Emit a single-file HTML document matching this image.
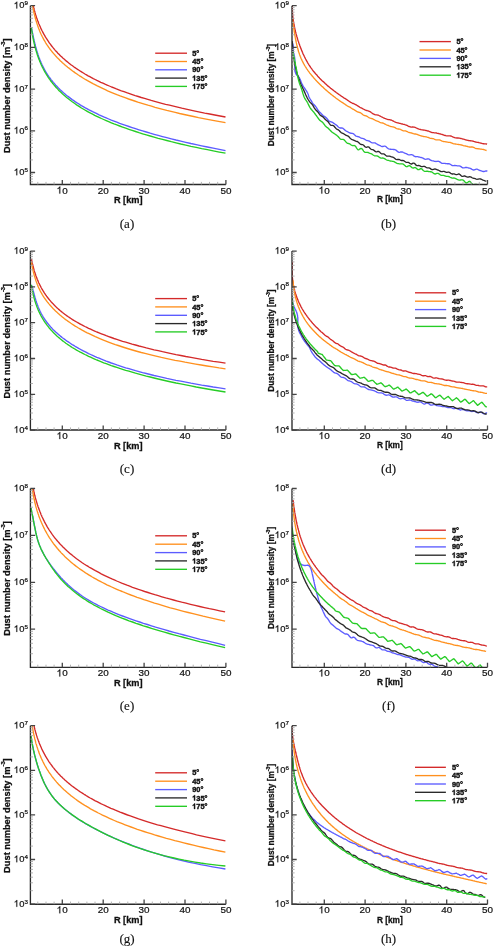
<!DOCTYPE html>
<html><head><meta charset="utf-8"><style>
html,body{margin:0;padding:0;background:#fff;}
body{width:493px;height:946px;overflow:hidden;}
svg{display:block;will-change:transform;font-family:"Liberation Sans",sans-serif;fill:#111;}
text{fill:#111;}
.tl{stroke:#111;stroke-width:.22px;}
.lg{stroke:#111;stroke-width:.4px;}
.bl{stroke:#111;stroke-width:.28px;}
.cp{stroke:#222;stroke-width:.15px;}
</style></head><body>
<svg width="493" height="946" viewBox="0 0 493 946">
<rect width="493" height="946" fill="#fff"/>
<clipPath id="cpa"><rect x="30.4" y="5.1" width="196.5" height="179.4"/></clipPath>
<g clip-path="url(#cpa)" fill="none" stroke-width="1.35" stroke-linejoin="round">
<path d="M33.2,5.7 L33.3,6.1 L33.4,6.6 L33.6,7.1 L33.7,7.6 L33.8,8.1 L33.9,8.6 L34.1,9.1 L34.2,9.7 L34.3,10.2 L34.5,10.7 L34.6,11.3 L34.8,11.8 L35,12.4 L35.1,12.9 L35.3,13.5 L35.5,14.1 L35.6,14.7 L35.8,15.2 L36,15.8 L36.2,16.4 L36.4,17 L36.6,17.7 L36.8,18.3 L37,18.9 L37.3,19.5 L37.5,20.1 L37.7,20.8 L38,21.4 L38.2,22.1 L38.5,22.7 L38.7,23.4 L39,24.1 L39.3,24.7 L39.6,25.4 L39.9,26.1 L40.2,26.8 L40.5,27.5 L40.8,28.2 L41.1,28.9 L41.5,29.6 L41.8,30.3 L42.2,31 L42.6,31.7 L42.9,32.4 L43.3,33.2 L43.7,33.9 L44.1,34.7 L44.6,35.4 L45,36.1 L45.4,36.9 L45.9,37.7 L46.4,38.4 L46.9,39.2 L47.4,40 L47.9,40.7 L48.4,41.5 L49,42.3 L49.5,43.1 L50.1,43.9 L50.7,44.7 L51.3,45.5 L51.9,46.3 L52.6,47.1 L53.2,47.9 L53.9,48.7 L54.6,49.6 L55.3,50.4 L56.1,51.2 L56.9,52 L57.6,52.9 L58.4,53.7 L59.3,54.6 L60.1,55.4 L61,56.3 L61.9,57.1 L62.8,58 L63.8,58.8 L64.8,59.7 L65.8,60.6 L66.8,61.4 L67.9,62.3 L69,63.2 L70.1,64.1 L71.3,65 L72.5,65.8 L73.7,66.7 L75,67.6 L76.3,68.5 L77.6,69.4 L79,70.3 L80.4,71.2 L81.9,72.1 L83.4,73 L84.9,74 L86.5,74.9 L88.1,75.8 L89.8,76.7 L91.5,77.6 L93.3,78.6 L95.1,79.5 L96.9,80.4 L98.9,81.3 L100.8,82.3 L102.9,83.2 L105,84.2 L107.1,85.1 L109.3,86 L111.6,87 L114,87.9 L116.4,88.9 L118.8,89.8 L121.4,90.8 L124,91.7 L126.7,92.7 L129.5,93.6 L132.3,94.6 L135.2,95.6 L138.2,96.5 L141.3,97.5 L144.5,98.4 L147.8,99.4 L151.2,100.4 L154.6,101.3 L158.2,102.3 L161.8,103.3 L165.6,104.3 L169.5,105.2 L173.5,106.2 L177.6,107.2 L181.8,108.2 L186.1,109.1 L190.6,110.1 L195.1,111.1 L199.9,112.1 L204.7,113.1 L209.7,114 L214.8,115 L220.1,116 L225.5,117" stroke="#d42a2a"/>
<path d="M32.4,6 L32.5,6.4 L32.6,6.8 L32.7,7.2 L32.8,7.7 L32.9,8.1 L33,8.6 L33.1,9.1 L33.3,9.6 L33.4,10.1 L33.5,10.7 L33.6,11.2 L33.8,11.8 L33.9,12.4 L34,13 L34.2,13.6 L34.3,14.2 L34.5,14.8 L34.7,15.4 L34.8,16 L35,16.7 L35.2,17.4 L35.3,18 L35.5,18.7 L35.7,19.4 L35.9,20.1 L36.1,20.7 L36.3,21.4 L36.5,22.2 L36.8,22.9 L37,23.6 L37.2,24.3 L37.5,25 L37.7,25.7 L38,26.5 L38.2,27.2 L38.5,27.9 L38.8,28.7 L39.1,29.4 L39.4,30.2 L39.7,30.9 L40,31.7 L40.3,32.4 L40.6,33.2 L41,34 L41.3,34.7 L41.7,35.5 L42.1,36.3 L42.5,37 L42.9,37.8 L43.3,38.6 L43.7,39.4 L44.1,40.2 L44.6,40.9 L45.1,41.7 L45.5,42.5 L46,43.3 L46.5,44.1 L47,44.9 L47.6,45.7 L48.1,46.5 L48.7,47.3 L49.3,48.1 L49.9,49 L50.5,49.8 L51.2,50.6 L51.8,51.4 L52.5,52.3 L53.2,53.1 L53.9,53.9 L54.7,54.8 L55.4,55.6 L56.2,56.5 L57,57.4 L57.9,58.2 L58.7,59.1 L59.6,60 L60.5,60.9 L61.5,61.8 L62.4,62.7 L63.4,63.6 L64.5,64.5 L65.5,65.4 L66.6,66.3 L67.7,67.2 L68.9,68.1 L70.1,69.1 L71.3,70 L72.6,71 L73.9,71.9 L75.2,72.9 L76.6,73.8 L78,74.8 L79.5,75.8 L81,76.7 L82.6,77.7 L84.2,78.7 L85.8,79.7 L87.5,80.7 L89.3,81.7 L91.1,82.7 L92.9,83.7 L94.9,84.7 L96.8,85.7 L98.9,86.7 L101,87.7 L103.1,88.7 L105.3,89.7 L107.6,90.8 L110,91.8 L112.4,92.8 L114.9,93.8 L117.5,94.9 L120.1,95.9 L122.9,96.9 L125.7,97.9 L128.6,99 L131.6,100 L134.6,101 L137.8,102.1 L141.1,103.1 L144.4,104.1 L147.9,105.2 L151.5,106.2 L155.1,107.3 L158.9,108.3 L162.8,109.3 L166.8,110.4 L171,111.4 L175.2,112.4 L179.6,113.5 L184.1,114.5 L188.8,115.5 L193.6,116.5 L198.5,117.6 L203.6,118.6 L208.8,119.6 L214.2,120.6 L219.8,121.7 L225.5,122.7" stroke="#ff901e"/>
<path d="M31.4,27.4 L31.5,27.7 L31.5,28.1 L31.6,28.5 L31.7,28.9 L31.8,29.3 L31.9,29.7 L32,30.2 L32.1,30.6 L32.1,31.1 L32.2,31.6 L32.3,32.1 L32.4,32.6 L32.6,33.2 L32.7,33.7 L32.8,34.3 L32.9,34.9 L33,35.5 L33.1,36.1 L33.3,36.7 L33.4,37.3 L33.5,38 L33.7,38.6 L33.8,39.3 L34,40 L34.1,40.7 L34.3,41.4 L34.5,42.1 L34.6,42.8 L34.8,43.5 L35,44.3 L35.2,45 L35.4,45.8 L35.6,46.6 L35.8,47.3 L36,48.1 L36.3,48.9 L36.5,49.7 L36.7,50.5 L37,51.3 L37.2,52.2 L37.5,53 L37.8,53.8 L38,54.7 L38.3,55.5 L38.6,56.4 L38.9,57.2 L39.3,58.1 L39.6,58.9 L39.9,59.8 L40.3,60.7 L40.7,61.6 L41,62.4 L41.4,63.3 L41.8,64.2 L42.2,65.1 L42.7,66 L43.1,66.9 L43.6,67.8 L44,68.7 L44.5,69.6 L45,70.5 L45.5,71.4 L46.1,72.3 L46.6,73.2 L47.2,74.1 L47.8,75 L48.4,75.9 L49,76.8 L49.7,77.7 L50.4,78.7 L51,79.6 L51.8,80.5 L52.5,81.4 L53.3,82.4 L54.1,83.3 L54.9,84.2 L55.7,85.2 L56.6,86.1 L57.5,87 L58.4,88 L59.4,88.9 L60.4,89.9 L61.4,90.8 L62.4,91.8 L63.5,92.8 L64.7,93.7 L65.8,94.7 L67,95.7 L68.3,96.6 L69.6,97.6 L70.9,98.6 L72.2,99.6 L73.7,100.6 L75.1,101.6 L76.6,102.6 L78.2,103.5 L79.8,104.6 L81.4,105.6 L83.2,106.6 L84.9,107.6 L86.8,108.6 L88.6,109.6 L90.6,110.6 L92.6,111.7 L94.7,112.7 L96.8,113.7 L99.1,114.8 L101.4,115.8 L103.7,116.9 L106.2,117.9 L108.7,119 L111.3,120.1 L114,121.1 L116.8,122.2 L119.7,123.3 L122.6,124.3 L125.7,125.4 L128.9,126.5 L132.1,127.6 L135.5,128.7 L139,129.8 L142.6,130.9 L146.3,132 L150.2,133.2 L154.1,134.3 L158.2,135.4 L162.5,136.6 L166.8,137.7 L171.3,138.8 L176,140 L180.8,141.1 L185.8,142.3 L190.9,143.5 L196.2,144.6 L201.7,145.8 L207.4,147 L213.2,148.2 L219.3,149.4 L225.5,150.6" stroke="#5c5cff"/>
<path d="M31.4,28 L31.5,28.5 L31.5,29.1 L31.6,29.6 L31.7,30.1 L31.8,30.7 L31.9,31.2 L32,31.8 L32.1,32.4 L32.1,33 L32.2,33.6 L32.3,34.1 L32.4,34.8 L32.6,35.4 L32.7,36 L32.8,36.6 L32.9,37.2 L33,37.9 L33.1,38.5 L33.3,39.2 L33.4,39.8 L33.5,40.5 L33.7,41.2 L33.8,41.8 L34,42.5 L34.1,43.2 L34.3,43.9 L34.5,44.6 L34.6,45.3 L34.8,46.1 L35,46.8 L35.2,47.5 L35.4,48.3 L35.6,49 L35.8,49.8 L36,50.5 L36.3,51.3 L36.5,52 L36.7,52.8 L37,53.6 L37.2,54.4 L37.5,55.2 L37.8,56 L38,56.8 L38.3,57.6 L38.6,58.4 L38.9,59.2 L39.3,60 L39.6,60.9 L39.9,61.7 L40.3,62.5 L40.7,63.4 L41,64.2 L41.4,65.1 L41.8,65.9 L42.2,66.8 L42.7,67.7 L43.1,68.6 L43.6,69.4 L44,70.3 L44.5,71.2 L45,72.1 L45.5,73 L46.1,73.9 L46.6,74.8 L47.2,75.7 L47.8,76.6 L48.4,77.6 L49,78.5 L49.7,79.4 L50.4,80.3 L51,81.3 L51.8,82.2 L52.5,83.2 L53.3,84.1 L54.1,85.1 L54.9,86 L55.7,87 L56.6,87.9 L57.5,88.9 L58.4,89.9 L59.4,90.9 L60.4,91.8 L61.4,92.8 L62.4,93.8 L63.5,94.8 L64.7,95.8 L65.8,96.8 L67,97.8 L68.3,98.8 L69.6,99.8 L70.9,100.8 L72.2,101.8 L73.7,102.8 L75.1,103.8 L76.6,104.9 L78.2,105.9 L79.8,106.9 L81.4,108 L83.2,109 L84.9,110 L86.8,111.1 L88.6,112.1 L90.6,113.2 L92.6,114.2 L94.7,115.3 L96.8,116.3 L99.1,117.4 L101.4,118.5 L103.7,119.5 L106.2,120.6 L108.7,121.7 L111.3,122.8 L114,123.9 L116.8,124.9 L119.7,126 L122.6,127.1 L125.7,128.2 L128.9,129.3 L132.1,130.4 L135.5,131.5 L139,132.7 L142.6,133.8 L146.3,134.9 L150.2,136 L154.1,137.1 L158.2,138.3 L162.5,139.4 L166.8,140.5 L171.3,141.7 L176,142.8 L180.8,144 L185.8,145.1 L190.9,146.3 L196.2,147.4 L201.7,148.6 L207.4,149.7 L213.2,150.9 L219.3,152.1 L225.5,153.2" stroke="#26cc26"/>
</g>
<path d="M30.4,5.7 V184.5 H225.9" fill="none" stroke="#2a2a2a" stroke-width="1.35"/>
<path d="M30.4,34.8h2.6 M30.4,27.5h2.6 M30.4,22.3h2.6 M30.4,18.3h2.6 M30.4,15h2.6 M30.4,12.2h2.6 M30.4,9.7h2.6 M30.4,7.6h2.6 M30.4,76.5h2.6 M30.4,69.2h2.6 M30.4,64h2.6 M30.4,60h2.6 M30.4,56.7h2.6 M30.4,53.9h2.6 M30.4,51.4h2.6 M30.4,49.3h2.6 M30.4,118.2h2.6 M30.4,110.9h2.6 M30.4,105.7h2.6 M30.4,101.7h2.6 M30.4,98.4h2.6 M30.4,95.6h2.6 M30.4,93.1h2.6 M30.4,91h2.6 M30.4,159.9h2.6 M30.4,152.6h2.6 M30.4,147.4h2.6 M30.4,143.4h2.6 M30.4,140.1h2.6 M30.4,137.3h2.6 M30.4,134.8h2.6 M30.4,132.7h2.6 M30.4,181.8h2.6 M30.4,179h2.6 M30.4,176.5h2.6 M30.4,174.4h2.6 M37.8,184.5v-2.6 M46,184.5v-2.6 M54.1,184.5v-2.6 M70.5,184.5v-2.6 M78.7,184.5v-2.6 M86.9,184.5v-2.6 M95,184.5v-2.6 M111.4,184.5v-2.6 M119.6,184.5v-2.6 M127.8,184.5v-2.6 M135.9,184.5v-2.6 M152.3,184.5v-2.6 M160.5,184.5v-2.6 M168.6,184.5v-2.6 M176.8,184.5v-2.6 M193.2,184.5v-2.6 M201.4,184.5v-2.6 M209.5,184.5v-2.6 M217.7,184.5v-2.6" fill="none" stroke="#aaa" stroke-width="0.9"/>
<path d="M30.4,5.7h4.7 M30.4,47.4h4.7 M30.4,89.1h4.7 M30.4,130.8h4.7 M30.4,172.5h4.7 M62.3,184.5v-4.6 M103.2,184.5v-4.6 M144.1,184.5v-4.6 M185,184.5v-4.6 M225.9,184.5v-4.6" fill="none" stroke="#444" stroke-width="1.3"/>
<path d="M347,0L259,0L259,560C238,540 210,520 175,499C140,478 109,463 82,453L82,538C131,561 174,589 211,621C248,653 274,685 289,716L347,716Z" transform="translate(13.95,8.40) scale(0.00940,-0.00940)" style="fill:#111;stroke:#111;stroke-width:23.4"/>
<text x="19.17" y="8.40" font-size="9.4" class="tl">0</text>
<text x="24.4" y="5.2" font-size="6.2" class="tl">9</text>
<path d="M347,0L259,0L259,560C238,540 210,520 175,499C140,478 109,463 82,453L82,538C131,561 174,589 211,621C248,653 274,685 289,716L347,716Z" transform="translate(13.95,50.10) scale(0.00940,-0.00940)" style="fill:#111;stroke:#111;stroke-width:23.4"/>
<text x="19.17" y="50.10" font-size="9.4" class="tl">0</text>
<text x="24.4" y="46.9" font-size="6.2" class="tl">8</text>
<path d="M347,0L259,0L259,560C238,540 210,520 175,499C140,478 109,463 82,453L82,538C131,561 174,589 211,621C248,653 274,685 289,716L347,716Z" transform="translate(13.95,91.80) scale(0.00940,-0.00940)" style="fill:#111;stroke:#111;stroke-width:23.4"/>
<text x="19.17" y="91.80" font-size="9.4" class="tl">0</text>
<text x="24.4" y="88.6" font-size="6.2" class="tl">7</text>
<path d="M347,0L259,0L259,560C238,540 210,520 175,499C140,478 109,463 82,453L82,538C131,561 174,589 211,621C248,653 274,685 289,716L347,716Z" transform="translate(13.95,133.50) scale(0.00940,-0.00940)" style="fill:#111;stroke:#111;stroke-width:23.4"/>
<text x="19.17" y="133.50" font-size="9.4" class="tl">0</text>
<text x="24.4" y="130.3" font-size="6.2" class="tl">6</text>
<path d="M347,0L259,0L259,560C238,540 210,520 175,499C140,478 109,463 82,453L82,538C131,561 174,589 211,621C248,653 274,685 289,716L347,716Z" transform="translate(13.95,175.20) scale(0.00940,-0.00940)" style="fill:#111;stroke:#111;stroke-width:23.4"/>
<text x="19.17" y="175.20" font-size="9.4" class="tl">0</text>
<text x="24.4" y="172" font-size="6.2" class="tl">5</text>
<path d="M347,0L259,0L259,560C238,540 210,520 175,499C140,478 109,463 82,453L82,538C131,561 174,589 211,621C248,653 274,685 289,716L347,716Z" transform="translate(56.81,193.60) scale(0.00990,-0.00990)" style="fill:#111;stroke:#111;stroke-width:22.2"/>
<text x="62.32" y="193.60" font-size="9.9" class="tl">0</text>
<text x="97.71" y="193.60" font-size="9.9" class="tl">20</text>
<text x="138.60" y="193.60" font-size="9.9" class="tl">30</text>
<text x="179.50" y="193.60" font-size="9.9" class="tl">40</text>
<text x="220.40" y="193.60" font-size="9.9" class="tl">50</text>
<text x="128.2" y="203" font-size="9.2" font-weight="bold" text-anchor="middle" class="bl">R [km]</text>
<text transform="translate(9.7,95.7) rotate(-90)" font-size="9.3" font-weight="bold" text-anchor="middle" class="bl">Dust number density [m<tspan font-size="5.77" dy="-4.46">-3</tspan><tspan dy="4.46">]</tspan></text>
<path d="M155.2,53.2H187" stroke="#d42a2a" stroke-width="1.35"/>
<text x="192.20" y="55.80" font-size="7.4" class="lg" font-weight="bold">5°</text>
<path d="M155.2,61.5H187" stroke="#ff901e" stroke-width="1.35"/>
<text x="192.20" y="64.10" font-size="7.4" class="lg" font-weight="bold">45°</text>
<path d="M155.2,69.8H187" stroke="#5c5cff" stroke-width="1.35"/>
<text x="192.20" y="72.40" font-size="7.4" class="lg" font-weight="bold">90°</text>
<path d="M155.2,78.1H187" stroke="#2a2a2a" stroke-width="1.35"/>
<path d="M387,0L250,0L250,516C200,469 141,434 73,411L73,535C109,547 148,569 190,601C232,634 261,672 276,716L387,716Z" transform="translate(192.20,80.70) scale(0.00740,-0.00740)" style="fill:#111;stroke:#111;stroke-width:54.1"/>
<text x="196.31" y="80.70" font-size="7.4" class="lg" font-weight="bold">35°</text>
<path d="M155.2,86.4H187" stroke="#26cc26" stroke-width="1.35"/>
<path d="M387,0L250,0L250,516C200,469 141,434 73,411L73,535C109,547 148,569 190,601C232,634 261,672 276,716L387,716Z" transform="translate(192.20,89.00) scale(0.00740,-0.00740)" style="fill:#111;stroke:#111;stroke-width:54.1"/>
<text x="196.31" y="89.00" font-size="7.4" class="lg" font-weight="bold">75°</text>
<text x="127" y="227.6" font-size="13.0" font-family="Liberation Serif, serif" text-anchor="middle" class="cp">(a)</text>
<clipPath id="cpb"><rect x="292" y="5.1" width="196.5" height="179.4"/></clipPath>
<g clip-path="url(#cpb)" fill="none" stroke-width="1.35" stroke-linejoin="round">
<path d="M292.3,3.9 L292.3,4.7 L292.3,5.4 L292.3,6.2 L292.3,7 L292.3,7.8 L292.3,8.5 L292.3,9.3 L292.4,10 L292.4,10.8 L292.4,11.6 L292.5,12.3 L292.5,13.1 L292.6,13.8 L292.6,14.6 L292.7,15.3 L292.8,16 L292.8,16.8 L292.9,17.5 L293,18.3 L293.1,19 L293.2,19.7 L293.3,20.5 L293.4,21.2 L293.5,21.9 L293.6,22.6 L293.8,23.4 L293.9,24.1 L294,24.8 L294.2,25.5 L294.3,26.2 L294.5,26.9 L294.6,27.6 L294.8,28.4 L294.9,29.1 L295.1,29.8 L295.2,30.5 L295.4,31.2 L295.6,31.9 L295.8,32.5 L295.9,33.2 L296.1,33.9 L296.3,34.6 L296.5,35.3 L296.7,36 L296.9,36.7 L297.1,37.3 L297.3,38 L297.5,38.7 L297.7,39.4 L297.9,40 L298.1,40.7 L298.3,41.3 L298.6,42 L298.8,42.7 L299,43.3 L299.2,44 L299.5,44.6 L299.7,45.3 L299.9,45.9 L300.1,46.6 L300.4,47.2 L300.6,47.9 L300.9,48.5 L301.1,49.1 L301.4,49.8 L301.6,50.4 L301.9,51 L302.1,51.6 L302.4,52.3 L302.7,52.9 L302.9,53.5 L303.2,54.1 L303.5,54.7 L303.8,55.3 L304.1,55.9 L304.4,56.6 L304.7,57.2 L305,57.8 L305.3,58.4 L305.6,59 L305.9,59.5 L306.2,60.1 L306.5,60.7 L306.9,61.3 L307.2,61.9 L307.5,62.5 L307.9,63.1 L308.2,63.6 L308.6,64.2 L308.9,64.8 L309.3,65.3 L309.7,65.9 L310,66.5 L310.4,67 L310.8,67.6 L311.2,68.1 L311.6,68.7 L312,69.2 L312.4,69.8 L312.8,70.3 L313.2,70.9 L313.7,71.4 L314.1,72 L314.5,72.5 L315,73 L315.4,73.5 L315.9,74.1 L316.3,74.6 L316.8,75.1 L317.3,75.6 L317.7,76.2 L318.2,76.7 L318.7,77.2 L319.2,77.7 L319.6,78.2 L320.1,78.7 L320.6,79.2 L321.1,79.7 L321.6,80.2 L322.1,80.7 L322.7,81.2 L323.2,81.6 L323.7,82.1 L324.2,82.6 L324.7,83.1 L325.2,83.6 L325.8,84 L326.3,84.5 L326.8,85 L327.4,85.4 L327.9,85.9 L328.4,86.4 L329,86.8 L329.5,87.3 L330.1,87.7 L330.6,88.2 L331.2,88.6 L331.7,89 L332.3,89.5 L332.8,89.9 L333.4,90.3 L333.9,90.8 L334.5,91.2 L335.1,91.6 L335.6,92 L336.2,92.5 L336.8,92.9 L337.3,93.3 L337.9,93.7 L338.5,94.1 L339,94.5 L339.6,94.9 L340.2,95.3 L340.8,95.7 L341.3,96.1 L341.9,96.5 L342.5,96.9 L343.1,97.3 L343.7,97.7 L344.2,98.1 L344.8,98.4 L345.4,98.7 L346,99.1 L346.6,99.5 L347.2,99.9 L347.8,100.4 L348.4,100.8 L349,101.2 L349.6,101.6 L350.2,102 L350.8,102.4 L351.4,102.7 L352,103 L352.6,103.3 L353.2,103.5 L353.8,103.7 L354.4,104 L355,104.3 L355.6,104.6 L356.2,104.9 L356.8,105.3 L357.4,105.7 L358.1,106.1 L358.7,106.5 L359.3,106.9 L359.9,107.3 L360.5,107.6 L361.2,107.9 L361.8,108.2 L362.4,108.5 L363,108.9 L363.6,109.2 L364.3,109.5 L364.9,109.8 L365.5,110.1 L366.2,110.3 L366.8,110.5 L367.4,110.7 L368.1,110.9 L368.7,111.1 L369.3,111.3 L370,111.6 L370.6,112 L371.2,112.5 L371.9,113 L372.5,113.4 L373.2,113.9 L373.8,114.2 L374.4,114.5 L375.1,114.7 L375.7,114.8 L376.4,114.9 L377,114.9 L377.7,115.1 L378.3,115.2 L379,115.5 L379.6,115.8 L380.3,116.1 L380.9,116.5 L381.6,116.8 L382.2,117.2 L382.9,117.5 L383.5,117.8 L384.2,118.1 L384.8,118.4 L385.5,118.6 L386.2,118.9 L386.8,119.1 L387.5,119.3 L388.1,119.5 L388.8,119.6 L389.5,119.7 L390.1,119.9 L390.8,120 L391.4,120.2 L392.1,120.5 L392.8,120.8 L393.4,121.1 L394.1,121.5 L394.8,121.8 L395.4,122.1 L396.1,122.4 L396.8,122.6 L397.4,122.8 L398.1,122.9 L398.8,123.1 L399.5,123.3 L400.1,123.4 L400.8,123.6 L401.5,123.8 L402.2,124 L402.8,124.2 L403.5,124.3 L404.2,124.4 L404.8,124.6 L405.5,124.8 L406.2,125.1 L406.9,125.4 L407.6,125.7 L408.2,126.1 L408.9,126.5 L409.6,126.7 L410.3,126.9 L410.9,127 L411.6,127.1 L412.3,127 L413,127 L413.7,127.1 L414.3,127.2 L415,127.4 L415.7,127.6 L416.4,128 L417.1,128.3 L417.8,128.6 L418.4,128.9 L419.1,129.2 L419.8,129.4 L420.5,129.5 L421.2,129.7 L421.9,129.8 L422.5,129.9 L423.2,130 L423.9,130.1 L424.6,130.2 L425.3,130.4 L426,130.5 L426.7,130.6 L427.3,130.8 L428,131 L428.7,131.2 L429.4,131.5 L430.1,131.8 L430.8,132 L431.5,132.3 L432.1,132.5 L432.8,132.6 L433.5,132.7 L434.2,132.8 L434.9,132.8 L435.6,132.9 L436.3,133 L436.9,133.2 L437.6,133.4 L438.3,133.5 L439,133.7 L439.7,133.9 L440.4,134 L441.1,134.2 L441.7,134.3 L442.4,134.5 L443.1,134.8 L443.8,135 L444.5,135.3 L445.2,135.5 L445.9,135.7 L446.6,135.8 L447.2,135.9 L447.9,135.9 L448.6,135.8 L449.3,135.8 L450,135.9 L450.7,136 L451.3,136.2 L452,136.5 L452.7,136.9 L453.4,137.2 L454.1,137.5 L454.8,137.7 L455.4,137.8 L456.1,137.9 L456.8,138 L457.5,138 L458.2,138 L458.9,138.1 L459.5,138.2 L460.2,138.4 L460.9,138.5 L461.6,138.7 L462.3,138.8 L462.9,139 L463.6,139.2 L464.3,139.4 L465,139.6 L465.7,139.8 L466.3,140 L467,140.2 L467.7,140.4 L468.4,140.5 L469,140.6 L469.7,140.7 L470.4,140.7 L471.1,140.8 L471.7,140.8 L472.4,141 L473.1,141.1 L473.7,141.4 L474.4,141.6 L475.1,141.8 L475.8,142 L476.4,142.1 L477.1,142.3 L477.8,142.4 L478.4,142.5 L479.1,142.7 L479.8,142.8 L480.4,143 L481.1,143.2 L481.8,143.4 L482.4,143.6 L483.1,143.7 L483.8,143.7 L484.4,143.8 L485.1,143.8 L485.7,143.9 L486.4,144 L487.1,144.2 L487.1,144.2" stroke="#d42a2a"/>
<path d="M292.3,18.8 L292.4,19.6 L292.5,20.4 L292.7,21.2 L292.8,22 L292.9,22.8 L293,23.6 L293.1,24.4 L293.3,25.1 L293.4,25.9 L293.5,26.7 L293.6,27.5 L293.7,28.2 L293.9,29 L294,29.8 L294.1,30.5 L294.2,31.3 L294.3,32 L294.5,32.8 L294.6,33.5 L294.7,34.2 L294.8,35 L295,35.7 L295.1,36.4 L295.2,37.2 L295.4,37.9 L295.5,38.6 L295.6,39.3 L295.8,40 L295.9,40.8 L296.1,41.5 L296.2,42.2 L296.4,42.9 L296.5,43.6 L296.7,44.3 L296.8,44.9 L297,45.6 L297.2,46.3 L297.3,47 L297.5,47.7 L297.7,48.3 L297.9,49 L298.1,49.7 L298.2,50.3 L298.4,51 L298.6,51.7 L298.9,52.3 L299.1,53 L299.3,53.6 L299.5,54.3 L299.7,54.9 L300,55.6 L300.2,56.2 L300.5,56.8 L300.7,57.5 L301,58.1 L301.2,58.7 L301.5,59.3 L301.8,59.9 L302.1,60.6 L302.4,61.2 L302.7,61.8 L303,62.4 L303.3,63 L303.6,63.6 L304,64.2 L304.3,64.8 L304.6,65.4 L305,66 L305.3,66.5 L305.7,67.1 L306.1,67.7 L306.4,68.3 L306.8,68.9 L307.2,69.4 L307.6,70 L308,70.6 L308.4,71.1 L308.8,71.7 L309.2,72.2 L309.6,72.8 L310,73.3 L310.5,73.9 L310.9,74.4 L311.3,75 L311.8,75.5 L312.2,76 L312.7,76.6 L313.1,77.1 L313.6,77.6 L314,78.2 L314.5,78.7 L315,79.2 L315.4,79.7 L315.9,80.2 L316.4,80.7 L316.8,81.2 L317.3,81.7 L317.8,82.2 L318.3,82.7 L318.8,83.2 L319.3,83.7 L319.8,84.2 L320.3,84.7 L320.8,85.2 L321.3,85.7 L321.8,86.2 L322.3,86.6 L322.8,87.1 L323.3,87.6 L323.8,88.1 L324.3,88.5 L324.8,89 L325.4,89.5 L325.9,89.9 L326.4,90.4 L326.9,90.8 L327.4,91.3 L328,91.7 L328.5,92.2 L329,92.6 L329.6,93.1 L330.1,93.5 L330.6,93.9 L331.2,94.4 L331.7,94.8 L332.3,95.2 L332.8,95.6 L333.3,96.1 L333.9,96.5 L334.4,96.9 L335,97.3 L335.5,97.7 L336.1,98.2 L336.7,98.6 L337.2,99 L337.8,99.4 L338.3,99.8 L338.9,100.2 L339.5,100.6 L340,101 L340.6,101.4 L341.2,101.8 L341.7,102.1 L342.3,102.5 L342.9,102.9 L343.5,103.3 L344,103.7 L344.6,104 L345.2,104.4 L345.8,104.9 L346.4,105.3 L347,105.7 L347.5,106 L348.1,106.3 L348.7,106.6 L349.3,106.8 L349.9,107.1 L350.5,107.5 L351.1,108 L351.7,108.4 L352.3,108.8 L352.9,109.1 L353.5,109.4 L354.1,109.7 L354.7,110.1 L355.3,110.5 L355.9,110.9 L356.5,111.3 L357.2,111.7 L357.8,112 L358.4,112.2 L359,112.4 L359.6,112.5 L360.2,112.7 L360.8,113 L361.5,113.5 L362.1,114 L362.7,114.5 L363.3,115 L364,115.3 L364.6,115.5 L365.2,115.6 L365.8,115.8 L366.5,116 L367.1,116.3 L367.7,116.7 L368.4,117.2 L369,117.6 L369.6,117.9 L370.3,118.2 L370.9,118.3 L371.5,118.5 L372.2,118.6 L372.8,118.9 L373.5,119.3 L374.1,119.6 L374.8,120 L375.4,120.3 L376,120.6 L376.7,120.8 L377.3,121.1 L378,121.3 L378.6,121.7 L379.3,122 L379.9,122.3 L380.6,122.6 L381.2,122.8 L381.9,122.9 L382.6,123 L383.2,123.2 L383.9,123.5 L384.5,123.8 L385.2,124.2 L385.8,124.5 L386.5,124.8 L387.2,125.1 L387.8,125.3 L388.5,125.5 L389.1,125.8 L389.8,126.1 L390.5,126.3 L391.1,126.6 L391.8,126.7 L392.5,126.8 L393.1,126.9 L393.8,127.1 L394.5,127.3 L395.2,127.7 L395.8,128.1 L396.5,128.5 L397.2,128.8 L397.8,128.9 L398.5,129 L399.2,129.1 L399.9,129.2 L400.5,129.5 L401.2,129.8 L401.9,130.2 L402.6,130.5 L403.2,130.8 L403.9,130.8 L404.6,130.9 L405.3,130.9 L405.9,131 L406.6,131.3 L407.3,131.6 L408,132 L408.7,132.3 L409.3,132.5 L410,132.7 L410.7,132.9 L411.4,133 L412.1,133.2 L412.8,133.5 L413.4,133.7 L414.1,133.9 L414.8,134 L415.5,134 L416.2,134.1 L416.9,134.3 L417.5,134.5 L418.2,134.8 L418.9,135.1 L419.6,135.4 L420.3,135.6 L421,135.8 L421.7,136 L422.3,136.1 L423,136.3 L423.7,136.5 L424.4,136.6 L425.1,136.7 L425.8,136.8 L426.5,136.9 L427.1,137.1 L427.8,137.3 L428.5,137.5 L429.2,137.8 L429.9,138.1 L430.6,138.3 L431.3,138.4 L432,138.5 L432.7,138.6 L433.3,138.7 L434,139 L434.7,139.3 L435.4,139.6 L436.1,139.8 L436.8,139.8 L437.5,139.8 L438.2,139.8 L438.8,139.8 L439.5,139.9 L440.2,140.2 L440.9,140.5 L441.6,140.9 L442.3,141.2 L443,141.4 L443.6,141.5 L444.3,141.6 L445,141.6 L445.7,141.8 L446.4,141.9 L447.1,142.1 L447.8,142.2 L448.4,142.3 L449.1,142.3 L449.8,142.4 L450.5,142.5 L451.2,142.8 L451.9,143 L452.6,143.3 L453.2,143.6 L453.9,143.8 L454.6,143.9 L455.3,144 L456,144.1 L456.6,144.2 L457.3,144.3 L458,144.4 L458.7,144.5 L459.4,144.6 L460,144.7 L460.7,144.9 L461.4,145 L462.1,145.2 L462.8,145.4 L463.4,145.6 L464.1,145.8 L464.8,145.9 L465.5,146 L466.1,146.1 L466.8,146.3 L467.5,146.5 L468.1,146.7 L468.8,146.9 L469.5,147 L470.2,147.1 L470.8,147 L471.5,147 L472.2,147 L472.8,147.1 L473.5,147.4 L474.2,147.7 L474.8,148 L475.5,148.3 L476.2,148.5 L476.8,148.6 L477.5,148.7 L478.2,148.7 L478.8,148.8 L479.5,148.9 L480.1,149 L480.8,149.1 L481.5,149.2 L482.1,149.3 L482.8,149.4 L483.4,149.5 L484.1,149.7 L484.7,149.9 L485.4,150.1 L486,150.3 L486.6,150.5" stroke="#ff901e"/>
<path d="M292.6,33.9 L291.8,34.6 L291.1,35.3 L290.7,36 L290.4,36.7 L290.3,37.4 L290.4,38.1 L290.5,38.8 L290.7,39.5 L291,40.2 L291.3,40.9 L291.7,41.6 L292,42.3 L292.4,43 L292.7,43.7 L292.9,44.4 L293.1,45.1 L293.2,45.8 L293.3,46.5 L293.3,47.2 L293.2,47.9 L293.2,48.5 L293.1,49.2 L293.1,49.9 L293.1,50.6 L293.2,51.3 L293.3,52 L293.5,52.7 L293.7,53.3 L293.9,54 L294.1,54.7 L294.2,55.4 L294.4,56.1 L294.5,56.7 L294.6,57.4 L294.7,58.1 L294.8,58.8 L294.8,59.4 L294.9,60.1 L294.9,60.8 L294.9,61.4 L294.9,62.1 L294.9,62.8 L294.9,63.4 L294.9,64.1 L294.9,64.7 L294.9,65.4 L294.9,66.1 L294.9,66.7 L294.8,67.4 L294.8,68 L294.8,68.7 L294.8,69.3 L294.8,70 L294.9,70.6 L295,71.3 L295.2,71.9 L295.4,72.6 L295.7,73.2 L296.1,74.2 L296.5,74.8 L297,75.4 L297.5,75.8 L298,76.2 L298.4,76.7 L298.9,77.1 L299.3,77.7 L299.6,78.3 L300,79 L300.3,79.7 L300.6,80.4 L300.9,81.2 L301.2,81.9 L301.5,82.7 L301.8,83.4 L302.1,84.1 L302.5,84.8 L302.8,85.4 L303.1,86 L303.5,86.6 L303.8,87.1 L304.2,87.6 L304.6,88.1 L304.9,88.7 L305.3,89.3 L305.7,89.9 L306.1,90.5 L306.5,91.1 L306.9,91.7 L307.2,92.3 L307.6,92.9 L307.8,93.5 L308.1,94 L308.3,94.6 L308.4,95.1 L308.6,95.7 L308.7,96.3 L308.9,96.8 L309.2,97.4 L309.5,97.9 L309.8,98.5 L310.2,99.1 L310.6,99.7 L311,100.5 L311.5,101.2 L311.9,101.9 L312.3,102.6 L312.8,103.3 L313.2,103.8 L313.6,104.3 L314,104.7 L314.4,105.1 L314.8,105.5 L315.2,106 L315.6,106.5 L316.1,107 L316.5,107.6 L316.9,108.3 L317.3,109 L317.7,109.7 L318.2,110.3 L318.6,110.9 L319,111.5 L319.5,112 L319.9,112.4 L320.4,112.8 L320.9,113.3 L321.3,113.8 L321.8,114.3 L322.3,114.8 L322.8,115.3 L323.3,115.8 L323.8,116.1 L324.3,116.5 L324.9,116.7 L325.4,117.1 L325.9,117.5 L326.5,118 L327,118.6 L327.6,119.3 L328.1,120 L328.7,120.7 L329.2,121.2 L329.8,121.5 L330.4,121.7 L331,121.9 L331.5,122 L332.1,122.2 L332.7,122.5 L333.3,122.9 L333.9,123.4 L334.5,123.8 L335.1,124.2 L335.7,124.6 L336.3,125 L336.9,125.5 L337.5,126.1 L338.1,126.8 L338.8,127.3 L339.4,127.7 L340,128 L340.6,128 L341.2,128 L341.8,127.9 L342.5,128.1 L343.1,128.4 L343.7,128.9 L344.3,129.5 L344.9,130.1 L345.6,130.6 L346.2,131 L346.8,131.3 L347.4,131.7 L348,132 L348.7,132.4 L349.3,132.7 L349.9,133 L350.6,133.2 L351.2,133.2 L351.8,133.3 L352.4,133.4 L353.1,133.6 L353.7,134 L354.3,134.6 L355,135.2 L355.6,135.8 L356.2,136.1 L356.9,136.3 L357.5,136.5 L358.2,136.6 L358.8,136.8 L359.4,137.1 L360.1,137.5 L360.7,137.8 L361.3,138.1 L362,138.3 L362.6,138.4 L363.3,138.6 L363.9,138.8 L364.6,139.2 L365.2,139.6 L365.8,140 L366.5,140.3 L367.1,140.5 L367.8,140.6 L368.4,140.8 L369.1,141 L369.7,141.4 L370.4,141.8 L371,142.3 L371.7,142.7 L372.3,142.9 L373,142.9 L373.6,142.8 L374.3,142.8 L374.9,142.9 L375.6,143.2 L376.2,143.6 L376.9,144 L377.5,144.4 L378.2,144.8 L378.9,145 L379.5,145.3 L380.2,145.6 L380.8,146 L381.5,146.3 L382.1,146.5 L382.8,146.5 L383.5,146.3 L384.1,146.2 L384.8,146.1 L385.4,146.3 L386.1,146.8 L386.8,147.4 L387.4,148 L388.1,148.6 L388.8,148.9 L389.4,149.1 L390.1,149.2 L390.7,149.2 L391.4,149.3 L392.1,149.4 L392.7,149.4 L393.4,149.5 L394.1,149.5 L394.7,149.6 L395.4,149.8 L396.1,150.2 L396.7,150.7 L397.4,151.4 L398.1,151.9 L398.7,152.3 L399.4,152.3 L400.1,152.2 L400.7,152 L401.4,151.9 L402.1,152 L402.8,152.2 L403.4,152.5 L404.1,152.8 L404.8,153.1 L405.4,153.4 L406.1,153.6 L406.8,153.9 L407.5,154.3 L408.1,154.6 L408.8,154.8 L409.5,154.9 L410.2,154.8 L410.8,154.7 L411.5,154.6 L412.2,154.8 L412.9,155.1 L413.5,155.6 L414.2,156.1 L414.9,156.5 L415.6,156.7 L416.2,156.7 L416.9,156.6 L417.6,156.6 L418.3,156.8 L419,157 L419.6,157.2 L420.3,157.4 L421,157.5 L421.7,157.7 L422.3,157.9 L423,158.2 L423.7,158.6 L424.4,159 L425.1,159.2 L425.7,159.3 L426.4,159.2 L427.1,159 L427.8,158.8 L428.5,158.9 L429.1,159.2 L429.8,159.6 L430.5,160.1 L431.2,160.5 L431.9,160.7 L432.6,160.8 L433.2,160.9 L433.9,161.1 L434.6,161.3 L435.3,161.4 L436,161.5 L436.7,161.4 L437.3,161.3 L438,161.2 L438.7,161.3 L439.4,161.6 L440.1,162.1 L440.8,162.6 L441.4,163.1 L442.1,163.3 L442.8,163.3 L443.5,163.3 L444.2,163.3 L444.9,163.3 L445.5,163.5 L446.2,163.6 L446.9,163.7 L447.6,163.7 L448.3,163.7 L449,163.7 L449.7,164 L450.3,164.3 L451,164.8 L451.7,165.3 L452.4,165.5 L453.1,165.6 L453.8,165.6 L454.5,165.5 L455.1,165.5 L455.8,165.6 L456.5,165.7 L457.2,165.8 L457.9,165.9 L458.6,165.9 L459.3,165.9 L460,166.1 L460.6,166.4 L461.3,166.9 L462,167.4 L462.7,167.8 L463.4,167.9 L464.1,167.9 L464.8,167.7 L465.4,167.5 L466.1,167.5 L466.8,167.5 L467.5,167.7 L468.2,167.8 L468.9,168 L469.6,168.1 L470.2,168.3 L470.9,168.6 L471.6,169.1 L472.3,169.5 L473,169.9 L473.7,170 L474.4,169.9 L475,169.6 L475.7,169.3 L476.4,169.1 L477.1,169.2 L477.8,169.5 L478.5,169.8 L479.2,170.2 L479.8,170.5 L480.5,170.7 L481.2,170.9 L481.9,171.1 L482.6,171.3 L483.3,171.5 L484,171.5 L484.6,171.4 L485.3,171.2 L486,171 L486.7,171 L487.4,171.2" stroke="#5c5cff"/>
<path d="M292.4,41.2 L292.4,42 L292.4,42.8 L292.4,43.5 L292.5,44.3 L292.5,45 L292.5,45.8 L292.5,46.5 L292.6,47.3 L292.6,48 L292.7,48.8 L292.7,49.5 L292.8,50.3 L292.9,51 L292.9,51.7 L293,52.5 L293.1,53.2 L293.2,53.9 L293.3,54.7 L293.4,55.4 L293.4,56.1 L293.5,56.8 L293.7,57.6 L293.8,58.3 L293.9,59 L294,59.7 L294.1,60.4 L294.2,61.1 L294.4,61.9 L294.5,62.6 L294.7,63.3 L294.8,64 L294.9,64.7 L295.1,65.4 L295.3,66.1 L295.4,66.8 L295.6,67.5 L295.7,68.1 L295.9,68.8 L296.1,70 L296.3,70.6 L296.5,71.3 L296.6,71.9 L296.8,72.5 L297,73.2 L297.2,73.8 L297.4,74.4 L297.6,75 L297.8,75.6 L298.1,76.2 L298.3,76.9 L298.5,77.5 L298.7,78.2 L298.9,78.8 L299.2,79.5 L299.4,80.2 L299.6,80.8 L299.9,81.5 L300.1,82.2 L300.4,82.8 L300.6,83.5 L300.9,84.1 L301.1,84.7 L301.4,85.3 L301.7,85.9 L301.9,86.4 L302.2,87 L302.5,87.6 L302.7,88.1 L303,88.7 L303.3,89.3 L303.6,89.9 L303.9,90.5 L304.2,91.2 L304.5,91.9 L304.8,92.6 L305.1,93.3 L305.4,94 L305.7,94.7 L306,95.3 L306.3,96 L306.6,96.7 L307,97.3 L307.3,98 L307.6,98.6 L308,99.2 L308.3,99.8 L308.7,100.3 L309,100.9 L309.4,101.4 L309.7,101.8 L310.1,102.3 L310.5,102.7 L310.9,103 L311.3,103.4 L311.7,103.8 L312.1,104.3 L312.5,104.8 L312.9,105.4 L313.3,106.1 L313.7,106.8 L314.1,107.6 L314.6,108.3 L315,108.9 L315.4,109.5 L315.9,110 L316.3,110.4 L316.8,110.9 L317.3,111.3 L317.7,111.8 L318.2,112.4 L318.7,113.1 L319.1,113.7 L319.6,114.4 L320.1,115 L320.6,115.4 L321.1,115.8 L321.6,116 L322.1,116.3 L322.6,116.6 L323.1,117 L323.6,117.5 L324.1,118.1 L324.7,118.8 L325.2,119.4 L325.7,119.8 L326.2,120.2 L326.7,120.6 L327.3,120.9 L327.8,121.4 L328.3,122 L328.9,122.8 L329.4,123.6 L330,124.4 L330.5,125 L331,125.3 L331.6,125.4 L332.1,125.4 L332.7,125.4 L333.2,125.6 L333.8,125.9 L334.3,126.5 L334.9,127.2 L335.5,127.9 L336,128.5 L336.6,129 L337.1,129.3 L337.7,129.5 L338.3,129.8 L338.8,130.3 L339.4,130.8 L340,131.5 L340.5,132.1 L341.1,132.6 L341.7,132.9 L342.3,133.2 L342.8,133.4 L343.4,133.7 L344,134 L344.6,134.4 L345.2,134.8 L345.7,135.2 L346.3,135.4 L346.9,135.6 L347.5,135.8 L348.1,136.1 L348.7,136.6 L349.3,137.2 L349.9,137.9 L350.5,138.5 L351.1,139 L351.7,139.4 L352.3,139.7 L352.9,139.9 L353.5,140.1 L354.1,140.4 L354.7,140.7 L355.3,141 L355.9,141.2 L356.5,141.3 L357.1,141.5 L357.7,141.7 L358.3,142.2 L358.9,142.7 L359.6,143.4 L360.2,144 L360.8,144.4 L361.4,144.5 L362,144.6 L362.6,144.7 L363.3,145 L363.9,145.5 L364.5,146.2 L365.1,146.8 L365.8,147.2 L366.4,147.3 L367,147.1 L367.6,146.9 L368.3,146.9 L368.9,147.1 L369.5,147.7 L370.2,148.4 L370.8,149 L371.4,149.4 L372.1,149.6 L372.7,149.7 L373.3,149.9 L374,150.3 L374.6,150.9 L375.3,151.4 L375.9,151.8 L376.5,151.9 L377.2,151.7 L377.8,151.5 L378.5,151.4 L379.1,151.7 L379.8,152.2 L380.4,152.9 L381.1,153.5 L381.7,153.8 L382.4,153.9 L383,153.8 L383.7,153.9 L384.3,154.2 L385,154.7 L385.6,155.3 L386.3,155.8 L386.9,156.1 L387.6,156.2 L388.3,156.1 L388.9,156.1 L389.6,156.2 L390.2,156.4 L390.9,156.7 L391.6,156.8 L392.2,157 L392.9,157.2 L393.5,157.5 L394.2,157.9 L394.9,158.5 L395.5,159.1 L396.2,159.4 L396.9,159.6 L397.5,159.5 L398.2,159.4 L398.9,159.5 L399.5,159.7 L400.2,160 L400.9,160.3 L401.6,160.5 L402.2,160.5 L402.9,160.5 L403.6,160.6 L404.2,161 L404.9,161.5 L405.6,162 L406.3,162.4 L406.9,162.4 L407.6,162.4 L408.3,162.4 L409,162.7 L409.6,163.2 L410.3,163.7 L411,164 L411.7,164 L412.3,163.6 L413,163.2 L413.7,163.1 L414.4,163.3 L415.1,164 L415.7,164.8 L416.4,165.4 L417.1,165.7 L417.8,165.6 L418.5,165.5 L419.1,165.5 L419.8,165.8 L420.5,166.2 L421.2,166.6 L421.9,166.7 L422.6,166.6 L423.2,166.4 L423.9,166.3 L424.6,166.4 L425.3,166.8 L426,167.3 L426.7,167.7 L427.3,167.9 L428,167.9 L428.7,167.9 L429.4,168 L430.1,168.4 L430.8,168.9 L431.4,169.4 L432.1,169.6 L432.8,169.5 L433.5,169.3 L434.2,169.1 L434.9,169 L435.6,169.2 L436.2,169.4 L436.9,169.7 L437.6,170 L438.3,170.2 L439,170.5 L439.7,170.9 L440.4,171.3 L441,171.5 L441.7,171.6 L442.4,171.6 L443.1,171.4 L443.8,171.4 L444.5,171.5 L445.2,171.8 L445.8,172.2 L446.5,172.4 L447.2,172.3 L447.9,172.2 L448.6,172.1 L449.3,172.3 L450,172.7 L450.6,173.2 L451.3,173.7 L452,174 L452.7,174 L453.4,173.9 L454.1,173.9 L454.7,174.1 L455.4,174.4 L456.1,174.6 L456.8,174.6 L457.5,174.4 L458.2,174.2 L458.8,174 L459.5,174.2 L460.2,174.8 L460.9,175.5 L461.6,176.1 L462.2,176.4 L462.9,176.3 L463.6,176.1 L464.3,175.9 L465,176 L465.6,176.3 L466.3,176.7 L467,177 L467.7,177.1 L468.4,177 L469,176.8 L469.7,176.7 L470.4,176.8 L471.1,177.1 L471.7,177.5 L472.4,177.9 L473.1,178.1 L473.8,178.3 L474.4,178.4 L475.1,178.6 L475.8,178.9 L476.4,179.1 L477.1,179.3 L477.8,179.2 L478.5,179.1 L479.1,178.9 L479.8,178.9 L480.5,179 L481.1,179.2 L481.8,179.5 L482.5,179.9 L483.1,180.2 L483.8,180.4 L484.5,180.6 L485.1,180.9 L485.8,181.1 L486.4,181.2" stroke="#2a2a2a"/>
<path d="M292.6,51.5 L292.8,52.2 L293,53 L293.2,53.7 L293.3,54.4 L293.5,55.1 L293.6,55.9 L293.8,56.6 L294,57.3 L294.1,58 L294.3,58.7 L294.4,59.5 L294.6,60.2 L294.7,60.9 L294.9,61.6 L295,62.3 L295.2,63 L295.3,63.7 L295.4,64.4 L295.6,65.1 L295.7,65.9 L295.9,66.6 L296,66.7 L296.2,67.5 L296.3,68.3 L296.4,69.2 L296.6,70 L296.7,70.8 L296.9,71.7 L297,72.5 L297.2,73.3 L297.3,74.1 L297.4,74.9 L297.6,75.7 L297.7,76.5 L297.9,77.3 L298.1,78 L298.2,78.7 L298.4,79.4 L298.5,80 L298.7,80.6 L298.9,81.2 L299,81.8 L299.2,82.4 L299.4,82.9 L299.5,83.4 L299.7,83.9 L299.9,84.4 L300.1,84.9 L300.3,85.4 L300.5,85.9 L300.7,86.4 L300.9,87 L301.1,87.6 L301.3,88.2 L301.5,88.8 L301.7,89.5 L302,90.2 L302.2,91 L302.4,91.8 L302.7,92.6 L302.9,93.4 L303.2,94.2 L303.4,95 L303.7,95.7 L303.9,96.5 L304.2,97.1 L304.5,97.8 L304.8,98.3 L305.1,98.8 L305.4,99.3 L305.7,99.8 L306,100.2 L306.3,100.6 L306.6,101.1 L307,101.7 L307.3,102.3 L307.7,102.9 L308,103.6 L308.4,104.4 L308.7,105.2 L309.1,105.9 L309.5,106.6 L309.8,107.3 L310.2,107.9 L310.6,108.5 L311,109 L311.4,109.5 L311.8,109.9 L312.2,110.3 L312.6,110.8 L313,111.3 L313.4,111.8 L313.9,112.3 L314.3,112.9 L314.7,113.5 L315.1,114 L315.6,114.6 L316,115.2 L316.5,115.8 L316.9,116.4 L317.4,117.1 L317.8,117.7 L318.3,118.3 L318.7,119 L319.2,119.6 L319.6,120.1 L320.1,120.5 L320.6,120.9 L321.1,121.2 L321.5,121.5 L322,121.9 L322.5,122.3 L323,122.8 L323.4,123.4 L323.9,124 L324.4,124.7 L324.9,125.4 L325.4,125.9 L325.9,126.5 L326.4,126.9 L326.9,127.3 L327.4,127.6 L327.9,128 L328.4,128.4 L328.9,128.9 L329.4,129.4 L329.9,130 L330.4,130.5 L330.9,131.1 L331.4,131.5 L331.9,132 L332.4,132.4 L332.9,132.7 L333.5,133.1 L334,133.4 L334.5,133.8 L335.1,134.2 L335.6,134.5 L336.1,134.9 L336.7,135.3 L337.2,135.8 L337.8,136.3 L338.3,136.8 L338.9,137.5 L339.5,138.1 L340,138.7 L340.6,139.1 L341.2,139.4 L341.8,139.4 L342.3,139.4 L342.9,139.4 L343.5,139.5 L344.1,139.8 L344.7,140.4 L345.3,141.2 L345.9,141.9 L346.5,142.6 L347.1,143.1 L347.7,143.4 L348.4,143.5 L349,143.6 L349.6,143.9 L350.2,144.2 L350.8,144.7 L351.5,145.2 L352.1,145.5 L352.7,145.6 L353.3,145.6 L354,145.5 L354.6,145.6 L355.2,146 L355.9,146.8 L356.5,147.8 L357.2,148.8 L357.8,149.6 L358.4,149.8 L359.1,149.6 L359.7,149.1 L360.4,148.6 L361,148.4 L361.7,148.6 L362.3,149.2 L363,150.2 L363.6,151.1 L364.3,151.9 L364.9,152.3 L365.6,152.4 L366.2,152.4 L366.9,152.3 L367.5,152.3 L368.2,152.5 L368.8,152.8 L369.5,153.1 L370.1,153.4 L370.8,153.6 L371.5,153.9 L372.1,154.2 L372.8,154.7 L373.4,155.1 L374.1,155.5 L374.7,155.8 L375.4,155.9 L376,155.8 L376.7,155.8 L377.4,156 L378,156.3 L378.7,156.7 L379.3,157.3 L380,157.7 L380.6,158 L381.3,158.1 L382,158.1 L382.6,158 L383.3,158.1 L383.9,158.3 L384.6,158.7 L385.3,159.1 L385.9,159.5 L386.6,159.9 L387.2,160.1 L387.9,160.3 L388.6,160.4 L389.2,160.6 L389.9,160.8 L390.5,161 L391.2,161.1 L391.9,161.2 L392.5,161.3 L393.2,161.4 L393.9,161.6 L394.5,161.9 L395.2,162.3 L395.8,162.7 L396.5,163.1 L397.2,163.4 L397.8,163.6 L398.5,163.7 L399.2,163.8 L399.8,163.9 L400.5,163.9 L401.2,163.9 L401.8,163.8 L402.5,163.9 L403.2,164.1 L403.8,164.5 L404.5,165.2 L405.2,165.8 L405.8,166.4 L406.5,166.7 L407.2,166.6 L407.8,166.2 L408.5,165.8 L409.2,165.6 L409.9,165.8 L410.5,166.2 L411.2,166.9 L411.9,167.6 L412.5,167.9 L413.2,168 L413.9,167.8 L414.6,167.6 L415.2,167.5 L415.9,167.9 L416.6,168.5 L417.2,169.1 L417.9,169.6 L418.6,169.7 L419.3,169.5 L419.9,169.1 L420.6,168.7 L421.3,168.7 L422,169 L422.6,169.7 L423.3,170.4 L424,171 L424.7,171.3 L425.3,171.4 L426,171.3 L426.7,171.2 L427.4,171.2 L428,171.3 L428.7,171.5 L429.4,171.6 L430.1,171.7 L430.8,171.7 L431.4,171.9 L432.1,172.2 L432.8,172.7 L433.5,173.2 L434.1,173.7 L434.8,174 L435.5,174 L436.2,173.7 L436.9,173.4 L437.5,173.3 L438.2,173.4 L438.9,173.8 L439.6,174.3 L440.2,174.8 L440.9,175.1 L441.6,175.3 L442.3,175.3 L443,175.3 L443.6,175.4 L444.3,175.7 L445,176 L445.7,176.2 L446.3,176.4 L447,176.4 L447.7,176.4 L448.4,176.5 L449.1,176.6 L449.7,177 L450.4,177.4 L451.1,177.7 L451.8,178 L452.4,178.1 L453.1,178.1 L453.8,178 L454.5,178.1 L455.1,178.3 L455.8,178.6 L456.5,179 L457.2,179.4 L457.8,179.7 L458.5,179.9 L459.2,180.1 L459.9,180.1 L460.5,180 L461.2,179.9 L461.9,179.8 L462.6,179.9 L463.2,180.2 L463.9,180.8 L464.6,181.5 L465.2,182.2 L465.9,182.8 L466.6,182.9 L467.2,182.7 L467.9,182.2 L468.6,181.6 L469.3,181.3 L469.9,181.5 L470.6,182.1 L471.3,182.9 L471.9,183.8 L472.6,184.5 L473.3,184.8 L473.9,184.8 L474.6,184.5 L475.2,184.3 L475.9,184.3 L476.6,184.5 L477.2,184.8 L477.9,185.2 L478.6,185.4 L479.2,185.4 L479.9,185.5 L480.5,185.6 L481.2,186 L481.9,186.5 L482.5,187.2 L483.2,187.8 L483.8,188.1 L484.5,188.1 L485.1,187.8 L485.8,187.5 L486.4,187.4 L486.9,187.4" stroke="#26cc26"/>
</g>
<path d="M292,5.7 V184.5 H487.5" fill="none" stroke="#2a2a2a" stroke-width="1.35"/>
<path d="M292,34.8h2.6 M292,27.5h2.6 M292,22.3h2.6 M292,18.3h2.6 M292,15h2.6 M292,12.2h2.6 M292,9.7h2.6 M292,7.6h2.6 M292,76.5h2.6 M292,69.2h2.6 M292,64h2.6 M292,60h2.6 M292,56.7h2.6 M292,53.9h2.6 M292,51.4h2.6 M292,49.3h2.6 M292,118.2h2.6 M292,110.9h2.6 M292,105.7h2.6 M292,101.7h2.6 M292,98.4h2.6 M292,95.6h2.6 M292,93.1h2.6 M292,91h2.6 M292,159.9h2.6 M292,152.6h2.6 M292,147.4h2.6 M292,143.4h2.6 M292,140.1h2.6 M292,137.3h2.6 M292,134.8h2.6 M292,132.7h2.6 M292,181.8h2.6 M292,179h2.6 M292,176.5h2.6 M292,174.4h2.6 M299.9,184.5v-2.6 M308,184.5v-2.6 M316.2,184.5v-2.6 M332.5,184.5v-2.6 M340.6,184.5v-2.6 M348.8,184.5v-2.6 M357,184.5v-2.6 M373.3,184.5v-2.6 M381.4,184.5v-2.6 M389.6,184.5v-2.6 M397.8,184.5v-2.6 M414.1,184.5v-2.6 M422.2,184.5v-2.6 M430.4,184.5v-2.6 M438.5,184.5v-2.6 M454.9,184.5v-2.6 M463,184.5v-2.6 M471.2,184.5v-2.6 M479.3,184.5v-2.6" fill="none" stroke="#aaa" stroke-width="0.9"/>
<path d="M292,5.7h4.7 M292,47.4h4.7 M292,89.1h4.7 M292,130.8h4.7 M292,172.5h4.7 M324.3,184.5v-4.6 M365.1,184.5v-4.6 M405.9,184.5v-4.6 M446.7,184.5v-4.6 M487.5,184.5v-4.6" fill="none" stroke="#444" stroke-width="1.3"/>
<path d="M347,0L259,0L259,560C238,540 210,520 175,499C140,478 109,463 82,453L82,538C131,561 174,589 211,621C248,653 274,685 289,716L347,716Z" transform="translate(274.95,8.40) scale(0.00940,-0.00940)" style="fill:#111;stroke:#111;stroke-width:23.4"/>
<text x="280.17" y="8.40" font-size="9.4" class="tl">0</text>
<text x="285.4" y="5.2" font-size="6.2" class="tl">9</text>
<path d="M347,0L259,0L259,560C238,540 210,520 175,499C140,478 109,463 82,453L82,538C131,561 174,589 211,621C248,653 274,685 289,716L347,716Z" transform="translate(274.95,50.10) scale(0.00940,-0.00940)" style="fill:#111;stroke:#111;stroke-width:23.4"/>
<text x="280.17" y="50.10" font-size="9.4" class="tl">0</text>
<text x="285.4" y="46.9" font-size="6.2" class="tl">8</text>
<path d="M347,0L259,0L259,560C238,540 210,520 175,499C140,478 109,463 82,453L82,538C131,561 174,589 211,621C248,653 274,685 289,716L347,716Z" transform="translate(274.95,91.80) scale(0.00940,-0.00940)" style="fill:#111;stroke:#111;stroke-width:23.4"/>
<text x="280.17" y="91.80" font-size="9.4" class="tl">0</text>
<text x="285.4" y="88.6" font-size="6.2" class="tl">7</text>
<path d="M347,0L259,0L259,560C238,540 210,520 175,499C140,478 109,463 82,453L82,538C131,561 174,589 211,621C248,653 274,685 289,716L347,716Z" transform="translate(274.95,133.50) scale(0.00940,-0.00940)" style="fill:#111;stroke:#111;stroke-width:23.4"/>
<text x="280.17" y="133.50" font-size="9.4" class="tl">0</text>
<text x="285.4" y="130.3" font-size="6.2" class="tl">6</text>
<path d="M347,0L259,0L259,560C238,540 210,520 175,499C140,478 109,463 82,453L82,538C131,561 174,589 211,621C248,653 274,685 289,716L347,716Z" transform="translate(274.95,175.20) scale(0.00940,-0.00940)" style="fill:#111;stroke:#111;stroke-width:23.4"/>
<text x="280.17" y="175.20" font-size="9.4" class="tl">0</text>
<text x="285.4" y="172" font-size="6.2" class="tl">5</text>
<path d="M347,0L259,0L259,560C238,540 210,520 175,499C140,478 109,463 82,453L82,538C131,561 174,589 211,621C248,653 274,685 289,716L347,716Z" transform="translate(318.83,193.60) scale(0.00990,-0.00990)" style="fill:#111;stroke:#111;stroke-width:22.2"/>
<text x="324.33" y="193.60" font-size="9.9" class="tl">0</text>
<text x="359.62" y="193.60" font-size="9.9" class="tl">20</text>
<text x="400.41" y="193.60" font-size="9.9" class="tl">30</text>
<text x="441.20" y="193.60" font-size="9.9" class="tl">40</text>
<text x="482.00" y="193.60" font-size="9.9" class="tl">50</text>
<text x="389.8" y="202.3" font-size="8.3" font-weight="bold" text-anchor="middle" class="bl">R [km]</text>
<text transform="translate(274.2,95.1) rotate(-90)" font-size="8.3" font-weight="bold" text-anchor="middle" class="bl">Dust number density [m<tspan font-size="5.15" dy="-3.98">-3</tspan><tspan dy="3.98">]</tspan></text>
<path d="M419.5,41.6H450.9" stroke="#d42a2a" stroke-width="1.35"/>
<text x="456.40" y="44.20" font-size="7.4" class="lg" font-weight="bold">5°</text>
<path d="M419.5,50H450.9" stroke="#ff901e" stroke-width="1.35"/>
<text x="456.40" y="52.60" font-size="7.4" class="lg" font-weight="bold">45°</text>
<path d="M419.5,58.4H450.9" stroke="#5c5cff" stroke-width="1.35"/>
<text x="456.40" y="61.00" font-size="7.4" class="lg" font-weight="bold">90°</text>
<path d="M419.5,66.8H450.9" stroke="#2a2a2a" stroke-width="1.35"/>
<path d="M387,0L250,0L250,516C200,469 141,434 73,411L73,535C109,547 148,569 190,601C232,634 261,672 276,716L387,716Z" transform="translate(456.40,69.40) scale(0.00740,-0.00740)" style="fill:#111;stroke:#111;stroke-width:54.1"/>
<text x="460.51" y="69.40" font-size="7.4" class="lg" font-weight="bold">35°</text>
<path d="M419.5,75.2H450.9" stroke="#26cc26" stroke-width="1.35"/>
<path d="M387,0L250,0L250,516C200,469 141,434 73,411L73,535C109,547 148,569 190,601C232,634 261,672 276,716L387,716Z" transform="translate(456.40,77.80) scale(0.00740,-0.00740)" style="fill:#111;stroke:#111;stroke-width:54.1"/>
<text x="460.51" y="77.80" font-size="7.4" class="lg" font-weight="bold">75°</text>
<text x="388.6" y="227.6" font-size="13.0" font-family="Liberation Serif, serif" text-anchor="middle" class="cp">(b)</text>
<clipPath id="cpc"><rect x="30.4" y="250.5" width="196.5" height="179.5"/></clipPath>
<g clip-path="url(#cpc)" fill="none" stroke-width="1.35" stroke-linejoin="round">
<path d="M31.4,258.8 L31.5,259.2 L31.5,259.5 L31.6,259.9 L31.7,260.3 L31.8,260.7 L31.9,261.1 L32,261.5 L32.1,261.9 L32.1,262.4 L32.2,262.8 L32.3,263.3 L32.4,263.7 L32.6,264.2 L32.7,264.6 L32.8,265.1 L32.9,265.6 L33,266.1 L33.1,266.6 L33.3,267.1 L33.4,267.6 L33.5,268.1 L33.7,268.6 L33.8,269.1 L34,269.7 L34.1,270.2 L34.3,270.8 L34.5,271.3 L34.6,271.9 L34.8,272.5 L35,273.1 L35.2,273.6 L35.4,274.2 L35.6,274.8 L35.8,275.4 L36,276 L36.3,276.7 L36.5,277.3 L36.7,277.9 L37,278.5 L37.2,279.2 L37.5,279.8 L37.8,280.5 L38,281.1 L38.3,281.8 L38.6,282.5 L38.9,283.1 L39.3,283.8 L39.6,284.5 L39.9,285.2 L40.3,285.9 L40.7,286.6 L41,287.3 L41.4,288 L41.8,288.7 L42.2,289.5 L42.7,290.2 L43.1,290.9 L43.6,291.7 L44,292.4 L44.5,293.2 L45,293.9 L45.5,294.7 L46.1,295.4 L46.6,296.2 L47.2,297 L47.8,297.8 L48.4,298.5 L49,299.3 L49.7,300.1 L50.4,300.9 L51,301.7 L51.8,302.5 L52.5,303.3 L53.3,304.1 L54.1,304.9 L54.9,305.8 L55.7,306.6 L56.6,307.4 L57.5,308.3 L58.4,309.1 L59.4,309.9 L60.4,310.8 L61.4,311.6 L62.4,312.5 L63.5,313.3 L64.7,314.2 L65.8,315 L67,315.9 L68.3,316.8 L69.6,317.6 L70.9,318.5 L72.2,319.4 L73.7,320.3 L75.1,321.2 L76.6,322 L78.2,322.9 L79.8,323.8 L81.4,324.7 L83.2,325.6 L84.9,326.5 L86.8,327.4 L88.6,328.3 L90.6,329.2 L92.6,330.2 L94.7,331.1 L96.8,332 L99.1,332.9 L101.4,333.8 L103.7,334.7 L106.2,335.7 L108.7,336.6 L111.3,337.5 L114,338.5 L116.8,339.4 L119.7,340.3 L122.6,341.3 L125.7,342.2 L128.9,343.1 L132.1,344.1 L135.5,345 L139,346 L142.6,346.9 L146.3,347.9 L150.2,348.8 L154.1,349.8 L158.2,350.7 L162.5,351.7 L166.8,352.6 L171.3,353.6 L176,354.6 L180.8,355.5 L185.8,356.5 L190.9,357.4 L196.2,358.4 L201.7,359.4 L207.4,360.3 L213.2,361.3 L219.3,362.2 L225.5,363.2" stroke="#d42a2a"/>
<path d="M31.2,261.8 L31.3,262.1 L31.3,262.5 L31.4,262.8 L31.5,263.2 L31.6,263.6 L31.6,264 L31.7,264.4 L31.8,264.8 L31.9,265.2 L32,265.7 L32.1,266.1 L32.2,266.6 L32.3,267.1 L32.4,267.5 L32.5,268 L32.6,268.5 L32.7,269 L32.8,269.6 L32.9,270.1 L33.1,270.6 L33.2,271.2 L33.3,271.7 L33.5,272.3 L33.6,272.8 L33.8,273.4 L33.9,274 L34.1,274.6 L34.2,275.2 L34.4,275.8 L34.6,276.4 L34.8,277 L35,277.6 L35.2,278.3 L35.4,278.9 L35.6,279.5 L35.8,280.2 L36,280.8 L36.2,281.5 L36.5,282.2 L36.7,282.8 L37,283.5 L37.2,284.2 L37.5,284.8 L37.8,285.5 L38,286.2 L38.3,286.9 L38.6,287.6 L39,288.3 L39.3,289 L39.6,289.7 L40,290.4 L40.3,291.1 L40.7,291.8 L41.1,292.5 L41.5,293.2 L41.9,293.9 L42.3,294.6 L42.8,295.4 L43.2,296.1 L43.7,296.8 L44.2,297.6 L44.7,298.3 L45.2,299 L45.8,299.8 L46.3,300.5 L46.9,301.3 L47.5,302.1 L48.1,302.8 L48.7,303.6 L49.4,304.4 L50.1,305.2 L50.8,306 L51.5,306.8 L52.2,307.6 L53,308.4 L53.8,309.2 L54.6,310 L55.5,310.9 L56.4,311.7 L57.3,312.6 L58.2,313.4 L59.2,314.3 L60.2,315.2 L61.2,316 L62.3,316.9 L63.4,317.8 L64.5,318.7 L65.7,319.6 L67,320.5 L68.2,321.4 L69.5,322.3 L70.9,323.3 L72.3,324.2 L73.7,325.1 L75.2,326.1 L76.8,327 L78.4,328 L80,328.9 L81.7,329.9 L83.5,330.8 L85.3,331.8 L87.2,332.8 L89.1,333.7 L91.1,334.7 L93.2,335.7 L95.3,336.7 L97.6,337.7 L99.8,338.6 L102.2,339.6 L104.7,340.6 L107.2,341.6 L109.8,342.6 L112.5,343.6 L115.3,344.6 L118.2,345.5 L121.2,346.5 L124.2,347.5 L127.4,348.5 L130.7,349.5 L134.1,350.5 L137.6,351.5 L141.3,352.5 L145,353.4 L148.9,354.4 L152.9,355.4 L157.1,356.4 L161.4,357.4 L165.8,358.3 L170.4,359.3 L175.1,360.3 L180,361.2 L185,362.2 L190.3,363.1 L195.7,364.1 L201.2,365 L207,366 L213,366.9 L219.1,367.9 L225.5,368.8" stroke="#ff901e"/>
<path d="M31.4,285 L31.5,285.1 L31.5,285.2 L31.6,285.4 L31.7,285.5 L31.8,285.7 L31.9,286 L32,286.2 L32.1,286.5 L32.1,286.8 L32.2,287.1 L32.3,287.5 L32.4,287.8 L32.6,288.2 L32.7,288.6 L32.8,289 L32.9,289.5 L33,289.9 L33.1,290.4 L33.3,290.9 L33.4,291.4 L33.5,292 L33.7,292.5 L33.8,293.1 L34,293.7 L34.1,294.2 L34.3,294.8 L34.5,295.5 L34.6,296.1 L34.8,296.7 L35,297.4 L35.2,298 L35.4,298.7 L35.6,299.4 L35.8,300.1 L36,300.7 L36.3,301.4 L36.5,302.1 L36.7,302.9 L37,303.6 L37.2,304.3 L37.5,305 L37.8,305.7 L38,306.4 L38.3,307.2 L38.6,307.9 L38.9,308.6 L39.3,309.4 L39.6,310.1 L39.9,310.8 L40.3,311.6 L40.7,312.3 L41,313 L41.4,313.8 L41.8,314.5 L42.2,315.3 L42.7,316 L43.1,316.8 L43.6,317.5 L44,318.2 L44.5,319 L45,319.7 L45.5,320.5 L46.1,321.2 L46.6,322 L47.2,322.7 L47.8,323.5 L48.4,324.3 L49,325 L49.7,325.8 L50.4,326.6 L51,327.3 L51.8,328.1 L52.5,328.9 L53.3,329.7 L54.1,330.4 L54.9,331.2 L55.7,332 L56.6,332.8 L57.5,333.6 L58.4,334.4 L59.4,335.2 L60.4,336.1 L61.4,336.9 L62.4,337.7 L63.5,338.5 L64.7,339.4 L65.8,340.2 L67,341.1 L68.3,341.9 L69.6,342.8 L70.9,343.7 L72.2,344.6 L73.7,345.4 L75.1,346.3 L76.6,347.2 L78.2,348.1 L79.8,349 L81.4,349.9 L83.2,350.8 L84.9,351.7 L86.8,352.7 L88.6,353.6 L90.6,354.5 L92.6,355.4 L94.7,356.4 L96.8,357.3 L99.1,358.2 L101.4,359.2 L103.7,360.1 L106.2,361.1 L108.7,362 L111.3,363 L114,363.9 L116.8,364.9 L119.7,365.8 L122.6,366.8 L125.7,367.8 L128.9,368.7 L132.1,369.7 L135.5,370.7 L139,371.6 L142.6,372.6 L146.3,373.5 L150.2,374.5 L154.1,375.5 L158.2,376.4 L162.5,377.4 L166.8,378.4 L171.3,379.3 L176,380.3 L180.8,381.2 L185.8,382.2 L190.9,383.2 L196.2,384.1 L201.7,385.1 L207.4,386 L213.2,387 L219.3,387.9 L225.5,388.9" stroke="#5c5cff"/>
<path d="M31.4,284.9 L31.5,285.4 L31.5,285.9 L31.6,286.4 L31.7,286.8 L31.8,287.3 L31.9,287.8 L32,288.3 L32.1,288.8 L32.1,289.3 L32.2,289.9 L32.3,290.4 L32.4,290.9 L32.6,291.4 L32.7,292 L32.8,292.5 L32.9,293 L33,293.6 L33.1,294.2 L33.3,294.7 L33.4,295.3 L33.5,295.8 L33.7,296.4 L33.8,297 L34,297.6 L34.1,298.2 L34.3,298.8 L34.5,299.4 L34.6,300 L34.8,300.6 L35,301.2 L35.2,301.8 L35.4,302.4 L35.6,303 L35.8,303.7 L36,304.3 L36.3,304.9 L36.5,305.6 L36.7,306.2 L37,306.9 L37.2,307.5 L37.5,308.2 L37.8,308.9 L38,309.5 L38.3,310.2 L38.6,310.9 L38.9,311.6 L39.3,312.3 L39.6,313 L39.9,313.7 L40.3,314.4 L40.7,315.1 L41,315.8 L41.4,316.5 L41.8,317.2 L42.2,317.9 L42.7,318.6 L43.1,319.4 L43.6,320.1 L44,320.9 L44.5,321.6 L45,322.3 L45.5,323.1 L46.1,323.8 L46.6,324.6 L47.2,325.4 L47.8,326.1 L48.4,326.9 L49,327.7 L49.7,328.5 L50.4,329.3 L51,330 L51.8,330.8 L52.5,331.6 L53.3,332.4 L54.1,333.2 L54.9,334 L55.7,334.8 L56.6,335.7 L57.5,336.5 L58.4,337.3 L59.4,338.1 L60.4,339 L61.4,339.8 L62.4,340.6 L63.5,341.5 L64.7,342.3 L65.8,343.2 L67,344 L68.3,344.9 L69.6,345.7 L70.9,346.6 L72.2,347.5 L73.7,348.3 L75.1,349.2 L76.6,350.1 L78.2,351 L79.8,351.9 L81.4,352.7 L83.2,353.6 L84.9,354.5 L86.8,355.4 L88.6,356.3 L90.6,357.2 L92.6,358.2 L94.7,359.1 L96.8,360 L99.1,360.9 L101.4,361.8 L103.7,362.8 L106.2,363.7 L108.7,364.6 L111.3,365.6 L114,366.5 L116.8,367.4 L119.7,368.4 L122.6,369.3 L125.7,370.3 L128.9,371.2 L132.1,372.2 L135.5,373.2 L139,374.1 L142.6,375.1 L146.3,376.1 L150.2,377 L154.1,378 L158.2,379 L162.5,380 L166.8,381 L171.3,382 L176,383 L180.8,383.9 L185.8,384.9 L190.9,385.9 L196.2,387 L201.7,388 L207.4,389 L213.2,390 L219.3,391 L225.5,392" stroke="#26cc26"/>
</g>
<path d="M30.4,251.1 V430 H225.9" fill="none" stroke="#2a2a2a" stroke-width="1.35"/>
<path d="M30.4,276.1h2.6 M30.4,269.8h2.6 M30.4,265.3h2.6 M30.4,261.9h2.6 M30.4,259h2.6 M30.4,256.6h2.6 M30.4,254.6h2.6 M30.4,252.7h2.6 M30.4,311.9h2.6 M30.4,305.6h2.6 M30.4,301.1h2.6 M30.4,297.7h2.6 M30.4,294.8h2.6 M30.4,292.4h2.6 M30.4,290.4h2.6 M30.4,288.5h2.6 M30.4,347.7h2.6 M30.4,341.4h2.6 M30.4,336.9h2.6 M30.4,333.5h2.6 M30.4,330.6h2.6 M30.4,328.2h2.6 M30.4,326.2h2.6 M30.4,324.3h2.6 M30.4,383.5h2.6 M30.4,377.2h2.6 M30.4,372.7h2.6 M30.4,369.3h2.6 M30.4,366.4h2.6 M30.4,364h2.6 M30.4,362h2.6 M30.4,360.1h2.6 M30.4,419.3h2.6 M30.4,413h2.6 M30.4,408.5h2.6 M30.4,405.1h2.6 M30.4,402.2h2.6 M30.4,399.8h2.6 M30.4,397.8h2.6 M30.4,395.9h2.6 M37.8,430v-2.6 M46,430v-2.6 M54.1,430v-2.6 M70.5,430v-2.6 M78.7,430v-2.6 M86.9,430v-2.6 M95,430v-2.6 M111.4,430v-2.6 M119.6,430v-2.6 M127.8,430v-2.6 M135.9,430v-2.6 M152.3,430v-2.6 M160.5,430v-2.6 M168.6,430v-2.6 M176.8,430v-2.6 M193.2,430v-2.6 M201.4,430v-2.6 M209.5,430v-2.6 M217.7,430v-2.6" fill="none" stroke="#aaa" stroke-width="0.9"/>
<path d="M30.4,251.1h4.7 M30.4,286.9h4.7 M30.4,322.7h4.7 M30.4,358.5h4.7 M30.4,394.3h4.7 M30.4,430.1h4.7 M62.3,430v-4.6 M103.2,430v-4.6 M144.1,430v-4.6 M185,430v-4.6 M225.9,430v-4.6" fill="none" stroke="#444" stroke-width="1.3"/>
<path d="M347,0L259,0L259,560C238,540 210,520 175,499C140,478 109,463 82,453L82,538C131,561 174,589 211,621C248,653 274,685 289,716L347,716Z" transform="translate(13.95,253.80) scale(0.00940,-0.00940)" style="fill:#111;stroke:#111;stroke-width:23.4"/>
<text x="19.17" y="253.80" font-size="9.4" class="tl">0</text>
<text x="24.4" y="250.6" font-size="6.2" class="tl">9</text>
<path d="M347,0L259,0L259,560C238,540 210,520 175,499C140,478 109,463 82,453L82,538C131,561 174,589 211,621C248,653 274,685 289,716L347,716Z" transform="translate(13.95,289.60) scale(0.00940,-0.00940)" style="fill:#111;stroke:#111;stroke-width:23.4"/>
<text x="19.17" y="289.60" font-size="9.4" class="tl">0</text>
<text x="24.4" y="286.4" font-size="6.2" class="tl">8</text>
<path d="M347,0L259,0L259,560C238,540 210,520 175,499C140,478 109,463 82,453L82,538C131,561 174,589 211,621C248,653 274,685 289,716L347,716Z" transform="translate(13.95,325.40) scale(0.00940,-0.00940)" style="fill:#111;stroke:#111;stroke-width:23.4"/>
<text x="19.17" y="325.40" font-size="9.4" class="tl">0</text>
<text x="24.4" y="322.2" font-size="6.2" class="tl">7</text>
<path d="M347,0L259,0L259,560C238,540 210,520 175,499C140,478 109,463 82,453L82,538C131,561 174,589 211,621C248,653 274,685 289,716L347,716Z" transform="translate(13.95,361.20) scale(0.00940,-0.00940)" style="fill:#111;stroke:#111;stroke-width:23.4"/>
<text x="19.17" y="361.20" font-size="9.4" class="tl">0</text>
<text x="24.4" y="358" font-size="6.2" class="tl">6</text>
<path d="M347,0L259,0L259,560C238,540 210,520 175,499C140,478 109,463 82,453L82,538C131,561 174,589 211,621C248,653 274,685 289,716L347,716Z" transform="translate(13.95,397.00) scale(0.00940,-0.00940)" style="fill:#111;stroke:#111;stroke-width:23.4"/>
<text x="19.17" y="397.00" font-size="9.4" class="tl">0</text>
<text x="24.4" y="393.8" font-size="6.2" class="tl">5</text>
<path d="M347,0L259,0L259,560C238,540 210,520 175,499C140,478 109,463 82,453L82,538C131,561 174,589 211,621C248,653 274,685 289,716L347,716Z" transform="translate(13.95,432.80) scale(0.00940,-0.00940)" style="fill:#111;stroke:#111;stroke-width:23.4"/>
<text x="19.17" y="432.80" font-size="9.4" class="tl">0</text>
<text x="24.4" y="429.6" font-size="6.2" class="tl">4</text>
<path d="M347,0L259,0L259,560C238,540 210,520 175,499C140,478 109,463 82,453L82,538C131,561 174,589 211,621C248,653 274,685 289,716L347,716Z" transform="translate(56.81,439.10) scale(0.00990,-0.00990)" style="fill:#111;stroke:#111;stroke-width:22.2"/>
<text x="62.32" y="439.10" font-size="9.9" class="tl">0</text>
<text x="97.71" y="439.10" font-size="9.9" class="tl">20</text>
<text x="138.60" y="439.10" font-size="9.9" class="tl">30</text>
<text x="179.50" y="439.10" font-size="9.9" class="tl">40</text>
<text x="220.40" y="439.10" font-size="9.9" class="tl">50</text>
<text x="128.2" y="448.5" font-size="9.2" font-weight="bold" text-anchor="middle" class="bl">R [km]</text>
<text transform="translate(9.7,341.2) rotate(-90)" font-size="9.3" font-weight="bold" text-anchor="middle" class="bl">Dust number density [m<tspan font-size="5.77" dy="-4.46">-3</tspan><tspan dy="4.46">]</tspan></text>
<path d="M155.2,298.6H187" stroke="#d42a2a" stroke-width="1.35"/>
<text x="192.20" y="301.20" font-size="7.4" class="lg" font-weight="bold">5°</text>
<path d="M155.2,306.9H187" stroke="#ff901e" stroke-width="1.35"/>
<text x="192.20" y="309.53" font-size="7.4" class="lg" font-weight="bold">45°</text>
<path d="M155.2,315.3H187" stroke="#5c5cff" stroke-width="1.35"/>
<text x="192.20" y="317.86" font-size="7.4" class="lg" font-weight="bold">90°</text>
<path d="M155.2,323.6H187" stroke="#2a2a2a" stroke-width="1.35"/>
<path d="M387,0L250,0L250,516C200,469 141,434 73,411L73,535C109,547 148,569 190,601C232,634 261,672 276,716L387,716Z" transform="translate(192.20,326.19) scale(0.00740,-0.00740)" style="fill:#111;stroke:#111;stroke-width:54.1"/>
<text x="196.31" y="326.19" font-size="7.4" class="lg" font-weight="bold">35°</text>
<path d="M155.2,331.9H187" stroke="#26cc26" stroke-width="1.35"/>
<path d="M387,0L250,0L250,516C200,469 141,434 73,411L73,535C109,547 148,569 190,601C232,634 261,672 276,716L387,716Z" transform="translate(192.20,334.52) scale(0.00740,-0.00740)" style="fill:#111;stroke:#111;stroke-width:54.1"/>
<text x="196.31" y="334.52" font-size="7.4" class="lg" font-weight="bold">75°</text>
<text x="127" y="473.1" font-size="13.0" font-family="Liberation Serif, serif" text-anchor="middle" class="cp">(c)</text>
<clipPath id="cpd"><rect x="292" y="250.5" width="196.5" height="179.5"/></clipPath>
<g clip-path="url(#cpd)" fill="none" stroke-width="1.35" stroke-linejoin="round">
<path d="M292.5,261.4 L292.4,262.2 L292.4,263 L292.3,263.8 L292.3,264.6 L292.2,265.4 L292.2,266.2 L292.1,266.9 L292.1,267.7 L292.1,268.5 L292.1,269.3 L292.1,270.1 L292.1,270.8 L292.1,271.6 L292.1,272.4 L292.1,273.1 L292.2,273.9 L292.2,274.6 L292.2,275.4 L292.3,276.1 L292.3,276.9 L292.4,277.6 L292.5,278.4 L292.6,279.1 L292.6,279.8 L292.7,280.5 L292.8,281.3 L292.9,282 L293,282.7 L293.1,283.4 L293.3,284.1 L293.4,284.8 L293.5,285.6 L293.7,286.3 L293.8,287 L294,287.7 L294.1,288.3 L294.3,289 L294.5,289.7 L294.6,290.4 L294.8,291.1 L295,291.8 L295.2,292.4 L295.4,293.1 L295.6,293.8 L295.8,294.4 L296,295.1 L296.3,295.8 L296.5,296.4 L296.7,297.1 L297,297.7 L297.2,298.4 L297.5,299 L297.7,299.6 L298,300.3 L298.3,300.9 L298.5,301.5 L298.8,302.2 L299.1,302.8 L299.4,303.4 L299.7,304 L300,304.6 L300.3,305.2 L300.6,305.9 L300.9,306.5 L301.2,307.1 L301.6,307.7 L301.9,308.3 L302.2,308.8 L302.6,309.4 L302.9,310 L303.3,310.6 L303.6,311.2 L304,311.8 L304.4,312.3 L304.7,312.9 L305.1,313.5 L305.5,314 L305.9,314.6 L306.3,315.2 L306.7,315.7 L307.1,316.3 L307.5,316.8 L307.9,317.4 L308.3,317.9 L308.7,318.4 L309.1,319 L309.5,319.5 L310,320 L310.4,320.6 L310.8,321.1 L311.3,321.6 L311.7,322.1 L312.2,322.7 L312.6,323.2 L313.1,323.7 L313.5,324.2 L314,324.7 L314.5,325.2 L314.9,325.7 L315.4,326.2 L315.9,326.7 L316.4,327.2 L316.9,327.6 L317.3,328.1 L317.8,328.6 L318.3,329.1 L318.8,329.6 L319.3,330 L319.8,330.5 L320.3,331.1 L320.8,331.6 L321.4,332 L321.9,332.3 L322.4,332.7 L322.9,333.2 L323.4,333.7 L324,334.3 L324.5,334.8 L325,335.3 L325.6,335.7 L326.1,336 L326.6,336.3 L327.2,336.5 L327.7,336.8 L328.3,337.3 L328.8,337.8 L329.4,338.3 L329.9,338.8 L330.5,339.3 L331.1,339.6 L331.6,340 L332.2,340.3 L332.8,340.7 L333.3,341.2 L333.9,341.8 L334.5,342.4 L335.1,342.8 L335.6,343.2 L336.2,343.4 L336.8,343.6 L337.4,343.7 L338,344 L338.6,344.4 L339.2,344.9 L339.7,345.4 L340.3,345.8 L340.9,346.2 L341.5,346.5 L342.1,346.7 L342.8,347 L343.4,347.4 L344,347.8 L344.6,348.4 L345.2,348.9 L345.8,349.3 L346.4,349.6 L347,349.9 L347.7,350 L348.3,350.2 L348.9,350.4 L349.5,350.7 L350.2,351 L350.8,351.4 L351.4,351.8 L352,352.1 L352.7,352.5 L353.3,352.9 L353.9,353.2 L354.6,353.5 L355.2,353.8 L355.9,354.1 L356.5,354.4 L357.1,354.8 L357.8,355.2 L358.4,355.6 L359.1,355.8 L359.7,355.9 L360.4,356 L361,356.1 L361.7,356.3 L362.3,356.6 L363,357 L363.6,357.5 L364.3,357.9 L364.9,358.3 L365.6,358.5 L366.3,358.7 L366.9,359 L367.6,359.2 L368.3,359.5 L368.9,359.8 L369.6,360.1 L370.2,360.4 L370.9,360.6 L371.6,360.7 L372.2,360.9 L372.9,361 L373.6,361.2 L374.3,361.4 L374.9,361.7 L375.6,362.1 L376.3,362.5 L376.9,362.9 L377.6,363.3 L378.3,363.4 L379,363.5 L379.6,363.6 L380.3,363.8 L381,364 L381.7,364.3 L382.3,364.7 L383,364.9 L383.7,365 L384.4,365 L385.1,365 L385.7,365.2 L386.4,365.6 L387.1,366.1 L387.8,366.5 L388.5,366.8 L389.1,367 L389.8,367 L390.5,367.1 L391.2,367.3 L391.9,367.5 L392.5,367.8 L393.2,368 L393.9,368.1 L394.6,368.1 L395.3,368.1 L395.9,368.3 L396.6,368.7 L397.3,369.1 L398,369.4 L398.7,369.7 L399.3,369.8 L400,369.8 L400.7,370 L401.4,370.2 L402.1,370.6 L402.7,370.8 L403.4,371 L404.1,371 L404.8,370.9 L405.5,370.9 L406.1,371 L406.8,371.3 L407.5,371.7 L408.2,372 L408.9,372.2 L409.5,372.4 L410.2,372.5 L410.9,372.6 L411.6,372.8 L412.2,373.1 L412.9,373.3 L413.6,373.5 L414.3,373.5 L414.9,373.5 L415.6,373.6 L416.3,373.7 L417,373.9 L417.6,374.1 L418.3,374.2 L419,374.3 L419.7,374.4 L420.4,374.7 L421,375 L421.7,375.4 L422.4,375.6 L423.1,375.8 L423.7,375.7 L424.4,375.7 L425.1,375.6 L425.8,375.7 L426.4,376 L427.1,376.3 L427.8,376.5 L428.5,376.6 L429.1,376.5 L429.8,376.5 L430.5,376.5 L431.2,376.8 L431.8,377.2 L432.5,377.6 L433.2,377.9 L433.9,378.1 L434.6,378.1 L435.2,378 L435.9,377.9 L436.6,377.9 L437.3,378.1 L437.9,378.3 L438.6,378.5 L439.3,378.7 L440,378.8 L440.7,378.8 L441.3,378.9 L442,379 L442.7,379.2 L443.4,379.4 L444,379.7 L444.7,379.9 L445.4,380.1 L446.1,380.2 L446.8,380.2 L447.5,380.2 L448.1,380.1 L448.8,380.1 L449.5,380.3 L450.2,380.5 L450.9,380.7 L451.5,380.9 L452.2,381 L452.9,381.1 L453.6,381.2 L454.3,381.3 L455,381.5 L455.6,381.8 L456.3,382 L457,382.1 L457.7,382.1 L458.4,382.1 L459.1,382.1 L459.8,382.2 L460.5,382.3 L461.1,382.4 L461.8,382.5 L462.5,382.6 L463.2,382.7 L463.9,382.9 L464.6,383.1 L465.3,383.4 L466,383.6 L466.7,383.7 L467.4,383.7 L468,383.7 L468.7,383.8 L469.4,383.9 L470.1,384.1 L470.8,384.2 L471.5,384.3 L472.2,384.2 L472.9,384.2 L473.6,384.3 L474.3,384.5 L475,384.8 L475.7,385.1 L476.4,385.3 L477.1,385.4 L477.8,385.4 L478.5,385.5 L479.2,385.7 L479.9,385.8 L480.6,385.9 L481.3,385.9 L482,385.9 L482.7,385.8 L483.4,385.9 L484.1,386.2 L484.8,386.5 L485.6,386.8 L486.3,386.9 L487,386.8 L487.2,386.8" stroke="#d42a2a"/>
<path d="M293,280.2 L293,281 L293.1,281.8 L293.2,282.6 L293.2,283.4 L293.3,284.2 L293.4,285 L293.5,285.8 L293.6,286.5 L293.7,287.3 L293.8,288.1 L293.9,288.8 L294,289.6 L294.1,290.3 L294.2,291.1 L294.4,291.8 L294.5,292.6 L294.6,293.3 L294.8,294 L294.9,294.8 L295.1,295.5 L295.3,296.2 L295.4,296.9 L295.6,297.6 L295.8,298.3 L296,299 L296.2,299.7 L296.3,300.4 L296.5,301.1 L296.8,301.8 L297,302.5 L297.2,303.1 L297.4,303.8 L297.6,304.5 L297.9,305.1 L298.1,305.8 L298.3,306.5 L298.6,307.1 L298.9,307.8 L299.1,308.4 L299.4,309 L299.6,309.7 L299.9,310.3 L300.2,310.9 L300.5,311.6 L300.8,312.2 L301.1,312.8 L301.4,313.4 L301.7,314 L302,314.6 L302.3,315.2 L302.7,315.8 L303,316.4 L303.3,317 L303.7,317.6 L304,318.2 L304.4,318.8 L304.7,319.3 L305.1,319.9 L305.5,320.5 L305.8,321 L306.2,321.6 L306.6,322.2 L307,322.7 L307.4,323.3 L307.8,323.8 L308.2,324.4 L308.6,324.9 L309,325.4 L309.4,326 L309.9,326.5 L310.3,327 L310.7,327.6 L311.2,328.1 L311.6,328.6 L312.1,329.1 L312.5,329.6 L313,330.1 L313.4,330.6 L313.9,331.1 L314.4,331.6 L314.9,332.1 L315.3,332.6 L315.8,333.1 L316.3,333.6 L316.8,334.1 L317.3,334.5 L317.8,335 L318.3,335.5 L318.8,336 L319.3,336.4 L319.8,336.9 L320.3,337.3 L320.9,337.8 L321.4,338.3 L321.9,338.7 L322.5,339.2 L323,339.6 L323.5,340.1 L324.1,340.5 L324.6,340.9 L325.2,341.3 L325.7,341.7 L326.3,342.1 L326.8,342.6 L327.4,343 L327.9,343.4 L328.5,343.8 L329.1,344.2 L329.6,344.6 L330.2,345.1 L330.8,345.5 L331.4,345.9 L331.9,346.4 L332.5,346.8 L333.1,347.2 L333.7,347.6 L334.3,347.9 L334.9,348.2 L335.5,348.5 L336,348.8 L336.6,349.1 L337.2,349.5 L337.8,349.9 L338.4,350.4 L339,350.8 L339.6,351.2 L340.3,351.6 L340.9,352 L341.5,352.3 L342.1,352.7 L342.7,353 L343.3,353.3 L343.9,353.7 L344.5,354 L345.1,354.3 L345.8,354.6 L346.4,354.9 L347,355.3 L347.6,355.6 L348.2,355.9 L348.9,356.3 L349.5,356.6 L350.1,357 L350.7,357.3 L351.4,357.6 L352,357.9 L352.6,358.2 L353.2,358.4 L353.9,358.7 L354.5,359 L355.1,359.3 L355.8,359.7 L356.4,360.1 L357,360.4 L357.7,360.8 L358.3,361.1 L358.9,361.3 L359.6,361.5 L360.2,361.7 L360.9,361.9 L361.5,362.1 L362.1,362.3 L362.8,362.6 L363.4,362.9 L364.1,363.3 L364.7,363.7 L365.4,364 L366,364.4 L366.7,364.7 L367.3,364.9 L368,365.1 L368.6,365.2 L369.3,365.4 L369.9,365.6 L370.6,365.8 L371.2,366.1 L371.9,366.5 L372.5,366.8 L373.2,367.1 L373.8,367.3 L374.5,367.5 L375.2,367.6 L375.8,367.8 L376.5,368 L377.1,368.2 L377.8,368.5 L378.5,368.9 L379.1,369.2 L379.8,369.5 L380.4,369.7 L381.1,369.8 L381.8,370 L382.4,370.2 L383.1,370.4 L383.8,370.6 L384.4,370.9 L385.1,371.1 L385.8,371.3 L386.4,371.5 L387.1,371.6 L387.8,371.8 L388.5,371.9 L389.1,372.2 L389.8,372.4 L390.5,372.7 L391.1,373 L391.8,373.2 L392.5,373.4 L393.2,373.5 L393.8,373.7 L394.5,373.9 L395.2,374.1 L395.9,374.3 L396.5,374.5 L397.2,374.7 L397.9,374.8 L398.6,374.9 L399.3,375 L399.9,375.2 L400.6,375.4 L401.3,375.7 L402,376 L402.7,376.2 L403.3,376.4 L404,376.6 L404.7,376.6 L405.4,376.7 L406.1,376.8 L406.7,377 L407.4,377.3 L408.1,377.6 L408.8,377.8 L409.5,378 L410.2,378.1 L410.8,378.1 L411.5,378.2 L412.2,378.3 L412.9,378.4 L413.6,378.6 L414.3,378.9 L415,379.1 L415.6,379.3 L416.3,379.5 L417,379.5 L417.7,379.7 L418.4,379.8 L419.1,380 L419.8,380.3 L420.5,380.5 L421.1,380.7 L421.8,380.8 L422.5,380.8 L423.2,380.8 L423.9,380.8 L424.6,380.9 L425.3,381.1 L426,381.4 L426.7,381.7 L427.3,382 L428,382.2 L428.7,382.3 L429.4,382.3 L430.1,382.3 L430.8,382.4 L431.5,382.5 L432.2,382.7 L432.9,382.9 L433.6,383.1 L434.2,383.3 L434.9,383.5 L435.6,383.6 L436.3,383.7 L437,383.8 L437.7,383.9 L438.4,383.9 L439.1,384 L439.8,384.1 L440.5,384.3 L441.1,384.4 L441.8,384.7 L442.5,384.9 L443.2,385.1 L443.9,385.3 L444.6,385.5 L445.3,385.5 L446,385.5 L446.7,385.5 L447.3,385.6 L448,385.7 L448.7,385.8 L449.4,386 L450.1,386.3 L450.8,386.5 L451.5,386.6 L452.2,386.8 L452.8,386.8 L453.5,386.9 L454.2,387 L454.9,387.1 L455.6,387.3 L456.3,387.5 L457,387.6 L457.7,387.8 L458.3,387.9 L459,388 L459.7,388.1 L460.4,388.2 L461.1,388.3 L461.8,388.4 L462.5,388.5 L463.1,388.7 L463.8,388.8 L464.5,389 L465.2,389.1 L465.9,389.3 L466.5,389.4 L467.2,389.6 L467.9,389.7 L468.6,389.8 L469.3,389.9 L470,390.1 L470.6,390.3 L471.3,390.4 L472,390.6 L472.7,390.7 L473.4,390.7 L474,390.8 L474.7,390.8 L475.4,390.9 L476.1,391.1 L476.7,391.3 L477.4,391.5 L478.1,391.8 L478.8,392 L479.4,392.1 L480.1,392.2 L480.8,392.2 L481.5,392.3 L482.1,392.4 L482.8,392.6 L483.5,392.8 L484.1,393 L484.8,393.2 L485.5,393.3 L486.1,393.3 L486.8,393.4 L487,393.4" stroke="#ff901e"/>
<path d="M292.4,296.6 L292.4,297.2 L292.5,297.9 L292.5,298.6 L292.5,299.3 L292.5,299.9 L292.5,300.6 L292.6,301.3 L292.6,302 L292.7,302.6 L292.8,303.3 L293,304 L293.2,304.7 L293.4,305.4 L293.7,306 L294,306.7 L294.3,307.4 L294.7,308.1 L295,308.8 L295.3,309.4 L295.7,310.1 L296,310.8 L296.3,311.5 L296.6,312.1 L296.8,312.8 L297,313.5 L297.2,314.2 L297.4,314.8 L297.5,315.5 L297.6,316.2 L297.7,316.9 L297.8,317.5 L297.8,318.2 L297.8,318.9 L297.8,319.5 L297.8,320.2 L297.8,320.9 L297.8,321.5 L297.8,322.2 L297.8,322.9 L297.8,323.5 L297.8,324.2 L297.8,324.8 L297.8,325.5 L297.9,326.2 L297.9,326.8 L298,327.5 L298.1,328.1 L298.2,328.8 L298.4,329.4 L298.6,330 L298.8,330.7 L299,331.3 L299.3,332 L299.6,332.6 L299.9,333.2 L300.3,333.9 L300.6,334.5 L301,335.1 L301.3,335.7 L301.6,336.4 L301.9,337 L302.2,337.6 L302.6,338.2 L302.9,338.8 L303.3,339.4 L303.7,340 L304.1,340.6 L304.5,341.2 L305,341.8 L305.4,342.4 L305.9,343 L306.4,343.6 L306.9,344.2 L307.3,344.8 L307.8,345.4 L308.3,345.9 L308.8,346.5 L309.2,347.1 L309.6,347.6 L309.9,348.2 L310.2,349.1 L310.4,349.6 L310.7,350 L310.9,350.5 L311.1,350.9 L311.4,351.4 L311.6,351.9 L311.9,352.3 L312.2,352.8 L312.5,353.3 L312.9,353.8 L313.3,354.4 L313.7,355 L314.2,355.6 L314.7,356.3 L315.2,357 L315.6,357.6 L316.2,358.1 L316.7,358.6 L317.2,358.9 L317.7,359.3 L318.2,359.6 L318.7,360 L319.3,360.4 L319.8,360.9 L320.3,361.4 L320.8,361.9 L321.4,362.5 L321.9,363 L322.4,363.6 L323,364.1 L323.5,364.5 L324.1,364.9 L324.6,365.4 L325.2,365.8 L325.7,366.2 L326.3,366.6 L326.8,367 L327.4,367.4 L328,367.8 L328.5,368.1 L329.1,368.5 L329.6,368.9 L330.2,369.2 L330.8,369.7 L331.4,370.2 L331.9,370.7 L332.5,371.3 L333.1,371.8 L333.7,372.3 L334.3,372.6 L334.8,372.9 L335.4,373.1 L336,373.2 L336.6,373.4 L337.2,373.6 L337.8,374 L338.4,374.5 L339,375.1 L339.6,375.7 L340.2,376.3 L340.8,376.8 L341.4,377.1 L342,377.3 L342.6,377.4 L343.2,377.5 L343.8,377.7 L344.5,377.9 L345.1,378.3 L345.7,378.8 L346.3,379.3 L346.9,379.8 L347.5,380.3 L348.2,380.6 L348.8,380.8 L349.4,380.9 L350,381.1 L350.7,381.3 L351.3,381.6 L351.9,382 L352.6,382.5 L353.2,383 L353.8,383.3 L354.5,383.6 L355.1,383.8 L355.8,383.8 L356.4,383.9 L357,384.1 L357.7,384.4 L358.3,384.8 L359,385.3 L359.6,385.8 L360.3,386.3 L360.9,386.6 L361.6,386.8 L362.2,386.9 L362.9,386.9 L363.5,386.9 L364.2,387 L364.8,387.2 L365.5,387.5 L366.1,388 L366.8,388.5 L367.5,388.9 L368.1,389.3 L368.8,389.5 L369.4,389.7 L370.1,389.8 L370.8,389.9 L371.4,390 L372.1,390.1 L372.8,390.3 L373.4,390.5 L374.1,390.7 L374.7,391 L375.4,391.4 L376.1,391.7 L376.8,392.1 L377.4,392.4 L378.1,392.7 L378.8,392.8 L379.4,392.9 L380.1,392.9 L380.8,392.8 L381.4,392.9 L382.1,393 L382.8,393.3 L383.5,393.8 L384.1,394.3 L384.8,394.7 L385.5,395.1 L386.2,395.2 L386.8,395.2 L387.5,395.1 L388.2,394.9 L388.9,394.9 L389.5,395.1 L390.2,395.4 L390.9,395.9 L391.6,396.4 L392.3,396.8 L392.9,397 L393.6,397.1 L394.3,397 L395,396.9 L395.6,396.8 L396.3,396.9 L397,397.1 L397.7,397.5 L398.4,398 L399,398.4 L399.7,398.7 L400.4,398.9 L401.1,398.7 L401.8,398.5 L402.4,398.3 L403.1,398.3 L403.8,398.6 L404.5,399 L405.2,399.5 L405.9,400 L406.5,400.3 L407.2,400.3 L407.9,400.3 L408.6,400.1 L409.3,400 L410,400.1 L410.6,400.2 L411.3,400.5 L412,400.8 L412.7,401 L413.4,401.2 L414.1,401.4 L414.7,401.5 L415.4,401.7 L416.1,402 L416.8,402.1 L417.5,402.2 L418.2,402.2 L418.9,402 L419.5,401.9 L420.2,401.9 L420.9,402 L421.6,402.4 L422.3,403 L423,403.5 L423.7,403.9 L424.3,404.1 L425,403.9 L425.7,403.5 L426.4,403.1 L427.1,402.9 L427.8,403.1 L428.5,403.4 L429.2,404 L429.8,404.6 L430.5,405 L431.2,405.1 L431.9,405.1 L432.6,404.9 L433.3,404.6 L434,404.6 L434.7,404.7 L435.4,404.9 L436,405.3 L436.7,405.5 L437.4,405.7 L438.1,405.8 L438.8,405.8 L439.5,405.9 L440.2,406.1 L440.9,406.2 L441.6,406.4 L442.3,406.5 L442.9,406.5 L443.6,406.6 L444.3,406.6 L445,406.6 L445.7,406.8 L446.4,407.1 L447.1,407.3 L447.8,407.5 L448.5,407.5 L449.2,407.5 L449.8,407.6 L450.5,407.6 L451.2,407.7 L451.9,408 L452.6,408.3 L453.3,408.5 L454,408.7 L454.7,408.6 L455.4,408.4 L456.1,408.3 L456.8,408.3 L457.4,408.5 L458.1,409 L458.8,409.4 L459.5,409.7 L460.2,410 L460.9,409.8 L461.6,409.7 L462.3,409.5 L463,409.3 L463.7,409.5 L464.4,409.8 L465,410.1 L465.7,410.5 L466.4,410.7 L467.1,410.7 L467.8,410.7 L468.5,410.7 L469.2,410.7 L469.9,411 L470.6,411.2 L471.3,411.3 L472,411.5 L472.6,411.4 L473.3,411.3 L474,411.3 L474.7,411.3 L475.4,411.7 L476.1,412.1 L476.8,412.5 L477.5,412.7 L478.2,412.8 L478.9,412.4 L479.6,412.2 L480.2,412.1 L480.9,412 L481.6,412.5 L482.3,413 L483,413.5 L483.7,413.8 L484.4,413.8 L485.1,413.5 L485.8,413.1 L486.5,412.9 L487.1,412.9 L487.1,412.9" stroke="#5c5cff"/>
<path d="M292.5,305.6 L292.6,306.4 L292.7,307.2 L292.8,307.9 L292.9,308.7 L293,309.4 L293.1,310.1 L293.3,310.9 L293.4,311.6 L293.6,312.3 L293.7,313 L293.9,313.8 L294,314.5 L294.2,315.2 L294.4,315.9 L294.6,316.6 L294.8,317.3 L295,318 L295.2,318.7 L295.4,319.4 L295.6,320.1 L295.8,320.8 L296,321.4 L296.3,322.1 L296.5,322.8 L296.7,323.5 L297,324.1 L297.2,324.8 L297.5,325.5 L297.8,326.1 L298,326.8 L298.3,327.4 L298.6,328.1 L298.9,328.7 L299.2,329.3 L299.4,330 L299.8,330.6 L300.1,331.2 L300.4,331.9 L300.7,332.5 L301,333.1 L301.3,333.7 L301.7,334.3 L302,334.9 L302.3,335.5 L302.7,336.1 L303,336.7 L303.4,337.3 L303.8,337.9 L304.1,338.5 L304.5,339.1 L304.9,339.7 L305.2,340.2 L305.6,340.8 L306,341.4 L306.4,342 L306.8,342.5 L307.2,343.1 L307.6,343.6 L308,344.2 L308.4,344.7 L308.8,345.3 L309.3,345.8 L309.7,346.4 L310.1,347.2 L310.6,347.6 L311,348.1 L311.4,348.5 L311.9,348.9 L312.3,349.3 L312.8,349.8 L313.2,350.3 L313.7,350.8 L314.2,351.3 L314.6,351.9 L315.1,352.6 L315.6,353.2 L316.1,353.8 L316.6,354.4 L317,354.9 L317.5,355.4 L318,355.8 L318.5,356.2 L319,356.6 L319.5,357 L320,357.4 L320.5,357.9 L321,358.3 L321.6,358.8 L322.1,359.3 L322.6,359.7 L323.1,360.2 L323.6,360.6 L324.2,361 L324.7,361.4 L325.2,361.8 L325.8,362.3 L326.3,362.8 L326.9,363.3 L327.4,363.9 L328,364.4 L328.5,365 L329.1,365.4 L329.6,365.8 L330.2,366.2 L330.7,366.4 L331.3,366.6 L331.9,366.8 L332.4,367.1 L333,367.4 L333.6,367.8 L334.2,368.3 L334.7,368.8 L335.3,369.4 L335.9,370 L336.5,370.5 L337,370.9 L337.6,371.3 L338.2,371.6 L338.8,371.9 L339.4,372.1 L340,372.4 L340.6,372.7 L341.2,373.1 L341.8,373.5 L342.4,373.9 L343,374.2 L343.6,374.5 L344.2,374.8 L344.8,375 L345.4,375.3 L346,375.6 L346.6,376 L347.2,376.5 L347.8,377 L348.4,377.6 L349.1,378.1 L349.7,378.5 L350.3,378.8 L350.9,378.9 L351.5,378.9 L352.2,379 L352.8,379 L353.4,379.1 L354,379.4 L354.6,379.8 L355.3,380.4 L355.9,380.9 L356.5,381.5 L357.2,381.9 L357.8,382.2 L358.4,382.4 L359.1,382.6 L359.7,382.7 L360.3,382.9 L361,383.1 L361.6,383.4 L362.2,383.8 L362.9,384.1 L363.5,384.4 L364.2,384.6 L364.8,384.8 L365.5,384.9 L366.1,385 L366.7,385.1 L367.4,385.4 L368,385.9 L368.7,386.4 L369.3,386.9 L370,387.4 L370.6,387.7 L371.3,387.9 L372,387.9 L372.6,387.8 L373.3,387.8 L373.9,387.8 L374.6,387.9 L375.2,388.2 L375.9,388.6 L376.6,389.1 L377.2,389.6 L377.9,390 L378.5,390.2 L379.2,390.3 L379.9,390.4 L380.5,390.4 L381.2,390.5 L381.9,390.8 L382.5,391.1 L383.2,391.4 L383.9,391.8 L384.5,392 L385.2,392.2 L385.9,392.2 L386.6,392.2 L387.2,392.2 L387.9,392.3 L388.6,392.5 L389.3,392.9 L389.9,393.3 L390.6,393.8 L391.3,394.2 L392,394.4 L392.6,394.5 L393.3,394.5 L394,394.5 L394.7,394.5 L395.3,394.5 L396,394.7 L396.7,395 L397.4,395.3 L398.1,395.6 L398.8,395.9 L399.4,396.1 L400.1,396.2 L400.8,396.2 L401.5,396.3 L402.2,396.4 L402.9,396.7 L403.5,397 L404.2,397.3 L404.9,397.6 L405.6,397.8 L406.3,397.9 L407,397.9 L407.7,397.9 L408.3,397.8 L409,397.8 L409.7,398 L410.4,398.2 L411.1,398.5 L411.8,398.9 L412.5,399.2 L413.2,399.5 L413.9,399.7 L414.6,399.8 L415.2,399.9 L415.9,399.9 L416.6,399.9 L417.3,400 L418,400.1 L418.7,400.2 L419.4,400.4 L420.1,400.6 L420.8,400.7 L421.5,400.9 L422.2,401.1 L422.9,401.2 L423.5,401.4 L424.2,401.6 L424.9,401.8 L425.6,402.1 L426.3,402.3 L427,402.4 L427.7,402.5 L428.4,402.5 L429.1,402.5 L429.8,402.5 L430.5,402.4 L431.2,402.5 L431.9,402.7 L432.5,402.9 L433.2,403.2 L433.9,403.6 L434.6,404 L435.3,404.3 L436,404.4 L436.7,404.5 L437.4,404.4 L438.1,404.3 L438.8,404.2 L439.5,404.2 L440.2,404.3 L440.9,404.5 L441.5,404.7 L442.2,405 L442.9,405.3 L443.6,405.5 L444.3,405.6 L445,405.8 L445.7,405.9 L446.4,406 L447.1,406.1 L447.8,406.3 L448.4,406.5 L449.1,406.6 L449.8,406.7 L450.5,406.7 L451.2,406.6 L451.9,406.6 L452.6,406.6 L453.3,406.7 L453.9,407 L454.6,407.4 L455.3,407.8 L456,408.2 L456.7,408.5 L457.4,408.6 L458,408.5 L458.7,408.4 L459.4,408.2 L460.1,408.1 L460.8,408.1 L461.5,408.2 L462.1,408.5 L462.8,408.9 L463.5,409.3 L464.2,409.5 L464.9,409.7 L465.5,409.8 L466.2,409.8 L466.9,409.8 L467.6,409.8 L468.2,410 L468.9,410.2 L469.6,410.4 L470.3,410.6 L470.9,410.8 L471.6,410.8 L472.3,410.8 L472.9,410.7 L473.6,410.7 L474.3,410.8 L475,411.1 L475.6,411.4 L476.3,411.8 L477,412.2 L477.6,412.5 L478.3,412.6 L478.9,412.5 L479.6,412.4 L480.3,412.2 L480.9,412.1 L481.6,412.2 L482.3,412.4 L482.9,412.8 L483.6,413.2 L484.2,413.5 L484.9,413.8 L485.5,414 L486.2,414 L486.7,414" stroke="#2a2a2a"/>
<path d="M292.2,297.1 L292.2,297.9 L292.3,298.7 L292.3,299.5 L292.4,300.3 L292.4,301.1 L292.5,301.9 L292.6,302.7 L292.7,303.4 L292.8,304.2 L292.9,305 L293,305.7 L293.1,306.5 L293.2,307.3 L293.4,308 L293.5,308.8 L293.6,309.5 L293.8,310.2 L293.9,311 L294.1,311.7 L294.3,312.4 L294.4,313.1 L294.6,313.9 L294.8,314.6 L295,315.3 L295.2,316 L295.4,316.7 L295.6,317.4 L295.8,318.1 L296,318.7 L296.2,319.4 L296.5,320.1 L296.7,320.8 L297,321.4 L297.2,322.1 L297.5,322.8 L297.7,323.4 L298,324.1 L298.3,324.7 L298.5,325.3 L298.8,326 L299.1,326.6 L299.4,327.2 L299.7,327.9 L300,328.5 L300.3,329.1 L300.6,329.7 L300.9,330.3 L301.3,330.9 L301.6,331.5 L301.9,332.1 L302.3,332.7 L302.6,333.3 L303,333.9 L303.3,334.5 L303.7,335.1 L304.1,335.6 L304.4,336.2 L304.8,336.8 L305.2,337.3 L305.6,337.9 L306,338.5 L306.3,339 L306.7,339.6 L307.1,340.1 L307.6,340.6 L308,341.2 L308.4,341.7 L308.8,342.2 L309.2,342.8 L309.7,343.3 L310.1,343.8 L310.5,344.3 L311,344.8 L311.4,345.3 L311.9,345.8 L312.3,346.3 L312.8,346.8 L313.2,347.3 L313.7,347.8 L314.2,348.3 L314.6,348.8 L315.1,349.3 L315.6,349.7 L316.1,350.2 L316.6,350.7 L317.1,351.1 L317.6,351.6 L318.1,353.1 L318.6,353.3 L319.1,353.5 L319.6,353.7 L320.1,353.9 L320.6,354 L321.1,354.2 L321.6,354.3 L322.2,354.5 L322.7,355.2 L323.2,355.9 L323.8,356.6 L324.3,357.3 L324.9,358 L325.4,358.7 L325.9,359.4 L326.5,360 L327.1,360.1 L327.6,360.2 L328.2,360.3 L328.7,360.4 L329.3,360.5 L329.9,360.6 L330.4,360.6 L331,361.1 L331.6,361.8 L332.2,362.5 L332.7,363.2 L333.3,363.9 L333.9,364.6 L334.5,365.4 L335.1,365.7 L335.7,365.7 L336.3,365.8 L336.9,365.8 L337.5,365.8 L338.1,365.8 L338.7,365.8 L339.3,366.1 L339.9,366.8 L340.5,367.5 L341.1,368.2 L341.7,368.9 L342.3,369.6 L343,370.2 L343.6,370.5 L344.2,370.4 L344.8,370.4 L345.5,370.3 L346.1,370.3 L346.7,370.2 L347.3,370.1 L348,370.7 L348.6,371.4 L349.2,372.1 L349.9,372.8 L350.5,373.5 L351.1,374.2 L351.8,374.6 L352.4,374.5 L353.1,374.4 L353.7,374.3 L354.4,374.2 L355,374 L355.6,373.9 L356.3,374.4 L356.9,375.1 L357.6,375.8 L358.2,376.4 L358.9,377.1 L359.5,377.8 L360.2,378.2 L360.8,378.1 L361.5,377.9 L362.2,377.8 L362.8,377.6 L363.5,377.4 L364.1,377.2 L364.8,377.8 L365.4,378.5 L366.1,379.1 L366.8,379.8 L367.4,380.5 L368.1,381.2 L368.7,381.4 L369.4,381.2 L370.1,381 L370.7,380.7 L371.4,380.5 L372.1,380.3 L372.7,380.3 L373.4,380.9 L374.1,381.6 L374.7,382.3 L375.4,382.9 L376.1,383.6 L376.8,384.3 L377.4,384.1 L378.1,383.9 L378.8,383.6 L379.4,383.3 L380.1,383.1 L380.8,382.8 L381.5,383.2 L382.1,383.8 L382.8,384.5 L383.5,385.2 L384.2,385.9 L384.9,386.5 L385.5,386.7 L386.2,386.4 L386.9,386.1 L387.6,385.8 L388.2,385.5 L388.9,385.2 L389.6,385.2 L390.3,385.9 L391,386.6 L391.7,387.2 L392.3,387.9 L393,388.6 L393.7,389.1 L394.4,388.8 L395.1,388.4 L395.8,388.1 L396.4,387.8 L397.1,387.4 L397.8,387.1 L398.5,387.8 L399.2,388.4 L399.9,389.1 L400.6,389.8 L401.3,390.5 L401.9,391.1 L402.6,390.9 L403.3,390.5 L404,390.1 L404.7,389.8 L405.4,389.4 L406.1,389 L406.8,389.5 L407.5,390.2 L408.1,390.8 L408.8,391.5 L409.5,392.2 L410.2,392.9 L410.9,392.8 L411.6,392.4 L412.3,392 L413,391.6 L413.7,391.2 L414.4,390.7 L415.1,391.1 L415.7,391.7 L416.4,392.4 L417.1,393.1 L417.8,393.8 L418.5,394.5 L419.2,394.5 L419.9,394.1 L420.6,393.7 L421.3,393.2 L422,392.8 L422.7,392.4 L423.4,392.5 L424.1,393.2 L424.8,393.9 L425.5,394.6 L426.1,395.3 L426.8,396 L427.5,396.2 L428.2,395.7 L428.9,395.3 L429.6,394.8 L430.3,394.4 L431,393.9 L431.7,393.9 L432.4,394.6 L433.1,395.3 L433.8,396 L434.5,396.7 L435.2,397.5 L435.8,397.7 L436.5,397.3 L437.2,396.8 L437.9,396.3 L438.6,395.8 L439.3,395.4 L440,395.2 L440.7,395.9 L441.4,396.6 L442.1,397.4 L442.8,398.1 L443.5,398.8 L444.1,399.3 L444.8,398.8 L445.5,398.3 L446.2,397.8 L446.9,397.3 L447.6,396.8 L448.3,396.4 L449,397.2 L449.7,397.9 L450.3,398.6 L451,399.4 L451.7,400.1 L452.4,400.8 L453.1,400.3 L453.8,399.8 L454.5,399.3 L455.2,398.8 L455.8,398.3 L456.5,397.8 L457.2,398.4 L457.9,399.1 L458.6,399.8 L459.3,400.6 L459.9,401.3 L460.6,402.1 L461.3,401.9 L462,401.4 L462.7,400.9 L463.4,400.3 L464,399.8 L464.7,399.3 L465.4,399.5 L466.1,400.3 L466.7,401 L467.4,401.8 L468.1,402.5 L468.8,403.3 L469.5,403.6 L470.1,403.1 L470.8,402.5 L471.5,402 L472.2,401.5 L472.8,401 L473.5,400.6 L474.2,401.4 L474.8,402.2 L475.5,402.9 L476.2,403.7 L476.9,404.5 L477.5,405.3 L478.2,404.9 L478.9,404.4 L479.5,403.8 L480.2,403.3 L480.9,402.8 L481.5,402.3 L482.2,402.5 L482.8,403.3 L483.5,404.1 L484.2,404.9 L484.8,405.7 L485.5,406.4 L486.2,406.9 L486.7,406.5" stroke="#26cc26"/>
</g>
<path d="M292,251.1 V430 H487.5" fill="none" stroke="#2a2a2a" stroke-width="1.35"/>
<path d="M292,276.1h2.6 M292,269.8h2.6 M292,265.3h2.6 M292,261.9h2.6 M292,259h2.6 M292,256.6h2.6 M292,254.6h2.6 M292,252.7h2.6 M292,311.9h2.6 M292,305.6h2.6 M292,301.1h2.6 M292,297.7h2.6 M292,294.8h2.6 M292,292.4h2.6 M292,290.4h2.6 M292,288.5h2.6 M292,347.7h2.6 M292,341.4h2.6 M292,336.9h2.6 M292,333.5h2.6 M292,330.6h2.6 M292,328.2h2.6 M292,326.2h2.6 M292,324.3h2.6 M292,383.5h2.6 M292,377.2h2.6 M292,372.7h2.6 M292,369.3h2.6 M292,366.4h2.6 M292,364h2.6 M292,362h2.6 M292,360.1h2.6 M292,419.3h2.6 M292,413h2.6 M292,408.5h2.6 M292,405.1h2.6 M292,402.2h2.6 M292,399.8h2.6 M292,397.8h2.6 M292,395.9h2.6 M299.9,430v-2.6 M308,430v-2.6 M316.2,430v-2.6 M332.5,430v-2.6 M340.6,430v-2.6 M348.8,430v-2.6 M357,430v-2.6 M373.3,430v-2.6 M381.4,430v-2.6 M389.6,430v-2.6 M397.8,430v-2.6 M414.1,430v-2.6 M422.2,430v-2.6 M430.4,430v-2.6 M438.5,430v-2.6 M454.9,430v-2.6 M463,430v-2.6 M471.2,430v-2.6 M479.3,430v-2.6" fill="none" stroke="#aaa" stroke-width="0.9"/>
<path d="M292,251.1h4.7 M292,286.9h4.7 M292,322.7h4.7 M292,358.5h4.7 M292,394.3h4.7 M292,430.1h4.7 M324.3,430v-4.6 M365.1,430v-4.6 M405.9,430v-4.6 M446.7,430v-4.6 M487.5,430v-4.6" fill="none" stroke="#444" stroke-width="1.3"/>
<path d="M347,0L259,0L259,560C238,540 210,520 175,499C140,478 109,463 82,453L82,538C131,561 174,589 211,621C248,653 274,685 289,716L347,716Z" transform="translate(274.95,253.80) scale(0.00940,-0.00940)" style="fill:#111;stroke:#111;stroke-width:23.4"/>
<text x="280.17" y="253.80" font-size="9.4" class="tl">0</text>
<text x="285.4" y="250.6" font-size="6.2" class="tl">9</text>
<path d="M347,0L259,0L259,560C238,540 210,520 175,499C140,478 109,463 82,453L82,538C131,561 174,589 211,621C248,653 274,685 289,716L347,716Z" transform="translate(274.95,289.60) scale(0.00940,-0.00940)" style="fill:#111;stroke:#111;stroke-width:23.4"/>
<text x="280.17" y="289.60" font-size="9.4" class="tl">0</text>
<text x="285.4" y="286.4" font-size="6.2" class="tl">8</text>
<path d="M347,0L259,0L259,560C238,540 210,520 175,499C140,478 109,463 82,453L82,538C131,561 174,589 211,621C248,653 274,685 289,716L347,716Z" transform="translate(274.95,325.40) scale(0.00940,-0.00940)" style="fill:#111;stroke:#111;stroke-width:23.4"/>
<text x="280.17" y="325.40" font-size="9.4" class="tl">0</text>
<text x="285.4" y="322.2" font-size="6.2" class="tl">7</text>
<path d="M347,0L259,0L259,560C238,540 210,520 175,499C140,478 109,463 82,453L82,538C131,561 174,589 211,621C248,653 274,685 289,716L347,716Z" transform="translate(274.95,361.20) scale(0.00940,-0.00940)" style="fill:#111;stroke:#111;stroke-width:23.4"/>
<text x="280.17" y="361.20" font-size="9.4" class="tl">0</text>
<text x="285.4" y="358" font-size="6.2" class="tl">6</text>
<path d="M347,0L259,0L259,560C238,540 210,520 175,499C140,478 109,463 82,453L82,538C131,561 174,589 211,621C248,653 274,685 289,716L347,716Z" transform="translate(274.95,397.00) scale(0.00940,-0.00940)" style="fill:#111;stroke:#111;stroke-width:23.4"/>
<text x="280.17" y="397.00" font-size="9.4" class="tl">0</text>
<text x="285.4" y="393.8" font-size="6.2" class="tl">5</text>
<path d="M347,0L259,0L259,560C238,540 210,520 175,499C140,478 109,463 82,453L82,538C131,561 174,589 211,621C248,653 274,685 289,716L347,716Z" transform="translate(274.95,432.80) scale(0.00940,-0.00940)" style="fill:#111;stroke:#111;stroke-width:23.4"/>
<text x="280.17" y="432.80" font-size="9.4" class="tl">0</text>
<text x="285.4" y="429.6" font-size="6.2" class="tl">4</text>
<path d="M347,0L259,0L259,560C238,540 210,520 175,499C140,478 109,463 82,453L82,538C131,561 174,589 211,621C248,653 274,685 289,716L347,716Z" transform="translate(318.83,439.10) scale(0.00990,-0.00990)" style="fill:#111;stroke:#111;stroke-width:22.2"/>
<text x="324.33" y="439.10" font-size="9.9" class="tl">0</text>
<text x="359.62" y="439.10" font-size="9.9" class="tl">20</text>
<text x="400.41" y="439.10" font-size="9.9" class="tl">30</text>
<text x="441.20" y="439.10" font-size="9.9" class="tl">40</text>
<text x="482.00" y="439.10" font-size="9.9" class="tl">50</text>
<text x="389.8" y="447.8" font-size="8.3" font-weight="bold" text-anchor="middle" class="bl">R [km]</text>
<text transform="translate(274.2,340.6) rotate(-90)" font-size="8.3" font-weight="bold" text-anchor="middle" class="bl">Dust number density [m<tspan font-size="5.15" dy="-3.98">-3</tspan><tspan dy="3.98">]</tspan></text>
<path d="M415,292.8H446.2" stroke="#d42a2a" stroke-width="1.35"/>
<text x="451.90" y="295.40" font-size="7.4" class="lg" font-weight="bold">5°</text>
<path d="M415,301.2H446.2" stroke="#ff901e" stroke-width="1.35"/>
<text x="451.90" y="303.80" font-size="7.4" class="lg" font-weight="bold">45°</text>
<path d="M415,309.6H446.2" stroke="#5c5cff" stroke-width="1.35"/>
<text x="451.90" y="312.20" font-size="7.4" class="lg" font-weight="bold">90°</text>
<path d="M415,318H446.2" stroke="#2a2a2a" stroke-width="1.35"/>
<path d="M387,0L250,0L250,516C200,469 141,434 73,411L73,535C109,547 148,569 190,601C232,634 261,672 276,716L387,716Z" transform="translate(451.90,320.60) scale(0.00740,-0.00740)" style="fill:#111;stroke:#111;stroke-width:54.1"/>
<text x="456.01" y="320.60" font-size="7.4" class="lg" font-weight="bold">35°</text>
<path d="M415,326.4H446.2" stroke="#26cc26" stroke-width="1.35"/>
<path d="M387,0L250,0L250,516C200,469 141,434 73,411L73,535C109,547 148,569 190,601C232,634 261,672 276,716L387,716Z" transform="translate(451.90,329.00) scale(0.00740,-0.00740)" style="fill:#111;stroke:#111;stroke-width:54.1"/>
<text x="456.01" y="329.00" font-size="7.4" class="lg" font-weight="bold">75°</text>
<text x="388.6" y="473.1" font-size="13.0" font-family="Liberation Serif, serif" text-anchor="middle" class="cp">(d)</text>
<clipPath id="cpe"><rect x="30.4" y="487.9" width="196.5" height="179.4"/></clipPath>
<g clip-path="url(#cpe)" fill="none" stroke-width="1.35" stroke-linejoin="round">
<path d="M33.3,488.8 L33.4,489.4 L33.5,490 L33.7,490.5 L33.8,491.1 L33.9,491.7 L34,492.3 L34.2,492.9 L34.3,493.5 L34.5,494.1 L34.6,494.7 L34.8,495.4 L34.9,496 L35.1,496.6 L35.3,497.3 L35.4,497.9 L35.6,498.6 L35.8,499.2 L36,499.9 L36.2,500.6 L36.4,501.2 L36.6,501.9 L36.8,502.6 L37,503.3 L37.2,504 L37.4,504.7 L37.7,505.4 L37.9,506.1 L38.1,506.9 L38.4,507.6 L38.7,508.3 L38.9,509.1 L39.2,509.8 L39.5,510.5 L39.8,511.3 L40.1,512.1 L40.4,512.8 L40.7,513.6 L41,514.4 L41.3,515.1 L41.7,515.9 L42,516.7 L42.4,517.5 L42.8,518.3 L43.2,519.1 L43.5,519.9 L44,520.7 L44.4,521.6 L44.8,522.4 L45.2,523.2 L45.7,524 L46.2,524.9 L46.6,525.7 L47.1,526.6 L47.6,527.4 L48.2,528.3 L48.7,529.1 L49.2,530 L49.8,530.9 L50.4,531.7 L51,532.6 L51.6,533.5 L52.2,534.4 L52.9,535.3 L53.5,536.2 L54.2,537.1 L54.9,538 L55.7,538.9 L56.4,539.8 L57.2,540.7 L58,541.6 L58.8,542.5 L59.6,543.5 L60.5,544.4 L61.3,545.3 L62.3,546.2 L63.2,547.2 L64.1,548.1 L65.1,549.1 L66.1,550 L67.2,551 L68.3,551.9 L69.4,552.9 L70.5,553.9 L71.7,554.8 L72.8,555.8 L74.1,556.8 L75.3,557.7 L76.6,558.7 L78,559.7 L79.4,560.7 L80.8,561.7 L82.2,562.7 L83.7,563.7 L85.3,564.7 L86.8,565.7 L88.5,566.7 L90.1,567.7 L91.9,568.7 L93.6,569.7 L95.4,570.7 L97.3,571.7 L99.2,572.7 L101.2,573.8 L103.2,574.8 L105.3,575.8 L107.5,576.8 L109.7,577.9 L111.9,578.9 L114.3,579.9 L116.7,581 L119.1,582 L121.7,583.1 L124.3,584.1 L127,585.2 L129.7,586.2 L132.5,587.3 L135.5,588.3 L138.5,589.4 L141.5,590.4 L144.7,591.5 L148,592.5 L151.3,593.6 L154.8,594.7 L158.3,595.7 L161.9,596.8 L165.7,597.9 L169.5,598.9 L173.5,600 L177.5,601.1 L181.7,602.2 L186,603.2 L190.5,604.3 L195,605.4 L199.7,606.5 L204.5,607.6 L209.4,608.7 L214.5,609.7 L219.7,610.8 L225.1,611.9" stroke="#d42a2a"/>
<path d="M32.3,488.9 L32.4,489.6 L32.5,490.2 L32.6,490.8 L32.7,491.5 L32.8,492.1 L32.9,492.8 L33,493.4 L33.1,494.1 L33.3,494.7 L33.4,495.4 L33.5,496.1 L33.6,496.7 L33.8,497.4 L33.9,498.1 L34.1,498.8 L34.2,499.5 L34.4,500.2 L34.5,500.9 L34.7,501.6 L34.8,502.3 L35,503 L35.2,503.7 L35.4,504.4 L35.5,505.1 L35.7,505.9 L35.9,506.6 L36.1,507.4 L36.4,508.1 L36.6,508.9 L36.8,509.6 L37,510.4 L37.3,511.2 L37.5,511.9 L37.8,512.7 L38,513.5 L38.3,514.3 L38.6,515.1 L38.8,515.9 L39.1,516.7 L39.4,517.5 L39.7,518.3 L40.1,519.1 L40.4,520 L40.7,520.8 L41.1,521.6 L41.4,522.5 L41.8,523.3 L42.2,524.2 L42.6,525.1 L43,525.9 L43.4,526.8 L43.8,527.7 L44.3,528.6 L44.7,529.5 L45.2,530.4 L45.7,531.3 L46.2,532.2 L46.7,533.1 L47.2,534 L47.8,535 L48.3,535.9 L48.9,536.8 L49.5,537.8 L50.1,538.7 L50.8,539.7 L51.4,540.7 L52.1,541.6 L52.8,542.6 L53.5,543.6 L54.2,544.5 L55,545.5 L55.8,546.5 L56.6,547.5 L57.4,548.5 L58.3,549.5 L59.1,550.5 L60.1,551.5 L61,552.6 L61.9,553.6 L62.9,554.6 L64,555.6 L65,556.7 L66.1,557.7 L67.2,558.7 L68.4,559.8 L69.5,560.8 L70.8,561.9 L72,562.9 L73.3,564 L74.7,565.1 L76,566.1 L77.5,567.2 L78.9,568.3 L80.4,569.4 L82,570.4 L83.6,571.5 L85.2,572.6 L86.9,573.7 L88.7,574.8 L90.5,575.9 L92.3,577 L94.2,578.1 L96.2,579.2 L98.2,580.3 L100.3,581.4 L102.4,582.5 L104.7,583.7 L106.9,584.8 L109.3,585.9 L111.7,587 L114.2,588.2 L116.8,589.3 L119.4,590.4 L122.2,591.5 L125,592.7 L127.9,593.8 L130.9,595 L134,596.1 L137.1,597.3 L140.4,598.4 L143.8,599.6 L147.2,600.7 L150.8,601.9 L154.5,603.1 L158.3,604.2 L162.2,605.4 L166.2,606.6 L170.3,607.8 L174.6,608.9 L179,610.1 L183.5,611.3 L188.2,612.5 L193,613.7 L198,614.9 L203.1,616.2 L208.3,617.4 L213.8,618.6 L219.3,619.8 L225.1,621.1" stroke="#ff901e"/>
<path d="M31,507.9 L31.1,508.3 L31.1,508.7 L31.2,509.1 L31.3,509.5 L31.3,509.9 L31.4,510.3 L31.5,510.6 L31.6,511 L31.6,511.4 L31.7,511.9 L31.8,512.3 L31.9,512.7 L32,513.2 L32.1,513.6 L32.2,514.1 L32.3,514.6 L32.4,515.1 L32.5,515.6 L32.6,516.2 L32.7,516.8 L32.9,517.4 L33,518 L33.1,518.7 L33.3,519.4 L33.4,520.1 L33.5,520.9 L33.7,521.6 L33.8,522.5 L34,523.3 L34.2,524.2 L34.3,525.1 L34.5,526 L34.7,527 L34.9,527.9 L35.1,528.9 L35.3,529.9 L35.5,530.9 L35.7,531.9 L35.9,532.9 L36.2,533.9 L36.4,534.9 L36.6,536 L36.9,537 L37.2,537.9 L37.4,538.9 L37.7,539.9 L38,540.9 L38.3,541.8 L38.6,542.7 L38.9,543.7 L39.3,544.6 L39.6,545.5 L40,546.4 L40.4,547.3 L40.7,548.2 L41.1,549.1 L41.5,549.9 L42,550.8 L42.4,551.7 L42.9,552.6 L43.3,553.5 L43.8,554.4 L44.3,555.2 L44.8,556.1 L45.4,557 L45.9,558 L46.5,558.9 L47.1,559.8 L47.7,560.7 L48.3,561.7 L49,562.6 L49.7,563.6 L50.4,564.6 L51.1,565.6 L51.9,566.6 L52.6,567.6 L53.4,568.7 L54.3,569.7 L55.1,570.8 L56,571.9 L56.9,573 L57.9,574.1 L58.9,575.3 L59.9,576.4 L60.9,577.6 L62,578.8 L63.1,580 L64.3,581.1 L65.5,582.4 L66.8,583.6 L68,584.8 L69.4,586 L70.8,587.2 L72.2,588.4 L73.7,589.7 L75.2,590.9 L76.8,592.1 L78.4,593.3 L80.1,594.6 L81.8,595.8 L83.6,597 L85.5,598.2 L87.4,599.4 L89.4,600.6 L91.5,601.8 L93.6,603 L95.8,604.2 L98.1,605.4 L100.5,606.5 L102.9,607.7 L105.4,608.9 L108,610.1 L110.8,611.2 L113.5,612.4 L116.4,613.6 L119.4,614.8 L122.5,616 L125.7,617.2 L129,618.4 L132.5,619.6 L136,620.8 L139.7,622 L143.4,623.3 L147.4,624.5 L151.4,625.8 L155.6,627.1 L159.9,628.3 L164.4,629.6 L169,631 L173.8,632.3 L178.8,633.7 L183.9,635 L189.2,636.4 L194.7,637.8 L200.4,639.3 L206.3,640.7 L212.3,642.2 L218.6,643.7 L225.1,645.3" stroke="#5c5cff"/>
<path d="M31,507.9 L31.1,508.3 L31.1,508.7 L31.2,509.1 L31.3,509.5 L31.3,509.9 L31.4,510.3 L31.5,510.7 L31.6,511.1 L31.6,511.5 L31.7,511.9 L31.8,512.3 L31.9,512.8 L32,513.2 L32.1,513.7 L32.2,514.1 L32.3,514.6 L32.4,515.1 L32.5,515.6 L32.6,516.2 L32.7,516.8 L32.9,517.4 L33,518 L33.1,518.6 L33.3,519.3 L33.4,520.1 L33.5,520.8 L33.7,521.6 L33.8,522.4 L34,523.3 L34.2,524.2 L34.3,525.1 L34.5,526 L34.7,527 L34.9,527.9 L35.1,528.9 L35.3,529.9 L35.5,531 L35.7,532 L35.9,533 L36.2,534 L36.4,535 L36.6,536 L36.9,537.1 L37.2,538 L37.4,539 L37.7,540 L38,540.9 L38.3,541.9 L38.6,542.8 L38.9,543.7 L39.3,544.6 L39.6,545.5 L40,546.4 L40.4,547.3 L40.7,548.2 L41.1,549 L41.5,549.9 L42,550.8 L42.4,551.7 L42.9,552.6 L43.3,553.5 L43.8,554.4 L44.3,555.3 L44.8,556.2 L45.4,557.1 L45.9,558.1 L46.5,559 L47.1,560 L47.7,561 L48.3,562 L49,563.1 L49.7,564.2 L50.4,565.2 L51.1,566.3 L51.9,567.5 L52.6,568.6 L53.4,569.7 L54.3,570.9 L55.1,572.1 L56,573.2 L56.9,574.4 L57.9,575.6 L58.9,576.8 L59.9,578 L60.9,579.2 L62,580.4 L63.1,581.6 L64.3,582.8 L65.5,584 L66.8,585.2 L68,586.4 L69.4,587.6 L70.8,588.8 L72.2,590 L73.7,591.3 L75.2,592.5 L76.8,593.7 L78.4,594.9 L80.1,596.2 L81.8,597.4 L83.6,598.6 L85.5,599.8 L87.4,601.1 L89.4,602.3 L91.5,603.5 L93.6,604.8 L95.8,606 L98.1,607.2 L100.5,608.5 L102.9,609.7 L105.4,610.9 L108,612.2 L110.8,613.4 L113.5,614.6 L116.4,615.9 L119.4,617.1 L122.5,618.3 L125.7,619.5 L129,620.8 L132.5,622 L136,623.3 L139.7,624.5 L143.4,625.8 L147.4,627 L151.4,628.3 L155.6,629.6 L159.9,630.9 L164.4,632.2 L169,633.5 L173.8,634.8 L178.8,636.2 L183.9,637.5 L189.2,638.9 L194.7,640.3 L200.4,641.8 L206.3,643.2 L212.3,644.7 L218.6,646.2 L225.1,647.7" stroke="#26cc26"/>
</g>
<path d="M30.4,488.5 V667.3 H225.9" fill="none" stroke="#2a2a2a" stroke-width="1.35"/>
<path d="M30.4,521.3h2.6 M30.4,513h2.6 M30.4,507.2h2.6 M30.4,502.6h2.6 M30.4,498.9h2.6 M30.4,495.8h2.6 M30.4,493h2.6 M30.4,490.6h2.6 M30.4,568.2h2.6 M30.4,559.9h2.6 M30.4,554.1h2.6 M30.4,549.5h2.6 M30.4,545.8h2.6 M30.4,542.7h2.6 M30.4,539.9h2.6 M30.4,537.5h2.6 M30.4,615.1h2.6 M30.4,606.8h2.6 M30.4,601h2.6 M30.4,596.4h2.6 M30.4,592.7h2.6 M30.4,589.6h2.6 M30.4,586.8h2.6 M30.4,584.4h2.6 M30.4,662h2.6 M30.4,653.7h2.6 M30.4,647.9h2.6 M30.4,643.3h2.6 M30.4,639.6h2.6 M30.4,636.5h2.6 M30.4,633.7h2.6 M30.4,631.3h2.6 M37.8,667.3v-2.6 M46,667.3v-2.6 M54.1,667.3v-2.6 M70.5,667.3v-2.6 M78.7,667.3v-2.6 M86.9,667.3v-2.6 M95,667.3v-2.6 M111.4,667.3v-2.6 M119.6,667.3v-2.6 M127.8,667.3v-2.6 M135.9,667.3v-2.6 M152.3,667.3v-2.6 M160.5,667.3v-2.6 M168.6,667.3v-2.6 M176.8,667.3v-2.6 M193.2,667.3v-2.6 M201.4,667.3v-2.6 M209.5,667.3v-2.6 M217.7,667.3v-2.6" fill="none" stroke="#aaa" stroke-width="0.9"/>
<path d="M30.4,488.5h4.7 M30.4,535.4h4.7 M30.4,582.3h4.7 M30.4,629.2h4.7 M62.3,667.3v-4.6 M103.2,667.3v-4.6 M144.1,667.3v-4.6 M185,667.3v-4.6 M225.9,667.3v-4.6" fill="none" stroke="#444" stroke-width="1.3"/>
<path d="M347,0L259,0L259,560C238,540 210,520 175,499C140,478 109,463 82,453L82,538C131,561 174,589 211,621C248,653 274,685 289,716L347,716Z" transform="translate(13.95,491.20) scale(0.00940,-0.00940)" style="fill:#111;stroke:#111;stroke-width:23.4"/>
<text x="19.17" y="491.20" font-size="9.4" class="tl">0</text>
<text x="24.4" y="488" font-size="6.2" class="tl">8</text>
<path d="M347,0L259,0L259,560C238,540 210,520 175,499C140,478 109,463 82,453L82,538C131,561 174,589 211,621C248,653 274,685 289,716L347,716Z" transform="translate(13.95,538.10) scale(0.00940,-0.00940)" style="fill:#111;stroke:#111;stroke-width:23.4"/>
<text x="19.17" y="538.10" font-size="9.4" class="tl">0</text>
<text x="24.4" y="534.9" font-size="6.2" class="tl">7</text>
<path d="M347,0L259,0L259,560C238,540 210,520 175,499C140,478 109,463 82,453L82,538C131,561 174,589 211,621C248,653 274,685 289,716L347,716Z" transform="translate(13.95,585.00) scale(0.00940,-0.00940)" style="fill:#111;stroke:#111;stroke-width:23.4"/>
<text x="19.17" y="585.00" font-size="9.4" class="tl">0</text>
<text x="24.4" y="581.8" font-size="6.2" class="tl">6</text>
<path d="M347,0L259,0L259,560C238,540 210,520 175,499C140,478 109,463 82,453L82,538C131,561 174,589 211,621C248,653 274,685 289,716L347,716Z" transform="translate(13.95,631.90) scale(0.00940,-0.00940)" style="fill:#111;stroke:#111;stroke-width:23.4"/>
<text x="19.17" y="631.90" font-size="9.4" class="tl">0</text>
<text x="24.4" y="628.7" font-size="6.2" class="tl">5</text>
<path d="M347,0L259,0L259,560C238,540 210,520 175,499C140,478 109,463 82,453L82,538C131,561 174,589 211,621C248,653 274,685 289,716L347,716Z" transform="translate(56.81,676.40) scale(0.00990,-0.00990)" style="fill:#111;stroke:#111;stroke-width:22.2"/>
<text x="62.32" y="676.40" font-size="9.9" class="tl">0</text>
<text x="97.71" y="676.40" font-size="9.9" class="tl">20</text>
<text x="138.60" y="676.40" font-size="9.9" class="tl">30</text>
<text x="179.50" y="676.40" font-size="9.9" class="tl">40</text>
<text x="220.40" y="676.40" font-size="9.9" class="tl">50</text>
<text x="128.2" y="685.8" font-size="9.2" font-weight="bold" text-anchor="middle" class="bl">R [km]</text>
<text transform="translate(9.7,578.5) rotate(-90)" font-size="9.3" font-weight="bold" text-anchor="middle" class="bl">Dust number density [m<tspan font-size="5.77" dy="-4.46">-3</tspan><tspan dy="4.46">]</tspan></text>
<path d="M155.2,535.8H187" stroke="#d42a2a" stroke-width="1.35"/>
<text x="192.20" y="538.40" font-size="7.4" class="lg" font-weight="bold">5°</text>
<path d="M155.2,544.2H187" stroke="#ff901e" stroke-width="1.35"/>
<text x="192.20" y="546.78" font-size="7.4" class="lg" font-weight="bold">45°</text>
<path d="M155.2,552.6H187" stroke="#5c5cff" stroke-width="1.35"/>
<text x="192.20" y="555.16" font-size="7.4" class="lg" font-weight="bold">90°</text>
<path d="M155.2,560.9H187" stroke="#2a2a2a" stroke-width="1.35"/>
<path d="M387,0L250,0L250,516C200,469 141,434 73,411L73,535C109,547 148,569 190,601C232,634 261,672 276,716L387,716Z" transform="translate(192.20,563.54) scale(0.00740,-0.00740)" style="fill:#111;stroke:#111;stroke-width:54.1"/>
<text x="196.31" y="563.54" font-size="7.4" class="lg" font-weight="bold">35°</text>
<path d="M155.2,569.3H187" stroke="#26cc26" stroke-width="1.35"/>
<path d="M387,0L250,0L250,516C200,469 141,434 73,411L73,535C109,547 148,569 190,601C232,634 261,672 276,716L387,716Z" transform="translate(192.20,571.92) scale(0.00740,-0.00740)" style="fill:#111;stroke:#111;stroke-width:54.1"/>
<text x="196.31" y="571.92" font-size="7.4" class="lg" font-weight="bold">75°</text>
<text x="127" y="710.4" font-size="13.0" font-family="Liberation Serif, serif" text-anchor="middle" class="cp">(e)</text>
<clipPath id="cpf"><rect x="292" y="487.9" width="196.5" height="179.4"/></clipPath>
<g clip-path="url(#cpf)" fill="none" stroke-width="1.35" stroke-linejoin="round">
<path d="M293.1,500.1 L293.2,500.9 L293.3,501.6 L293.3,502.4 L293.4,503.2 L293.5,503.9 L293.6,504.7 L293.7,505.4 L293.8,506.2 L293.9,506.9 L294.1,507.7 L294.2,508.4 L294.3,509.2 L294.4,509.9 L294.5,510.7 L294.6,511.4 L294.7,512.1 L294.8,512.9 L295,513.6 L295.1,514.3 L295.2,515.1 L295.3,515.8 L295.5,516.5 L295.6,517.2 L295.7,518 L295.9,518.7 L296,519.4 L296.1,520.1 L296.3,520.8 L296.4,521.5 L296.6,522.2 L296.7,523 L296.9,523.7 L297,524.4 L297.2,525.1 L297.4,525.8 L297.5,526.5 L297.7,527.2 L297.9,527.8 L298,528.5 L298.2,529.2 L298.4,529.9 L298.6,530.6 L298.8,531.3 L298.9,532 L299.1,532.6 L299.3,533.3 L299.5,534 L299.7,534.7 L299.9,535.3 L300.1,536 L300.3,536.7 L300.6,537.3 L300.8,538 L301,538.6 L301.2,539.3 L301.5,539.9 L301.7,540.6 L301.9,541.2 L302.2,541.9 L302.4,542.5 L302.6,543.2 L302.9,543.8 L303.1,544.5 L303.4,545.1 L303.7,545.7 L303.9,546.4 L304.2,547 L304.5,547.6 L304.8,548.3 L305,548.9 L305.3,549.5 L305.6,550.1 L305.9,550.7 L306.2,551.3 L306.5,552 L306.8,552.6 L307.1,553.2 L307.4,553.8 L307.8,554.4 L308.1,555 L308.4,555.6 L308.7,556.2 L309.1,556.8 L309.4,557.4 L309.8,558 L310.1,558.5 L310.5,559.1 L310.8,559.7 L311.2,560.3 L311.5,560.9 L311.9,561.5 L312.3,562 L312.6,562.6 L313,563.2 L313.4,563.7 L313.8,564.3 L314.2,564.9 L314.6,565.4 L315,566 L315.4,566.5 L315.8,567.1 L316.2,567.6 L316.6,568.2 L317,568.7 L317.4,569.3 L317.8,569.8 L318.3,570.4 L318.7,570.9 L319.1,571.4 L319.5,572 L320,572.5 L320.4,573.2 L320.9,573.8 L321.3,574.3 L321.8,574.8 L322.2,575.2 L322.7,575.6 L323.1,576 L323.6,576.5 L324.1,576.9 L324.5,577.4 L325,577.9 L325.5,578.5 L326,579.1 L326.4,579.7 L326.9,580.3 L327.4,580.9 L327.9,581.4 L328.4,581.8 L328.9,582.2 L329.4,582.5 L329.9,582.9 L330.4,583.3 L330.9,583.7 L331.4,584.2 L331.9,584.8 L332.4,585.4 L332.9,586 L333.4,586.5 L334,587 L334.5,587.4 L335,587.8 L335.5,588.1 L336.1,588.5 L336.6,588.8 L337.1,589.2 L337.7,589.7 L338.2,590.2 L338.8,590.8 L339.3,591.3 L339.8,591.8 L340.4,592.3 L340.9,592.7 L341.5,593 L342.1,593.4 L342.6,593.7 L343.2,594.1 L343.7,594.5 L344.3,594.9 L344.9,595.3 L345.4,595.8 L346,596.2 L346.6,596.6 L347.1,597.1 L347.7,597.5 L348.3,597.9 L348.9,598.3 L349.5,598.7 L350,599.1 L350.6,599.4 L351.2,599.8 L351.8,600.1 L352.4,600.4 L353,600.7 L353.6,601 L354.2,601.5 L354.8,601.9 L355.4,602.4 L356,602.9 L356.6,603.3 L357.2,603.7 L357.8,603.9 L358.4,604.2 L359,604.4 L359.6,604.6 L360.2,605 L360.8,605.4 L361.4,605.8 L362.1,606.3 L362.7,606.7 L363.3,607.1 L363.9,607.3 L364.5,607.6 L365.2,607.8 L365.8,608.1 L366.4,608.4 L367,608.9 L367.7,609.3 L368.3,609.7 L368.9,610 L369.6,610.3 L370.2,610.5 L370.8,610.6 L371.5,610.8 L372.1,611.1 L372.7,611.5 L373.4,612 L374,612.5 L374.7,612.9 L375.3,613.3 L376,613.5 L376.6,613.7 L377.2,613.8 L377.9,613.9 L378.5,614.1 L379.2,614.3 L379.8,614.7 L380.5,615.1 L381.1,615.5 L381.8,615.9 L382.4,616.3 L383.1,616.6 L383.7,616.9 L384.4,617.1 L385.1,617.3 L385.7,617.5 L386.4,617.6 L387,617.8 L387.7,618 L388.3,618.2 L389,618.5 L389.7,619 L390.3,619.4 L391,619.9 L391.6,620.2 L392.3,620.5 L393,620.6 L393.6,620.6 L394.3,620.7 L395,620.8 L395.6,621 L396.3,621.3 L397,621.7 L397.6,622.1 L398.3,622.5 L399,622.8 L399.6,623 L400.3,623.1 L401,623.3 L401.6,623.5 L402.3,623.7 L403,624 L403.6,624.2 L404.3,624.4 L405,624.6 L405.6,624.7 L406.3,624.8 L407,625.1 L407.6,625.4 L408.3,625.8 L409,626.2 L409.6,626.6 L410.3,626.9 L411,627 L411.6,627 L412.3,626.9 L413,626.9 L413.7,627 L414.3,627.3 L415,627.7 L415.7,628.1 L416.3,628.5 L417,628.9 L417.7,629.1 L418.3,629.3 L419,629.4 L419.7,629.4 L420.3,629.5 L421,629.6 L421.7,629.7 L422.3,629.8 L423,630 L423.7,630.3 L424.3,630.7 L425,631 L425.7,631.4 L426.3,631.7 L427,631.9 L427.7,632 L428.3,632 L429,631.9 L429.7,631.9 L430.3,632 L431,632.2 L431.7,632.6 L432.4,633 L433,633.4 L433.7,633.7 L434.4,633.9 L435,633.9 L435.7,633.9 L436.4,634 L437,634.1 L437.7,634.3 L438.4,634.5 L439,634.7 L439.7,635 L440.4,635.1 L441.1,635.2 L441.7,635.4 L442.4,635.5 L443.1,635.8 L443.7,636.1 L444.4,636.4 L445.1,636.6 L445.7,636.7 L446.4,636.8 L447.1,636.7 L447.8,636.7 L448.4,636.8 L449.1,637 L449.8,637.3 L450.5,637.7 L451.1,638 L451.8,638.3 L452.5,638.5 L453.2,638.5 L453.8,638.5 L454.5,638.6 L455.2,638.6 L455.9,638.7 L456.5,638.9 L457.2,639.1 L457.9,639.4 L458.6,639.6 L459.2,639.8 L459.9,640 L460.6,640.3 L461.3,640.4 L461.9,640.6 L462.6,640.6 L463.3,640.7 L464,640.7 L464.7,640.7 L465.3,640.9 L466,641.1 L466.7,641.5 L467.4,641.8 L468.1,642.1 L468.8,642.3 L469.4,642.3 L470.1,642.3 L470.8,642.2 L471.5,642.3 L472.2,642.4 L472.9,642.7 L473.5,643 L474.2,643.4 L474.9,643.6 L475.6,643.8 L476.3,643.8 L477,643.8 L477.7,643.8 L478.4,643.9 L479,644.1 L479.7,644.4 L480.4,644.6 L481.1,644.8 L481.8,645 L482.5,645.1 L483.2,645.1 L483.9,645.3 L484.6,645.4 L485.3,645.7 L486,645.9 L486.7,646.1 L486.8,646.1" stroke="#d42a2a"/>
<path d="M292.8,503.9 L292.8,504.7 L292.9,505.5 L292.9,506.3 L293,507 L293,507.8 L293.1,508.6 L293.2,509.4 L293.2,510.1 L293.3,510.9 L293.4,511.7 L293.5,512.4 L293.5,513.2 L293.6,513.9 L293.7,514.7 L293.8,515.4 L293.9,516.2 L294,516.9 L294.1,517.7 L294.2,518.4 L294.3,519.2 L294.4,519.9 L294.5,520.6 L294.6,521.4 L294.7,522.1 L294.8,522.8 L294.9,523.6 L295.1,524.3 L295.2,525 L295.3,525.7 L295.4,526.5 L295.6,527.2 L295.7,527.9 L295.8,528.6 L296,529.3 L296.1,530 L296.3,530.7 L296.4,531.4 L296.6,532.1 L296.8,532.8 L296.9,533.5 L297.1,534.2 L297.3,534.9 L297.4,535.6 L297.6,536.3 L297.8,537 L298,537.6 L298.2,538.3 L298.3,539 L298.5,539.7 L298.7,540.3 L298.9,541 L299.1,541.7 L299.3,542.3 L299.6,543 L299.8,543.7 L300,544.3 L300.2,545 L300.4,545.6 L300.7,546.3 L300.9,546.9 L301.2,547.6 L301.4,548.2 L301.6,548.9 L301.9,549.5 L302.1,550.2 L302.4,550.8 L302.7,551.4 L302.9,552.1 L303.2,552.7 L303.5,553.3 L303.8,553.9 L304,554.5 L304.3,555.2 L304.6,555.8 L304.9,556.4 L305.2,557 L305.5,557.6 L305.8,558.2 L306.1,558.8 L306.4,559.4 L306.8,560 L307.1,560.6 L307.4,561.2 L307.7,561.8 L308.1,562.4 L308.4,563 L308.8,563.6 L309.1,564.2 L309.5,564.7 L309.8,565.3 L310.2,565.9 L310.6,566.5 L310.9,567 L311.3,567.6 L311.7,568.2 L312.1,568.7 L312.4,569.3 L312.8,569.9 L313.2,570.4 L313.6,571 L314,571.5 L314.4,572.1 L314.8,572.6 L315.2,573.2 L315.7,573.7 L316.1,574.2 L316.5,574.8 L316.9,575.3 L317.3,575.8 L317.8,576.4 L318.2,576.9 L318.7,577.4 L319.1,577.9 L319.5,578.5 L320,579 L320.4,579.4 L320.9,579.9 L321.3,580.4 L321.8,581 L322.3,581.5 L322.7,582 L323.2,582.5 L323.7,583 L324.1,583.5 L324.6,584 L325.1,584.5 L325.6,585 L326.1,585.5 L326.6,586 L327.1,586.6 L327.5,587 L328,587.5 L328.5,588 L329,588.4 L329.5,588.9 L330.1,589.3 L330.6,589.8 L331.1,590.2 L331.6,590.6 L332.1,591.1 L332.6,591.5 L333.1,592 L333.7,592.4 L334.2,592.9 L334.7,593.3 L335.3,593.7 L335.8,594.2 L336.3,594.6 L336.9,595 L337.4,595.5 L337.9,596 L338.5,596.5 L339,597 L339.6,597.5 L340.1,597.9 L340.7,598.4 L341.2,598.7 L341.8,599.1 L342.4,599.4 L342.9,599.7 L343.5,600 L344.1,600.4 L344.6,600.7 L345.2,601.2 L345.8,601.6 L346.3,602.1 L346.9,602.6 L347.5,603.1 L348.1,603.6 L348.7,604 L349.2,604.4 L349.8,604.7 L350.4,605.1 L351,605.4 L351.6,605.7 L352.2,606 L352.8,606.3 L353.4,606.7 L354,607.1 L354.6,607.5 L355.2,607.9 L355.8,608.3 L356.4,608.6 L357,609 L357.6,609.4 L358.2,609.8 L358.8,610.2 L359.4,610.5 L360,610.9 L360.6,611.2 L361.3,611.6 L361.9,611.9 L362.5,612.1 L363.1,612.4 L363.7,612.7 L364.4,613.1 L365,613.4 L365.6,613.8 L366.2,614.2 L366.9,614.6 L367.5,615 L368.1,615.3 L368.8,615.7 L369.4,615.9 L370,616.2 L370.7,616.5 L371.3,616.7 L371.9,617 L372.6,617.3 L373.2,617.7 L373.9,618 L374.5,618.3 L375.1,618.6 L375.8,618.9 L376.4,619.2 L377.1,619.5 L377.7,619.9 L378.4,620.2 L379,620.6 L379.7,620.9 L380.3,621.3 L381,621.6 L381.6,621.8 L382.3,622 L382.9,622.1 L383.6,622.3 L384.2,622.5 L384.9,622.7 L385.6,623.1 L386.2,623.4 L386.9,623.8 L387.5,624.3 L388.2,624.6 L388.8,625 L389.5,625.3 L390.2,625.5 L390.8,625.7 L391.5,625.9 L392.2,626 L392.8,626.2 L393.5,626.4 L394.1,626.7 L394.8,626.9 L395.5,627.2 L396.1,627.4 L396.8,627.7 L397.5,628 L398.1,628.4 L398.8,628.7 L399.5,629 L400.1,629.3 L400.8,629.5 L401.5,629.7 L402.1,629.9 L402.8,630.1 L403.5,630.2 L404.1,630.4 L404.8,630.6 L405.5,630.9 L406.1,631.2 L406.8,631.4 L407.5,631.7 L408.1,631.9 L408.8,632.1 L409.5,632.3 L410.1,632.5 L410.8,632.8 L411.5,633 L412.1,633.3 L412.8,633.6 L413.5,633.9 L414.1,634.2 L414.8,634.4 L415.5,634.5 L416.1,634.6 L416.8,634.7 L417.5,634.8 L418.1,634.9 L418.8,635.1 L419.5,635.4 L420.1,635.7 L420.8,636 L421.5,636.3 L422.1,636.6 L422.8,636.9 L423.5,637.1 L424.1,637.2 L424.8,637.4 L425.5,637.5 L426.1,637.6 L426.8,637.8 L427.5,637.9 L428.1,638 L428.8,638.2 L429.5,638.4 L430.1,638.6 L430.8,638.8 L431.5,639.1 L432.1,639.4 L432.8,639.7 L433.5,639.9 L434.1,640.1 L434.8,640.3 L435.5,640.4 L436.1,640.5 L436.8,640.5 L437.5,640.6 L438.1,640.8 L438.8,641 L439.5,641.2 L440.1,641.4 L440.8,641.7 L441.5,641.9 L442.1,642.1 L442.8,642.2 L443.5,642.4 L444.1,642.5 L444.8,642.7 L445.5,642.8 L446.2,643 L446.8,643.2 L447.5,643.4 L448.2,643.5 L448.8,643.6 L449.5,643.7 L450.2,643.8 L450.9,644 L451.5,644.2 L452.2,644.4 L452.9,644.6 L453.6,644.9 L454.2,645.1 L454.9,645.2 L455.6,645.4 L456.3,645.4 L456.9,645.5 L457.6,645.5 L458.3,645.6 L459,645.8 L459.6,645.9 L460.3,646.2 L461,646.4 L461.7,646.6 L462.4,646.8 L463,647 L463.7,647.1 L464.4,647.3 L465.1,647.4 L465.8,647.5 L466.5,647.5 L467.1,647.6 L467.8,647.7 L468.5,647.8 L469.2,647.9 L469.9,648.1 L470.6,648.3 L471.3,648.5 L471.9,648.7 L472.6,648.9 L473.3,649.1 L474,649.3 L474.7,649.4 L475.4,649.5 L476.1,649.5 L476.8,649.5 L477.5,649.6 L478.2,649.7 L478.9,649.8 L479.6,650 L480.2,650.2 L480.9,650.4 L481.6,650.6 L482.3,650.7 L483,650.8 L483.7,650.9 L484.4,651 L485.1,651.2 L485.8,651.3 L486.1,651.4" stroke="#ff901e"/>
<path d="M292.1,526.5 L292,527.1 L292,527.8 L292,528.4 L292,529.1 L291.9,529.7 L291.9,530.4 L292,531.1 L292,531.8 L292,532.5 L292.1,533.2 L292.1,533.9 L292.2,534.6 L292.2,535.3 L292.3,536 L292.4,536.7 L292.5,537.4 L292.6,538.1 L292.7,538.8 L292.9,539.5 L293,540.3 L293.1,541 L293.3,541.7 L293.5,542.4 L293.6,543.1 L293.8,543.8 L294,544.6 L294.2,545.3 L294.4,546 L294.6,546.7 L294.8,547.4 L295,548.1 L295.2,548.8 L295.4,549.5 L295.6,550.2 L295.8,550.9 L295.9,551.6 L296.1,552.3 L296.3,552.9 L296.4,553.6 L296.6,554.3 L296.7,554.9 L296.8,555.6 L296.9,556.2 L297,556.9 L297.1,557.5 L297.2,558.1 L297.4,558.7 L297.5,559.3 L297.7,559.9 L298,560.5 L298.3,561.1 L298.6,561.7 L299,562.2 L299.4,562.7 L300,563.3 L300.5,563.8 L301.2,564.2 L301.8,564.6 L302.5,565 L303.2,565.2 L303.9,565.4 L304.6,565.5 L305.3,565.5 L306,565.4 L306.6,565.3 L307.2,565.2 L307.8,565.2 L308.3,565.4 L308.8,565.6 L309.3,566 L309.7,566.5 L310,567 L310.3,567.5 L310.6,568.2 L310.9,568.8 L311.2,569.5 L311.4,570.2 L311.6,571 L311.8,571.7 L312,572.5 L312.1,573.2 L312.3,574 L312.5,574.7 L312.6,575.5 L312.8,576.2 L313,576.9 L313.1,577.6 L313.3,578.3 L313.4,579 L313.6,579.7 L313.7,580.3 L313.9,581 L314,581.7 L314.2,582.4 L314.3,583 L314.4,583.7 L314.6,584.4 L314.7,585 L314.9,585.7 L315,586.3 L315.2,587 L315.4,587.7 L315.5,588.3 L315.7,589 L315.9,589.7 L316,590.4 L316.2,591 L316.4,591.7 L316.5,592.4 L316.7,593 L316.9,593.7 L317.1,594.4 L317.3,595.1 L317.5,595.7 L317.7,596.4 L317.9,597.1 L318.1,597.8 L318.2,598.5 L318.4,599.1 L318.6,599.8 L318.9,600.5 L319.1,601.1 L319.3,601.8 L319.5,602.5 L319.7,603.1 L319.9,603.8 L320.2,604.8 L320.4,605.4 L320.6,606 L320.9,606.5 L321.1,607.1 L321.4,607.6 L321.7,608.1 L321.9,608.7 L322.2,609.3 L322.5,610 L322.8,610.6 L323.1,611.4 L323.4,612.1 L323.8,612.9 L324.1,613.7 L324.5,614.4 L324.8,615.2 L325.2,615.8 L325.5,616.4 L325.9,616.9 L326.3,617.3 L326.7,617.7 L327.1,618.1 L327.5,618.5 L327.9,619 L328.3,619.6 L328.7,620.2 L329.1,620.9 L329.5,621.6 L330,622.3 L330.4,622.9 L330.9,623.5 L331.3,623.9 L331.8,624.3 L332.2,624.7 L332.7,625 L333.2,625.4 L333.6,625.8 L334.1,626.3 L334.7,626.8 L335.2,627.3 L335.8,627.8 L336.3,628.3 L336.9,628.6 L337.5,628.9 L338,629.2 L338.6,629.4 L339.2,629.8 L339.8,630.2 L340.4,630.9 L341,631.2 L341.5,631.6 L342.1,632 L342.7,632.4 L343.3,632.8 L343.9,633.2 L344.5,633.6 L345.1,633.8 L345.7,634 L346.4,634 L347,634 L347.6,634.3 L348.2,634.8 L348.8,635.4 L349.4,636.3 L350.1,637 L350.7,637.6 L351.3,637.8 L351.9,637.8 L352.6,637.4 L353.2,637.2 L353.8,637.2 L354.4,637.5 L355.1,638 L355.7,638.8 L356.3,639.5 L357,640 L357.6,640.4 L358.3,640.6 L358.9,640.7 L359.5,640.8 L360.2,640.9 L360.8,641 L361.5,641.2 L362.1,641.4 L362.8,641.6 L363.4,641.9 L364.1,642.4 L364.7,642.7 L365.4,643.2 L366,643.6 L366.7,643.8 L367.3,644.1 L368,644.3 L368.6,644.4 L369.3,644.6 L370,644.9 L370.6,645 L371.3,645.1 L371.9,645.2 L372.6,645.3 L373.3,645.6 L373.9,646.1 L374.6,646.7 L375.2,647.3 L375.9,647.8 L376.6,647.9 L377.2,647.8 L377.9,647.6 L378.5,647.4 L379.2,647.4 L379.9,647.9 L380.5,648.5 L381.2,649.1 L381.9,649.7 L382.5,649.8 L383.2,649.9 L383.9,649.8 L384.5,649.8 L385.2,650 L385.9,650.4 L386.5,650.8 L387.2,651.1 L387.9,651.4 L388.5,651.4 L389.2,651.5 L389.9,651.7 L390.5,651.9 L391.2,652.2 L391.9,652.6 L392.5,652.8 L393.2,653 L393.9,653.2 L394.5,653.3 L395.2,653.5 L395.9,653.8 L396.5,654.1 L397.2,654.3 L397.9,654.6 L398.6,654.6 L399.2,654.7 L399.9,654.9 L400.6,655 L401.2,655.3 L401.9,655.7 L402.6,656 L403.2,656.2 L403.9,656.5 L404.6,656.6 L405.2,656.8 L405.9,657.1 L406.6,657.1 L407.3,657.2 L407.9,657.3 L408.6,657.3 L409.3,657.5 L409.9,658 L410.6,658.4 L411.3,658.8 L411.9,659.2 L412.6,659.2 L413.3,659.1 L413.9,659 L414.6,659 L415.3,659.2 L415.9,659.7 L416.6,660.2 L417.3,660.6 L417.9,660.8 L418.6,660.7 L419.3,660.5 L419.9,660.5 L420.6,660.6 L421.3,661.1 L421.9,661.7 L422.6,662.2 L423.2,662.5 L423.9,662.6 L424.6,662.3 L425.2,662.1 L425.9,662.1 L426.6,662.3 L427.2,662.7 L427.9,663.4 L428.5,663.9 L429.2,664.1 L429.8,664.3 L430.5,664.2 L431.2,664.2 L431.8,664.4 L432.5,664.6 L433.1,665 L433.8,665.6 L434.4,666 L435.1,666.3 L435.7,666.5 L436.4,666.6 L437,666.7 L437.7,666.8 L438.3,667.1 L439,667.3 L439.6,668.1 L440.1,668.6" stroke="#5c5cff"/>
<path d="M292.3,533.3 L292.4,534 L292.5,534.8 L292.6,535.5 L292.7,536.3 L292.8,537 L292.9,537.7 L293,538.5 L293.1,539.2 L293.3,539.9 L293.4,540.7 L293.5,541.4 L293.6,542.1 L293.8,542.8 L293.9,543.6 L294,544.3 L294.2,545 L294.3,545.7 L294.4,546.5 L294.6,547.2 L294.7,547.9 L294.9,548.6 L295,549.3 L295.2,550 L295.3,550.7 L295.5,551.4 L295.6,552.1 L295.8,552.8 L295.9,553.6 L296.1,554.3 L296.3,554.9 L296.4,555.6 L296.6,556.3 L296.8,557 L297,557.7 L297.1,558.4 L297.3,559.1 L297.5,559.8 L297.7,560.5 L297.9,561.2 L298.1,561.8 L298.3,562.5 L298.5,563.2 L298.7,563.9 L298.9,564.5 L299.1,565.2 L299.3,565.9 L299.5,566.6 L299.7,567.2 L299.9,567.9 L300.2,568.5 L300.4,569.2 L300.6,569.9 L300.9,570.5 L301.1,571.2 L301.3,571.8 L301.6,572.5 L301.8,573.1 L302.1,573.8 L302.3,574.4 L302.6,575.1 L302.8,575.7 L303.1,576.3 L303.4,577 L303.6,577.6 L303.9,578.2 L304.2,578.9 L304.5,579.5 L304.8,580.1 L305.1,580.7 L305.3,581.4 L305.6,582 L305.9,582.6 L306.2,583.2 L306.6,583.8 L306.9,584.4 L307.2,585.1 L307.5,585.7 L307.8,586.3 L308.2,586.9 L308.5,587.5 L308.8,588.1 L309.2,588.7 L309.5,589.3 L309.9,589.9 L310.2,590.3 L310.6,590.9 L310.9,591.6 L311.3,592.3 L311.7,593 L312.1,593.7 L312.4,594.3 L312.8,594.9 L313.2,595.4 L313.6,595.9 L314,596.3 L314.4,596.8 L314.8,597.2 L315.2,597.7 L315.6,598.2 L316,598.7 L316.4,599.3 L316.8,599.9 L317.3,600.5 L317.7,601.2 L318.1,601.8 L318.5,602.4 L319,603 L319.4,603.5 L319.9,604 L320.3,604.5 L320.7,605 L321.2,605.5 L321.7,605.9 L322.1,606.5 L322.6,607 L323,607.5 L323.5,608 L324,608.5 L324.5,609 L324.9,609.5 L325.4,610 L325.9,610.5 L326.4,611 L326.9,611.6 L327.4,612.1 L327.8,612.7 L328.3,613.2 L328.8,613.7 L329.3,614.2 L329.9,614.6 L330.4,615 L330.9,615.3 L331.4,615.7 L331.9,616.1 L332.4,616.5 L332.9,617 L333.5,617.6 L334,618.1 L334.5,618.7 L335,619.2 L335.6,619.7 L336.1,620.1 L336.6,620.5 L337.2,621 L337.7,621.4 L338.3,621.9 L338.8,622.3 L339.4,622.8 L339.9,623.2 L340.5,623.5 L341,623.8 L341.6,624.1 L342.1,624.4 L342.7,624.7 L343.3,625.1 L343.8,625.6 L344.4,626.2 L345,626.8 L345.5,627.4 L346.1,627.9 L346.7,628.2 L347.3,628.5 L347.8,628.7 L348.4,629 L349,629.3 L349.6,629.7 L350.2,630.1 L350.8,630.6 L351.3,631.1 L351.9,631.6 L352.5,631.9 L353.1,632.1 L353.7,632.3 L354.3,632.4 L354.9,632.7 L355.5,633 L356.1,633.5 L356.7,634.1 L357.3,634.6 L357.9,635.2 L358.5,635.7 L359.2,636 L359.8,636.3 L360.4,636.5 L361,636.7 L361.6,636.9 L362.2,637.1 L362.9,637.3 L363.5,637.6 L364.1,637.8 L364.7,638.2 L365.3,638.6 L366,639 L366.6,639.5 L367.2,639.9 L367.9,640.4 L368.5,640.8 L369.1,641 L369.8,641.3 L370.4,641.5 L371,641.6 L371.7,641.9 L372.3,642.1 L372.9,642.4 L373.6,642.7 L374.2,643 L374.9,643.2 L375.5,643.4 L376.2,643.7 L376.8,644 L377.5,644.5 L378.1,644.9 L378.8,645.4 L379.4,645.8 L380.1,646 L380.7,646.1 L381.4,646.2 L382,646.2 L382.7,646.4 L383.3,646.7 L384,647.1 L384.6,647.6 L385.3,647.9 L385.9,648.2 L386.6,648.3 L387.3,648.4 L387.9,648.5 L388.6,648.7 L389.3,649 L389.9,649.5 L390.6,650 L391.2,650.5 L391.9,650.8 L392.6,651 L393.2,651 L393.9,650.9 L394.6,650.9 L395.2,651 L395.9,651.3 L396.6,651.7 L397.2,652.1 L397.9,652.5 L398.6,652.9 L399.2,653.2 L399.9,653.3 L400.6,653.5 L401.3,653.6 L401.9,653.8 L402.6,653.9 L403.3,654.1 L403.9,654.3 L404.6,654.6 L405.3,654.9 L406,655.2 L406.6,655.5 L407.3,655.7 L408,655.9 L408.6,656 L409.3,656.1 L410,656.2 L410.7,656.4 L411.3,656.7 L412,657 L412.7,657.4 L413.4,657.6 L414,657.8 L414.7,657.9 L415.4,658 L416,658.1 L416.7,658.4 L417.4,658.7 L418.1,659.1 L418.7,659.4 L419.4,659.5 L420.1,659.5 L420.8,659.5 L421.4,659.5 L422.1,659.6 L422.8,659.9 L423.4,660.3 L424.1,660.8 L424.8,661.3 L425.4,661.5 L426.1,661.6 L426.8,661.5 L427.5,661.5 L428.1,661.5 L428.8,661.7 L429.5,662 L430.1,662.4 L430.8,662.8 L431.5,663 L432.1,663.2 L432.8,663.1 L433.5,663.1 L434.1,663.1 L434.8,663.3 L435.4,663.5 L436.1,663.9 L436.8,664.3 L437.4,664.7 L438.1,665 L438.7,665.2 L439.4,665.3 L440.1,665.3 L440.7,665.3 L441.4,665.3 L442,665.3 L442.7,665.4 L443.3,665.6 L444,665.8 L444.6,666.2 L445.3,666.6 L445.9,667 L446.6,667.3 L447.2,667.5 L447.9,667.6 L448.5,667.7 L449.2,667.7 L449.8,667.8 L449.9,667.8" stroke="#2a2a2a"/>
<path d="M292.2,528 L292.3,528.7 L292.4,529.5 L292.5,530.3 L292.6,531 L292.7,531.8 L292.8,532.6 L292.9,533.3 L293,534.1 L293.1,534.9 L293.2,535.6 L293.3,536.4 L293.4,537.1 L293.6,537.9 L293.7,538.6 L293.8,539.3 L294,540.1 L294.1,540.8 L294.2,541.6 L294.4,542.3 L294.5,543 L294.7,543.7 L294.8,544.5 L295,545.2 L295.1,545.9 L295.3,546.6 L295.5,547.3 L295.6,548 L295.8,548.7 L296,549.4 L296.2,550.1 L296.3,550.8 L296.5,551.5 L296.7,552.2 L296.9,552.9 L297.1,553.6 L297.3,554.3 L297.5,555 L297.7,555.7 L297.9,556.4 L298.1,557 L298.3,557.7 L298.5,558.4 L298.8,559 L299,559.7 L299.2,560.4 L299.4,561 L299.7,561.7 L299.9,562.3 L300.1,563 L300.4,563.7 L300.6,564.3 L300.9,564.9 L301.1,565.6 L301.4,566.2 L301.7,566.9 L301.9,567.5 L302.2,568.1 L302.5,568.8 L302.7,569.4 L303,570 L303.3,570.6 L303.6,571.3 L303.9,571.9 L304.2,572.5 L304.5,573.1 L304.8,573.7 L305.1,574.3 L305.4,574.9 L305.7,575.5 L306,576.1 L306.3,576.7 L306.7,577.3 L307,577.9 L307.3,578.5 L307.7,579.1 L308,579.7 L308.3,580.3 L308.7,580.8 L309,581.4 L309.4,582 L309.8,582.6 L310.1,583.1 L310.5,583.7 L310.9,584.3 L311.3,584.8 L311.6,585.4 L312,586 L312.4,586.5 L312.8,587.1 L313.2,587.6 L313.6,588.2 L314,588.7 L314.5,589.2 L314.9,589.8 L315.3,590.3 L315.7,590.9 L316.2,591.4 L316.6,591.9 L317.1,592.4 L317.5,593 L318,593.5 L318.4,594 L318.9,594.5 L319.3,595 L319.8,595.6 L320.3,596.1 L320.7,596.6 L321.2,597.1 L321.7,597.6 L322.2,598.1 L322.7,598.6 L323.1,599.1 L323.6,599.6 L324.1,600.1 L324.6,600.6 L325.1,601 L325.6,601.5 L326.1,602 L326.7,602.5 L327.2,603 L327.7,603.4 L328.2,603.9 L328.7,604.4 L329.2,604.8 L329.8,605.3 L330.3,605.8 L330.8,606.2 L331.4,606.7 L331.9,607.1 L332.4,607.6 L333,608 L333.5,608.5 L334,608.9 L334.6,609.4 L335.1,610.6 L335.7,610.9 L336.2,611.1 L336.8,611.3 L337.3,611.5 L337.9,611.7 L338.4,611.9 L339,612 L339.6,612.3 L340.1,613 L340.7,613.6 L341.2,614.3 L341.8,615 L342.4,615.6 L342.9,616.3 L343.5,616.9 L344.1,617.4 L344.6,617.5 L345.2,617.7 L345.8,617.8 L346.4,617.9 L346.9,618 L347.5,618.2 L348.1,618.3 L348.7,618.8 L349.3,619.5 L349.8,620.1 L350.4,620.8 L351,621.4 L351.6,622.1 L352.2,622.8 L352.8,623.2 L353.4,623.3 L354,623.4 L354.6,623.5 L355.2,623.5 L355.7,623.6 L356.3,623.6 L356.9,623.7 L357.5,624.3 L358.1,624.9 L358.8,625.6 L359.4,626.3 L360,626.9 L360.6,627.6 L361.2,628.2 L361.8,628.5 L362.4,628.5 L363,628.5 L363.6,628.5 L364.2,628.5 L364.8,628.5 L365.5,628.5 L366.1,628.8 L366.7,629.5 L367.3,630.1 L367.9,630.8 L368.6,631.5 L369.2,632.1 L369.8,632.8 L370.4,633.2 L371.1,633.2 L371.7,633.1 L372.3,633.1 L372.9,633 L373.6,632.9 L374.2,632.9 L374.8,633.1 L375.5,633.7 L376.1,634.4 L376.7,635.1 L377.4,635.7 L378,636.4 L378.6,637.1 L379.3,637.4 L379.9,637.3 L380.6,637.2 L381.2,637.1 L381.8,637 L382.5,636.9 L383.1,636.8 L383.8,637.1 L384.4,637.8 L385.1,638.5 L385.7,639.1 L386.4,639.8 L387,640.5 L387.7,641.2 L388.3,641.2 L389,641.1 L389.6,640.9 L390.3,640.8 L390.9,640.6 L391.6,640.4 L392.2,640.3 L392.9,640.9 L393.5,641.6 L394.2,642.3 L394.8,643 L395.5,643.7 L396.2,644.4 L396.8,644.8 L397.5,644.6 L398.1,644.4 L398.8,644.2 L399.5,644 L400.1,643.8 L400.8,643.5 L401.4,643.9 L402.1,644.6 L402.8,645.3 L403.4,646.1 L404.1,646.8 L404.8,647.5 L405.4,648.1 L406.1,647.9 L406.8,647.6 L407.4,647.4 L408.1,647.1 L408.8,646.8 L409.4,646.6 L410.1,646.8 L410.8,647.5 L411.5,648.2 L412.1,648.9 L412.8,649.7 L413.5,650.4 L414.1,651.1 L414.8,650.9 L415.5,650.6 L416.2,650.3 L416.8,650 L417.5,649.7 L418.2,649.4 L418.9,649.4 L419.5,650.2 L420.2,650.9 L420.9,651.7 L421.6,652.4 L422.2,653.2 L422.9,653.9 L423.6,653.7 L424.3,653.4 L424.9,653 L425.6,652.7 L426.3,652.3 L427,651.9 L427.7,652 L428.3,652.8 L429,653.5 L429.7,654.3 L430.4,655 L431,655.8 L431.7,656.6 L432.4,656.3 L433.1,655.9 L433.8,655.5 L434.4,655.2 L435.1,654.8 L435.8,654.4 L436.5,654.4 L437.2,655.2 L437.8,656 L438.5,656.8 L439.2,657.5 L439.9,658.3 L440.6,659.1 L441.2,658.8 L441.9,658.4 L442.6,657.9 L443.3,657.5 L443.9,657.1 L444.6,656.6 L445.3,656.8 L446,657.5 L446.7,658.3 L447.3,659.1 L448,659.9 L448.7,660.7 L449.4,661.5 L450.1,661.1 L450.7,660.7 L451.4,660.2 L452.1,659.8 L452.8,659.3 L453.4,658.8 L454.1,659 L454.8,659.8 L455.5,660.6 L456.2,661.4 L456.8,662.2 L457.5,663 L458.2,663.9 L458.9,663.4 L459.5,662.9 L460.2,662.5 L460.9,662 L461.6,661.5 L462.2,661 L462.9,661.1 L463.6,661.9 L464.3,662.7 L464.9,663.6 L465.6,664.4 L466.3,665.2 L466.9,666.1 L467.6,665.7 L468.3,665.2 L469,664.7 L469.6,664.2 L470.3,663.6 L471,663.1 L471.6,663.1 L472.3,663.9 L473,664.8 L473.6,665.6 L474.3,666.5 L475,667.3 L475.6,668.2 L476.3,668 L477,667.5 L477.6,667 L478.3,666.4 L479,665.9 L479.6,665.3 L480.3,665 L480.9,665.8 L481.6,666.7 L482.3,667.5 L482.9,668.4 L483.6,669.3 L484.2,670.2 L484.9,670.4 L485.5,669.9 L486.2,669.3 L486.7,668.9" stroke="#26cc26"/>
</g>
<path d="M292,488.5 V667.3 H487.5" fill="none" stroke="#2a2a2a" stroke-width="1.35"/>
<path d="M292,521.3h2.6 M292,513h2.6 M292,507.2h2.6 M292,502.6h2.6 M292,498.9h2.6 M292,495.8h2.6 M292,493h2.6 M292,490.6h2.6 M292,568.2h2.6 M292,559.9h2.6 M292,554.1h2.6 M292,549.5h2.6 M292,545.8h2.6 M292,542.7h2.6 M292,539.9h2.6 M292,537.5h2.6 M292,615.1h2.6 M292,606.8h2.6 M292,601h2.6 M292,596.4h2.6 M292,592.7h2.6 M292,589.6h2.6 M292,586.8h2.6 M292,584.4h2.6 M292,662h2.6 M292,653.7h2.6 M292,647.9h2.6 M292,643.3h2.6 M292,639.6h2.6 M292,636.5h2.6 M292,633.7h2.6 M292,631.3h2.6 M299.9,667.3v-2.6 M308,667.3v-2.6 M316.2,667.3v-2.6 M332.5,667.3v-2.6 M340.6,667.3v-2.6 M348.8,667.3v-2.6 M357,667.3v-2.6 M373.3,667.3v-2.6 M381.4,667.3v-2.6 M389.6,667.3v-2.6 M397.8,667.3v-2.6 M414.1,667.3v-2.6 M422.2,667.3v-2.6 M430.4,667.3v-2.6 M438.5,667.3v-2.6 M454.9,667.3v-2.6 M463,667.3v-2.6 M471.2,667.3v-2.6 M479.3,667.3v-2.6" fill="none" stroke="#aaa" stroke-width="0.9"/>
<path d="M292,488.5h4.7 M292,535.4h4.7 M292,582.3h4.7 M292,629.2h4.7 M324.3,667.3v-4.6 M365.1,667.3v-4.6 M405.9,667.3v-4.6 M446.7,667.3v-4.6 M487.5,667.3v-4.6" fill="none" stroke="#444" stroke-width="1.3"/>
<path d="M347,0L259,0L259,560C238,540 210,520 175,499C140,478 109,463 82,453L82,538C131,561 174,589 211,621C248,653 274,685 289,716L347,716Z" transform="translate(274.95,491.20) scale(0.00940,-0.00940)" style="fill:#111;stroke:#111;stroke-width:23.4"/>
<text x="280.17" y="491.20" font-size="9.4" class="tl">0</text>
<text x="285.4" y="488" font-size="6.2" class="tl">8</text>
<path d="M347,0L259,0L259,560C238,540 210,520 175,499C140,478 109,463 82,453L82,538C131,561 174,589 211,621C248,653 274,685 289,716L347,716Z" transform="translate(274.95,538.10) scale(0.00940,-0.00940)" style="fill:#111;stroke:#111;stroke-width:23.4"/>
<text x="280.17" y="538.10" font-size="9.4" class="tl">0</text>
<text x="285.4" y="534.9" font-size="6.2" class="tl">7</text>
<path d="M347,0L259,0L259,560C238,540 210,520 175,499C140,478 109,463 82,453L82,538C131,561 174,589 211,621C248,653 274,685 289,716L347,716Z" transform="translate(274.95,585.00) scale(0.00940,-0.00940)" style="fill:#111;stroke:#111;stroke-width:23.4"/>
<text x="280.17" y="585.00" font-size="9.4" class="tl">0</text>
<text x="285.4" y="581.8" font-size="6.2" class="tl">6</text>
<path d="M347,0L259,0L259,560C238,540 210,520 175,499C140,478 109,463 82,453L82,538C131,561 174,589 211,621C248,653 274,685 289,716L347,716Z" transform="translate(274.95,631.90) scale(0.00940,-0.00940)" style="fill:#111;stroke:#111;stroke-width:23.4"/>
<text x="280.17" y="631.90" font-size="9.4" class="tl">0</text>
<text x="285.4" y="628.7" font-size="6.2" class="tl">5</text>
<path d="M347,0L259,0L259,560C238,540 210,520 175,499C140,478 109,463 82,453L82,538C131,561 174,589 211,621C248,653 274,685 289,716L347,716Z" transform="translate(318.83,676.40) scale(0.00990,-0.00990)" style="fill:#111;stroke:#111;stroke-width:22.2"/>
<text x="324.33" y="676.40" font-size="9.9" class="tl">0</text>
<text x="359.62" y="676.40" font-size="9.9" class="tl">20</text>
<text x="400.41" y="676.40" font-size="9.9" class="tl">30</text>
<text x="441.20" y="676.40" font-size="9.9" class="tl">40</text>
<text x="482.00" y="676.40" font-size="9.9" class="tl">50</text>
<text x="389.8" y="685.1" font-size="8.3" font-weight="bold" text-anchor="middle" class="bl">R [km]</text>
<text transform="translate(274.2,577.9) rotate(-90)" font-size="8.3" font-weight="bold" text-anchor="middle" class="bl">Dust number density [m<tspan font-size="5.15" dy="-3.98">-3</tspan><tspan dy="3.98">]</tspan></text>
<path d="M415,530.2H445.9" stroke="#d42a2a" stroke-width="1.35"/>
<text x="451.90" y="532.80" font-size="7.4" class="lg" font-weight="bold">5°</text>
<path d="M415,538.5H445.9" stroke="#ff901e" stroke-width="1.35"/>
<text x="451.90" y="541.13" font-size="7.4" class="lg" font-weight="bold">45°</text>
<path d="M415,546.9H445.9" stroke="#5c5cff" stroke-width="1.35"/>
<text x="451.90" y="549.46" font-size="7.4" class="lg" font-weight="bold">90°</text>
<path d="M415,555.2H445.9" stroke="#2a2a2a" stroke-width="1.35"/>
<path d="M387,0L250,0L250,516C200,469 141,434 73,411L73,535C109,547 148,569 190,601C232,634 261,672 276,716L387,716Z" transform="translate(451.90,557.79) scale(0.00740,-0.00740)" style="fill:#111;stroke:#111;stroke-width:54.1"/>
<text x="456.01" y="557.79" font-size="7.4" class="lg" font-weight="bold">35°</text>
<path d="M415,563.5H445.9" stroke="#26cc26" stroke-width="1.35"/>
<path d="M387,0L250,0L250,516C200,469 141,434 73,411L73,535C109,547 148,569 190,601C232,634 261,672 276,716L387,716Z" transform="translate(451.90,566.12) scale(0.00740,-0.00740)" style="fill:#111;stroke:#111;stroke-width:54.1"/>
<text x="456.01" y="566.12" font-size="7.4" class="lg" font-weight="bold">75°</text>
<text x="388.6" y="710.4" font-size="13.0" font-family="Liberation Serif, serif" text-anchor="middle" class="cp">(f)</text>
<clipPath id="cpg"><rect x="30.4" y="725.1" width="196.5" height="179.1"/></clipPath>
<g clip-path="url(#cpg)" fill="none" stroke-width="1.35" stroke-linejoin="round">
<path d="M34.1,726.2 L34.2,726.8 L34.4,727.4 L34.5,727.9 L34.6,728.5 L34.8,729.1 L34.9,729.7 L35.1,730.3 L35.3,730.9 L35.4,731.5 L35.6,732.1 L35.8,732.7 L35.9,733.3 L36.1,733.9 L36.3,734.5 L36.5,735.1 L36.7,735.8 L36.9,736.4 L37.1,737 L37.3,737.7 L37.5,738.3 L37.8,739 L38,739.6 L38.2,740.3 L38.5,741 L38.7,741.6 L39,742.3 L39.2,743 L39.5,743.7 L39.8,744.4 L40.1,745 L40.4,745.7 L40.7,746.4 L41,747.1 L41.3,747.8 L41.6,748.6 L42,749.3 L42.3,750 L42.6,750.7 L43,751.4 L43.4,752.2 L43.8,752.9 L44.2,753.7 L44.6,754.4 L45,755.1 L45.4,755.9 L45.8,756.7 L46.3,757.4 L46.7,758.2 L47.2,758.9 L47.7,759.7 L48.2,760.5 L48.7,761.3 L49.2,762.1 L49.8,762.8 L50.3,763.6 L50.9,764.4 L51.5,765.2 L52.1,766 L52.7,766.8 L53.3,767.6 L54,768.4 L54.6,769.3 L55.3,770.1 L56,770.9 L56.7,771.7 L57.5,772.6 L58.2,773.4 L59,774.2 L59.8,775.1 L60.6,775.9 L61.5,776.7 L62.4,777.6 L63.2,778.5 L64.2,779.3 L65.1,780.2 L66.1,781 L67.1,781.9 L68.1,782.8 L69.1,783.6 L70.2,784.5 L71.3,785.4 L72.4,786.3 L73.6,787.1 L74.8,788 L76,788.9 L77.3,789.8 L78.6,790.7 L79.9,791.6 L81.3,792.5 L82.7,793.4 L84.1,794.3 L85.6,795.2 L87.1,796.2 L88.6,797.1 L90.2,798 L91.9,798.9 L93.6,799.8 L95.3,800.8 L97.1,801.7 L98.9,802.6 L100.8,803.6 L102.7,804.5 L104.7,805.4 L106.7,806.4 L108.8,807.3 L110.9,808.3 L113.1,809.2 L115.4,810.2 L117.7,811.1 L120.1,812.1 L122.5,813 L125,814 L127.6,815 L130.3,815.9 L133,816.9 L135.8,817.9 L138.6,818.9 L141.6,819.8 L144.6,820.8 L147.7,821.8 L150.9,822.8 L154.2,823.8 L157.5,824.8 L161,825.7 L164.5,826.7 L168.2,827.7 L171.9,828.7 L175.7,829.7 L179.7,830.7 L183.7,831.7 L187.9,832.7 L192.1,833.7 L196.5,834.8 L201,835.8 L205.6,836.8 L210.4,837.8 L215.3,838.8 L220.3,839.8 L225.4,840.8" stroke="#d42a2a"/>
<path d="M32.3,726.2 L32.4,726.8 L32.5,727.4 L32.6,728 L32.7,728.6 L32.8,729.2 L32.9,729.8 L33,730.4 L33.1,731.1 L33.3,731.7 L33.4,732.3 L33.5,733 L33.6,733.6 L33.8,734.3 L33.9,734.9 L34.1,735.6 L34.2,736.2 L34.4,736.9 L34.5,737.6 L34.7,738.3 L34.8,738.9 L35,739.6 L35.2,740.3 L35.4,741 L35.6,741.7 L35.7,742.4 L35.9,743.2 L36.1,743.9 L36.4,744.6 L36.6,745.3 L36.8,746.1 L37,746.8 L37.3,747.6 L37.5,748.3 L37.8,749.1 L38,749.8 L38.3,750.6 L38.6,751.3 L38.8,752.1 L39.1,752.9 L39.4,753.7 L39.7,754.5 L40.1,755.3 L40.4,756.1 L40.7,756.9 L41.1,757.7 L41.4,758.5 L41.8,759.3 L42.2,760.1 L42.6,760.9 L43,761.8 L43.4,762.6 L43.8,763.4 L44.3,764.3 L44.7,765.1 L45.2,766 L45.7,766.8 L46.2,767.7 L46.7,768.6 L47.2,769.4 L47.8,770.3 L48.4,771.2 L48.9,772.1 L49.5,773 L50.2,773.9 L50.8,774.7 L51.4,775.6 L52.1,776.6 L52.8,777.5 L53.5,778.4 L54.3,779.3 L55,780.2 L55.8,781.1 L56.6,782.1 L57.4,783 L58.3,784 L59.2,784.9 L60.1,785.8 L61,786.8 L62,787.8 L63,788.7 L64,789.7 L65,790.6 L66.1,791.6 L67.2,792.6 L68.4,793.6 L69.6,794.6 L70.8,795.6 L72.1,796.5 L73.4,797.5 L74.7,798.5 L76.1,799.5 L77.5,800.6 L79,801.6 L80.5,802.6 L82,803.6 L83.6,804.6 L85.3,805.7 L87,806.7 L88.7,807.7 L90.5,808.8 L92.4,809.8 L94.3,810.9 L96.3,811.9 L98.3,813 L100.4,814 L102.5,815.1 L104.8,816.2 L107,817.2 L109.4,818.3 L111.8,819.4 L114.3,820.5 L116.9,821.6 L119.6,822.6 L122.3,823.7 L125.1,824.8 L128,825.9 L131,827 L134.1,828.1 L137.3,829.3 L140.5,830.4 L143.9,831.5 L147.4,832.6 L151,833.7 L154.6,834.9 L158.4,836 L162.3,837.1 L166.4,838.3 L170.5,839.4 L174.8,840.6 L179.2,841.7 L183.8,842.9 L188.4,844 L193.3,845.2 L198.2,846.3 L203.3,847.5 L208.6,848.7 L214,849.9 L219.6,851 L225.4,852.2" stroke="#ff901e"/>
<path d="M31,736.2 L31.1,736.6 L31.1,737.1 L31.2,737.5 L31.3,737.9 L31.3,738.4 L31.4,738.8 L31.5,739.3 L31.6,739.8 L31.6,740.3 L31.7,740.8 L31.8,741.3 L31.9,741.8 L32,742.3 L32.1,742.9 L32.2,743.4 L32.3,744 L32.4,744.5 L32.5,745.1 L32.6,745.7 L32.7,746.3 L32.9,746.9 L33,747.6 L33.1,748.2 L33.3,748.8 L33.4,749.5 L33.5,750.2 L33.7,750.9 L33.8,751.5 L34,752.2 L34.2,753 L34.3,753.7 L34.5,754.4 L34.7,755.2 L34.9,755.9 L35.1,756.7 L35.3,757.5 L35.5,758.3 L35.7,759.1 L35.9,759.9 L36.2,760.7 L36.4,761.6 L36.6,762.4 L36.9,763.3 L37.2,764.2 L37.4,765.1 L37.7,766 L38,766.9 L38.3,767.8 L38.6,768.7 L39,769.7 L39.3,770.6 L39.6,771.6 L40,772.6 L40.4,773.6 L40.7,774.6 L41.1,775.6 L41.6,776.7 L42,777.7 L42.4,778.7 L42.9,779.8 L43.3,780.8 L43.8,781.9 L44.3,782.9 L44.8,784 L45.4,785.1 L45.9,786.1 L46.5,787.2 L47.1,788.3 L47.7,789.4 L48.4,790.4 L49,791.5 L49.7,792.5 L50.4,793.6 L51.1,794.7 L51.9,795.7 L52.6,796.7 L53.5,797.8 L54.3,798.8 L55.1,799.8 L56,800.8 L57,801.8 L57.9,802.8 L58.9,803.8 L59.9,804.8 L61,805.8 L62.1,806.8 L63.2,807.8 L64.3,808.8 L65.5,809.8 L66.8,810.8 L68.1,811.8 L69.4,812.9 L70.8,813.9 L72.2,814.9 L73.7,816 L75.2,817 L76.8,818.1 L78.4,819.2 L80.1,820.3 L81.9,821.4 L83.7,822.5 L85.5,823.6 L87.5,824.7 L89.5,825.9 L91.5,827 L93.7,828.2 L95.9,829.3 L98.2,830.5 L100.5,831.7 L103,832.9 L105.5,834.1 L108.1,835.3 L110.9,836.6 L113.7,837.8 L116.5,839.1 L119.5,840.4 L122.6,841.6 L125.8,842.9 L129.2,844.2 L132.6,845.6 L136.1,846.9 L139.8,848.2 L143.6,849.5 L147.5,850.8 L151.6,852.1 L155.8,853.4 L160.1,854.7 L164.6,856 L169.2,857.3 L174,858.6 L179,859.8 L184.2,861 L189.5,862.3 L195,863.4 L200.6,864.6 L206.5,865.7 L212.6,866.8 L218.9,867.9 L225.4,869" stroke="#5c5cff"/>
<path d="M31,736.2 L31.1,736.6 L31.1,737.1 L31.2,737.5 L31.3,738 L31.3,738.4 L31.4,738.9 L31.5,739.4 L31.6,739.8 L31.6,740.3 L31.7,740.8 L31.8,741.4 L31.9,741.9 L32,742.4 L32.1,742.9 L32.2,743.5 L32.3,744 L32.4,744.6 L32.5,745.2 L32.6,745.8 L32.7,746.4 L32.9,747 L33,747.6 L33.1,748.2 L33.3,748.9 L33.4,749.5 L33.5,750.2 L33.7,750.8 L33.8,751.5 L34,752.2 L34.2,752.9 L34.3,753.6 L34.5,754.4 L34.7,755.1 L34.9,755.9 L35.1,756.6 L35.3,757.4 L35.5,758.2 L35.7,759 L35.9,759.8 L36.2,760.6 L36.4,761.5 L36.6,762.3 L36.9,763.2 L37.2,764.1 L37.4,765 L37.7,765.9 L38,766.8 L38.3,767.7 L38.6,768.7 L39,769.6 L39.3,770.6 L39.6,771.6 L40,772.6 L40.4,773.6 L40.7,774.7 L41.1,775.7 L41.6,776.7 L42,777.8 L42.4,778.9 L42.9,779.9 L43.3,781 L43.8,782.1 L44.3,783.2 L44.8,784.2 L45.4,785.3 L45.9,786.4 L46.5,787.4 L47.1,788.5 L47.7,789.6 L48.4,790.6 L49,791.7 L49.7,792.7 L50.4,793.7 L51.1,794.7 L51.9,795.8 L52.6,796.8 L53.5,797.8 L54.3,798.8 L55.1,799.8 L56,800.8 L57,801.8 L57.9,802.8 L58.9,803.8 L59.9,804.7 L61,805.7 L62.1,806.7 L63.2,807.7 L64.3,808.7 L65.5,809.7 L66.8,810.8 L68.1,811.8 L69.4,812.8 L70.8,813.8 L72.2,814.9 L73.7,815.9 L75.2,816.9 L76.8,818 L78.4,819.1 L80.1,820.2 L81.9,821.2 L83.7,822.3 L85.5,823.5 L87.5,824.6 L89.5,825.7 L91.5,826.9 L93.7,828 L95.9,829.2 L98.2,830.4 L100.5,831.6 L103,832.9 L105.5,834.1 L108.1,835.4 L110.9,836.7 L113.7,838 L116.5,839.2 L119.5,840.5 L122.6,841.8 L125.8,843.2 L129.2,844.5 L132.6,845.8 L136.1,847.1 L139.8,848.4 L143.6,849.6 L147.5,850.9 L151.6,852.2 L155.8,853.4 L160.1,854.6 L164.6,855.8 L169.2,856.9 L174,858 L179,859.1 L184.2,860.2 L189.5,861.1 L195,862.1 L200.6,863 L206.5,863.8 L212.6,864.6 L218.9,865.3 L225.4,866" stroke="#26cc26"/>
</g>
<path d="M30.4,725.7 V904.2 H225.9" fill="none" stroke="#2a2a2a" stroke-width="1.35"/>
<path d="M30.4,756.9h2.6 M30.4,749h2.6 M30.4,743.4h2.6 M30.4,739.1h2.6 M30.4,735.6h2.6 M30.4,732.6h2.6 M30.4,730h2.6 M30.4,727.7h2.6 M30.4,801.5h2.6 M30.4,793.6h2.6 M30.4,788h2.6 M30.4,783.7h2.6 M30.4,780.2h2.6 M30.4,777.2h2.6 M30.4,774.6h2.6 M30.4,772.3h2.6 M30.4,846.1h2.6 M30.4,838.2h2.6 M30.4,832.6h2.6 M30.4,828.3h2.6 M30.4,824.8h2.6 M30.4,821.8h2.6 M30.4,819.2h2.6 M30.4,816.9h2.6 M30.4,890.7h2.6 M30.4,882.8h2.6 M30.4,877.2h2.6 M30.4,872.9h2.6 M30.4,869.4h2.6 M30.4,866.4h2.6 M30.4,863.8h2.6 M30.4,861.5h2.6 M37.8,904.2v-2.6 M46,904.2v-2.6 M54.1,904.2v-2.6 M70.5,904.2v-2.6 M78.7,904.2v-2.6 M86.9,904.2v-2.6 M95,904.2v-2.6 M111.4,904.2v-2.6 M119.6,904.2v-2.6 M127.8,904.2v-2.6 M135.9,904.2v-2.6 M152.3,904.2v-2.6 M160.5,904.2v-2.6 M168.6,904.2v-2.6 M176.8,904.2v-2.6 M193.2,904.2v-2.6 M201.4,904.2v-2.6 M209.5,904.2v-2.6 M217.7,904.2v-2.6" fill="none" stroke="#aaa" stroke-width="0.9"/>
<path d="M30.4,725.7h4.7 M30.4,770.3h4.7 M30.4,814.9h4.7 M30.4,859.5h4.7 M30.4,904.1h4.7 M62.3,904.2v-4.6 M103.2,904.2v-4.6 M144.1,904.2v-4.6 M185,904.2v-4.6 M225.9,904.2v-4.6" fill="none" stroke="#444" stroke-width="1.3"/>
<path d="M347,0L259,0L259,560C238,540 210,520 175,499C140,478 109,463 82,453L82,538C131,561 174,589 211,621C248,653 274,685 289,716L347,716Z" transform="translate(13.95,728.40) scale(0.00940,-0.00940)" style="fill:#111;stroke:#111;stroke-width:23.4"/>
<text x="19.17" y="728.40" font-size="9.4" class="tl">0</text>
<text x="24.4" y="725.2" font-size="6.2" class="tl">7</text>
<path d="M347,0L259,0L259,560C238,540 210,520 175,499C140,478 109,463 82,453L82,538C131,561 174,589 211,621C248,653 274,685 289,716L347,716Z" transform="translate(13.95,773.00) scale(0.00940,-0.00940)" style="fill:#111;stroke:#111;stroke-width:23.4"/>
<text x="19.17" y="773.00" font-size="9.4" class="tl">0</text>
<text x="24.4" y="769.8" font-size="6.2" class="tl">6</text>
<path d="M347,0L259,0L259,560C238,540 210,520 175,499C140,478 109,463 82,453L82,538C131,561 174,589 211,621C248,653 274,685 289,716L347,716Z" transform="translate(13.95,817.60) scale(0.00940,-0.00940)" style="fill:#111;stroke:#111;stroke-width:23.4"/>
<text x="19.17" y="817.60" font-size="9.4" class="tl">0</text>
<text x="24.4" y="814.4" font-size="6.2" class="tl">5</text>
<path d="M347,0L259,0L259,560C238,540 210,520 175,499C140,478 109,463 82,453L82,538C131,561 174,589 211,621C248,653 274,685 289,716L347,716Z" transform="translate(13.95,862.20) scale(0.00940,-0.00940)" style="fill:#111;stroke:#111;stroke-width:23.4"/>
<text x="19.17" y="862.20" font-size="9.4" class="tl">0</text>
<text x="24.4" y="859" font-size="6.2" class="tl">4</text>
<path d="M347,0L259,0L259,560C238,540 210,520 175,499C140,478 109,463 82,453L82,538C131,561 174,589 211,621C248,653 274,685 289,716L347,716Z" transform="translate(13.95,906.80) scale(0.00940,-0.00940)" style="fill:#111;stroke:#111;stroke-width:23.4"/>
<text x="19.17" y="906.80" font-size="9.4" class="tl">0</text>
<text x="24.4" y="903.6" font-size="6.2" class="tl">3</text>
<path d="M347,0L259,0L259,560C238,540 210,520 175,499C140,478 109,463 82,453L82,538C131,561 174,589 211,621C248,653 274,685 289,716L347,716Z" transform="translate(56.81,913.30) scale(0.00990,-0.00990)" style="fill:#111;stroke:#111;stroke-width:22.2"/>
<text x="62.32" y="913.30" font-size="9.9" class="tl">0</text>
<text x="97.71" y="913.30" font-size="9.9" class="tl">20</text>
<text x="138.60" y="913.30" font-size="9.9" class="tl">30</text>
<text x="179.50" y="913.30" font-size="9.9" class="tl">40</text>
<text x="220.40" y="913.30" font-size="9.9" class="tl">50</text>
<text x="128.2" y="923.4" font-size="9.2" font-weight="bold" text-anchor="middle" class="bl">R [km]</text>
<text transform="translate(9.7,815.6) rotate(-90)" font-size="9.3" font-weight="bold" text-anchor="middle" class="bl">Dust number density [m<tspan font-size="5.77" dy="-4.46">-3</tspan><tspan dy="4.46">]</tspan></text>
<path d="M155.2,772.8H187" stroke="#d42a2a" stroke-width="1.35"/>
<text x="192.20" y="775.40" font-size="7.4" class="lg" font-weight="bold">5°</text>
<path d="M155.2,781.2H187" stroke="#ff901e" stroke-width="1.35"/>
<text x="192.20" y="783.78" font-size="7.4" class="lg" font-weight="bold">45°</text>
<path d="M155.2,789.6H187" stroke="#5c5cff" stroke-width="1.35"/>
<text x="192.20" y="792.16" font-size="7.4" class="lg" font-weight="bold">90°</text>
<path d="M155.2,797.9H187" stroke="#2a2a2a" stroke-width="1.35"/>
<path d="M387,0L250,0L250,516C200,469 141,434 73,411L73,535C109,547 148,569 190,601C232,634 261,672 276,716L387,716Z" transform="translate(192.20,800.54) scale(0.00740,-0.00740)" style="fill:#111;stroke:#111;stroke-width:54.1"/>
<text x="196.31" y="800.54" font-size="7.4" class="lg" font-weight="bold">35°</text>
<path d="M155.2,806.3H187" stroke="#26cc26" stroke-width="1.35"/>
<path d="M387,0L250,0L250,516C200,469 141,434 73,411L73,535C109,547 148,569 190,601C232,634 261,672 276,716L387,716Z" transform="translate(192.20,808.92) scale(0.00740,-0.00740)" style="fill:#111;stroke:#111;stroke-width:54.1"/>
<text x="196.31" y="808.92" font-size="7.4" class="lg" font-weight="bold">75°</text>
<text x="127" y="943.2" font-size="13.0" font-family="Liberation Serif, serif" text-anchor="middle" class="cp">(g)</text>
<clipPath id="cph"><rect x="292" y="725.1" width="196.5" height="179.1"/></clipPath>
<g clip-path="url(#cph)" fill="none" stroke-width="1.35" stroke-linejoin="round">
<path d="M292.1,724.8 L292.1,725.6 L292,726.3 L292,727.1 L292,727.9 L292.1,728.6 L292.1,729.4 L292.1,730.2 L292.1,730.9 L292.2,731.7 L292.2,732.4 L292.3,733.2 L292.4,733.9 L292.4,734.7 L292.5,735.4 L292.6,736.2 L292.7,736.9 L292.8,737.7 L292.9,738.4 L293,739.2 L293.1,739.9 L293.3,740.6 L293.4,741.4 L293.5,742.1 L293.6,742.8 L293.8,743.6 L293.9,744.3 L294.1,745 L294.2,745.7 L294.4,746.4 L294.5,747.2 L294.7,747.9 L294.8,748.6 L295,749.3 L295.2,750 L295.3,750.7 L295.5,751.4 L295.7,752.1 L295.8,752.8 L296,753.5 L296.1,754.2 L296.3,754.9 L296.5,755.6 L296.6,756.3 L296.8,757 L297,757.7 L297.2,758.4 L297.3,759.1 L297.5,759.8 L297.7,760.4 L297.8,761.1 L298,761.8 L298.2,762.5 L298.4,763.1 L298.6,763.8 L298.7,764.5 L298.9,765.2 L299.1,765.8 L299.3,766.5 L299.5,767.1 L299.7,767.8 L299.9,768.5 L300.1,769.1 L300.3,769.8 L300.5,770.4 L300.7,771.1 L300.9,771.7 L301.2,772.3 L301.4,773 L301.6,773.6 L301.9,774.3 L302.1,774.9 L302.4,775.5 L302.6,776.2 L302.9,776.8 L303.1,777.4 L303.4,778 L303.7,778.7 L303.9,779.3 L304.2,779.9 L304.5,780.5 L304.8,781.1 L305.1,781.7 L305.4,782.3 L305.7,783 L306,783.6 L306.4,784.2 L306.7,784.8 L307,785.4 L307.3,785.9 L307.7,786.5 L308,787.1 L308.4,787.7 L308.7,788.3 L309.1,788.9 L309.4,789.5 L309.8,790 L310.2,790.6 L310.6,791.2 L310.9,791.8 L311.3,792.3 L311.7,792.9 L312.1,793.5 L312.5,794 L312.9,794.6 L313.3,795.2 L313.7,795.7 L314.1,796.3 L314.5,796.8 L315,797.4 L315.4,797.9 L315.8,798.4 L316.2,799 L316.7,799.5 L317.1,800.1 L317.5,800.6 L318,801.1 L318.4,801.7 L318.9,802.2 L319.3,802.7 L319.8,803.2 L320.3,803.7 L320.7,804.3 L321.2,804.8 L321.7,805.3 L322.1,805.8 L322.6,806.3 L323.1,806.8 L323.6,807.3 L324.1,807.8 L324.6,808.3 L325.1,808.8 L325.6,809.3 L326.1,809.8 L326.6,810.3 L327.1,810.8 L327.6,811.2 L328.1,811.7 L328.6,812.2 L329.1,812.7 L329.6,813.1 L330.1,813.5 L330.6,814 L331.2,814.5 L331.7,815 L332.2,815.5 L332.7,815.9 L333.3,816.4 L333.8,816.8 L334.3,817.3 L334.9,817.7 L335.4,818.2 L336,818.6 L336.5,819 L337,819.5 L337.6,819.9 L338.1,820.3 L338.7,820.7 L339.2,821.2 L339.8,821.6 L340.3,822 L340.9,822.4 L341.5,822.8 L342,823.2 L342.6,823.7 L343.1,824.1 L343.7,824.5 L344.3,824.9 L344.8,825.3 L345.4,825.7 L346,826.1 L346.6,826.5 L347.1,826.9 L347.7,827.3 L348.3,827.7 L348.9,828 L349.5,828.4 L350,828.8 L350.6,829.1 L351.2,829.5 L351.8,829.9 L352.4,830.2 L353,830.6 L353.6,831 L354.2,831.3 L354.8,831.7 L355.3,832.1 L355.9,832.5 L356.5,832.8 L357.1,833.2 L357.7,833.5 L358.4,833.8 L359,834.2 L359.6,834.5 L360.2,834.8 L360.8,835.2 L361.4,835.5 L362,835.8 L362.6,836.2 L363.2,836.5 L363.8,836.9 L364.5,837.2 L365.1,837.5 L365.7,837.9 L366.3,838.2 L366.9,838.5 L367.6,838.8 L368.2,839.1 L368.8,839.4 L369.4,839.7 L370.1,840 L370.7,840.3 L371.3,840.6 L372,840.9 L372.6,841.2 L373.2,841.5 L373.9,841.8 L374.5,842.1 L375.1,842.4 L375.8,842.7 L376.4,843 L377,843.3 L377.7,843.6 L378.3,843.8 L379,844.1 L379.6,844.4 L380.3,844.7 L380.9,845 L381.6,845.2 L382.2,845.5 L382.9,845.8 L383.5,846 L384.2,846.3 L384.8,846.5 L385.5,846.8 L386.1,847.1 L386.8,847.4 L387.4,847.6 L388.1,847.9 L388.7,848.2 L389.4,848.4 L390,848.7 L390.7,848.9 L391.4,849.1 L392,849.3 L392.7,849.6 L393.4,849.8 L394,850 L394.7,850.3 L395.3,850.6 L396,850.8 L396.7,851.1 L397.3,851.4 L398,851.6 L398.7,851.8 L399.3,852 L400,852.2 L400.7,852.4 L401.4,852.6 L402,852.8 L402.7,853.1 L403.4,853.3 L404,853.5 L404.7,853.8 L405.4,854 L406.1,854.3 L406.7,854.5 L407.4,854.7 L408.1,854.9 L408.8,855.1 L409.4,855.3 L410.1,855.5 L410.8,855.7 L411.5,855.9 L412.2,856.1 L412.8,856.3 L413.5,856.5 L414.2,856.7 L414.9,856.9 L415.6,857.1 L416.2,857.3 L416.9,857.5 L417.6,857.7 L418.3,857.9 L419,858.1 L419.6,858.3 L420.3,858.5 L421,858.7 L421.7,858.8 L422.4,859 L423.1,859.2 L423.7,859.4 L424.4,859.6 L425.1,859.7 L425.8,859.9 L426.5,860.1 L427.2,860.3 L427.9,860.5 L428.5,860.7 L429.2,860.9 L429.9,861.1 L430.6,861.2 L431.3,861.4 L432,861.5 L432.7,861.7 L433.3,861.8 L434,862 L434.7,862.2 L435.4,862.3 L436.1,862.5 L436.8,862.8 L437.5,863 L438.1,863.2 L438.8,863.3 L439.5,863.5 L440.2,863.6 L440.9,863.7 L441.6,863.9 L442.3,864 L443,864.1 L443.6,864.2 L444.3,864.4 L445,864.6 L445.7,864.8 L446.4,865 L447.1,865.3 L447.8,865.4 L448.4,865.6 L449.1,865.7 L449.8,865.8 L450.5,865.9 L451.2,866 L451.9,866.1 L452.5,866.2 L453.2,866.4 L453.9,866.5 L454.6,866.7 L455.3,867 L456,867.2 L456.6,867.4 L457.3,867.6 L458,867.7 L458.7,867.8 L459.4,867.9 L460,868 L460.7,868 L461.4,868.1 L462.1,868.2 L462.8,868.4 L463.4,868.6 L464.1,868.8 L464.8,869.1 L465.5,869.3 L466.1,869.5 L466.8,869.6 L467.5,869.7 L468.2,869.8 L468.8,869.9 L469.5,869.9 L470.2,870 L470.9,870.1 L471.5,870.2 L472.2,870.4 L472.9,870.6 L473.5,870.8 L474.2,871 L474.9,871.3 L475.5,871.4 L476.2,871.6 L476.9,871.6 L477.5,871.7 L478.2,871.7 L478.9,871.8 L479.5,871.9 L480.2,872 L480.9,872.1 L481.5,872.3 L482.2,872.6 L482.8,872.8 L483.5,873 L484.2,873.2 L484.8,873.3 L485.5,873.4 L486.1,873.5 L486.8,873.5 L487.1,873.6" stroke="#d42a2a"/>
<path d="M292.8,739.3 L292.8,740.1 L292.9,740.8 L293,741.6 L293,742.3 L293.1,743.1 L293.2,743.8 L293.3,744.6 L293.3,745.3 L293.4,746.1 L293.5,746.8 L293.6,747.5 L293.7,748.3 L293.8,749 L293.9,749.7 L294,750.5 L294.1,751.2 L294.2,751.9 L294.3,752.7 L294.4,753.4 L294.5,754.1 L294.6,754.8 L294.7,755.5 L294.8,756.3 L295,757 L295.1,757.7 L295.2,758.4 L295.4,759.1 L295.5,759.8 L295.6,760.5 L295.8,761.3 L295.9,762 L296.1,762.7 L296.2,763.4 L296.4,764.1 L296.5,764.8 L296.7,765.5 L296.9,766.2 L297,766.9 L297.2,767.5 L297.4,768.2 L297.6,768.9 L297.7,769.6 L297.9,770.3 L298.1,771 L298.3,771.7 L298.5,772.3 L298.7,773 L298.9,773.7 L299.1,774.4 L299.3,775 L299.5,775.7 L299.7,776.4 L300,777 L300.2,777.7 L300.4,778.4 L300.6,779 L300.9,779.7 L301.1,780.3 L301.3,781 L301.6,781.6 L301.8,782.3 L302.1,782.9 L302.3,783.6 L302.6,784.2 L302.9,784.9 L303.1,785.5 L303.4,786.2 L303.7,786.8 L303.9,787.4 L304.2,788.1 L304.5,788.7 L304.8,789.3 L305.1,789.9 L305.4,790.6 L305.7,791.2 L306,791.8 L306.3,792.4 L306.6,793 L306.9,793.6 L307.2,794.3 L307.6,794.9 L307.9,795.5 L308.2,796.1 L308.6,796.7 L308.9,797.3 L309.2,797.9 L309.6,798.5 L309.9,799.1 L310.3,799.6 L310.6,800.2 L311,800.8 L311.3,801.4 L311.7,802 L312.1,802.6 L312.4,803.1 L312.8,803.7 L313.2,804.3 L313.6,804.8 L314,805.4 L314.4,806 L314.8,806.5 L315.2,807.1 L315.5,807.7 L316,808.2 L316.4,808.8 L316.8,809.3 L317.2,809.9 L317.6,810.4 L318,810.9 L318.4,811.5 L318.9,812 L319.3,812.5 L319.7,813.1 L320.2,813.6 L320.6,814.1 L321,814.7 L321.5,815.2 L321.9,815.7 L322.4,816.2 L322.8,816.7 L323.3,817.2 L323.8,817.7 L324.2,818.3 L324.7,818.8 L325.2,819.3 L325.6,819.8 L326.1,820.2 L326.6,820.7 L327.1,821.2 L327.6,821.7 L328,822.2 L328.5,822.7 L329,823.2 L329.5,823.6 L330,824.1 L330.5,824.6 L331,825 L331.5,825.5 L332.1,826 L332.6,826.4 L333.1,826.9 L333.6,827.3 L334.1,827.8 L334.7,828.2 L335.2,828.7 L335.7,829.1 L336.3,829.6 L336.8,830 L337.3,830.4 L337.9,830.9 L338.4,831.3 L339,831.7 L339.5,832.1 L340.1,832.5 L340.6,833 L341.2,833.4 L341.7,833.8 L342.3,834.2 L342.9,834.6 L343.4,835 L344,835.4 L344.6,835.8 L345.2,836.2 L345.7,836.6 L346.3,837 L346.9,837.4 L347.5,837.7 L348.1,838.1 L348.7,838.5 L349.2,838.9 L349.8,839.3 L350.4,839.6 L351,840 L351.6,840.4 L352.2,840.7 L352.8,841.1 L353.4,841.5 L354,841.8 L354.6,842.2 L355.3,842.5 L355.9,842.9 L356.5,843.2 L357.1,843.6 L357.7,843.9 L358.3,844.2 L358.9,844.6 L359.6,844.9 L360.2,845.2 L360.8,845.6 L361.4,845.9 L362.1,846.2 L362.7,846.6 L363.3,846.9 L364,847.2 L364.6,847.5 L365.2,847.8 L365.9,848.1 L366.5,848.5 L367.2,848.8 L367.8,849.1 L368.4,849.4 L369.1,849.7 L369.7,850 L370.4,850.3 L371,850.6 L371.7,850.9 L372.3,851.2 L373,851.5 L373.6,851.7 L374.3,852 L374.9,852.3 L375.6,852.6 L376.2,852.9 L376.9,853.2 L377.5,853.4 L378.2,853.7 L378.9,854 L379.5,854.3 L380.2,854.5 L380.8,854.8 L381.5,855.1 L382.2,855.3 L382.8,855.6 L383.5,855.9 L384.2,856.1 L384.8,856.4 L385.5,856.6 L386.2,856.9 L386.8,857.1 L387.5,857.4 L388.2,857.6 L388.8,857.9 L389.5,858.1 L390.2,858.4 L390.8,858.6 L391.5,858.9 L392.2,859.1 L392.8,859.3 L393.5,859.6 L394.2,859.8 L394.9,860 L395.5,860.3 L396.2,860.5 L396.9,860.7 L397.5,861 L398.2,861.2 L398.9,861.4 L399.6,861.6 L400.2,861.8 L400.9,862.1 L401.6,862.3 L402.2,862.5 L402.9,862.7 L403.6,862.9 L404.2,863.1 L404.9,863.4 L405.6,863.6 L406.3,863.8 L406.9,864 L407.6,864.2 L408.3,864.4 L408.9,864.6 L409.6,864.8 L410.3,865 L410.9,865.2 L411.6,865.4 L412.3,865.6 L413,865.8 L413.6,866 L414.3,866.2 L415,866.4 L415.6,866.6 L416.3,866.8 L417,867 L417.6,867.2 L418.3,867.4 L419,867.5 L419.6,867.7 L420.3,867.9 L421,868.1 L421.6,868.3 L422.3,868.5 L423,868.7 L423.7,868.8 L424.3,869 L425,869.2 L425.7,869.4 L426.3,869.6 L427,869.7 L427.7,869.9 L428.3,870.1 L429,870.3 L429.7,870.4 L430.3,870.6 L431,870.8 L431.7,871 L432.4,871.1 L433,871.3 L433.7,871.5 L434.4,871.6 L435,871.8 L435.7,872 L436.4,872.1 L437,872.3 L437.7,872.5 L438.4,872.6 L439.1,872.8 L439.7,873 L440.4,873.1 L441.1,873.3 L441.7,873.5 L442.4,873.6 L443.1,873.8 L443.8,874 L444.4,874.1 L445.1,874.3 L445.8,874.4 L446.4,874.6 L447.1,874.8 L447.8,874.9 L448.5,875.1 L449.1,875.2 L449.8,875.4 L450.5,875.6 L451.2,875.7 L451.8,875.9 L452.5,876 L453.2,876.2 L453.9,876.3 L454.5,876.5 L455.2,876.7 L455.9,876.8 L456.6,877 L457.2,877.1 L457.9,877.3 L458.6,877.4 L459.3,877.6 L460,877.7 L460.6,877.9 L461.3,878.1 L462,878.2 L462.7,878.4 L463.4,878.5 L464,878.7 L464.7,878.8 L465.4,879 L466.1,879.1 L466.8,879.3 L467.4,879.4 L468.1,879.6 L468.8,879.8 L469.5,879.9 L470.2,880.1 L470.9,880.2 L471.5,880.4 L472.2,880.5 L472.9,880.7 L473.6,880.8 L474.3,881 L475,881.2 L475.7,881.3 L476.4,881.5 L477,881.6 L477.7,881.8 L478.4,881.9 L479.1,882.1 L479.8,882.3 L480.5,882.4 L481.2,882.6 L481.9,882.7 L482.6,882.9 L483.3,883.1 L484,883.2 L484.7,883.4 L485.4,883.5 L486.1,883.7 L486.7,883.9" stroke="#ff901e"/>
<path d="M292.2,749.6 L292.2,750.2 L292.2,750.9 L292.2,751.6 L292.2,752.2 L292.3,752.9 L292.3,753.6 L292.3,754.3 L292.4,754.9 L292.4,755.6 L292.4,756.3 L292.5,757 L292.5,757.7 L292.6,758.4 L292.6,759 L292.6,759.7 L292.7,760.4 L292.7,761.1 L292.8,761.8 L292.9,762.5 L292.9,763.2 L293,763.9 L293,764.6 L293.1,765.3 L293.2,766 L293.2,766.7 L293.3,767.4 L293.4,768.1 L293.5,768.8 L293.6,769.5 L293.6,770.2 L293.7,770.9 L293.8,771.6 L293.9,772.3 L294,773 L294.1,773.7 L294.2,774.4 L294.3,775.1 L294.5,775.8 L294.6,776.5 L294.7,777.2 L294.8,777.9 L294.9,778.6 L295.1,779.3 L295.2,780 L295.4,780.7 L295.5,781.4 L295.6,782.1 L295.8,782.8 L296,783.5 L296.1,784.1 L296.3,784.8 L296.4,785.5 L296.6,786.2 L296.8,786.9 L297,787.6 L297.2,788.3 L297.4,789 L297.5,789.6 L297.7,790.3 L298,791 L298.2,791.7 L298.4,792.4 L298.6,793 L298.8,793.7 L299,794.4 L299.3,795 L299.5,795.7 L299.8,796.4 L300,797 L300.3,797.7 L300.5,798.3 L300.8,799 L301.1,799.6 L301.3,800.3 L301.6,800.9 L301.9,801.6 L302.2,802.2 L302.5,802.9 L302.8,803.5 L303.1,804.1 L303.4,804.7 L303.7,805.4 L304.1,806 L304.4,806.6 L304.7,807.2 L305.1,807.8 L305.4,808.4 L305.8,809 L306.1,809.6 L306.5,810.2 L306.9,810.8 L307.3,811.4 L307.6,811.9 L308,812.5 L308.4,813.1 L308.8,813.6 L309.2,814.2 L309.7,814.7 L310.1,815.3 L310.5,815.8 L310.9,816.3 L311.4,816.8 L311.8,817.4 L312.3,817.9 L312.8,818.4 L313.2,818.9 L313.7,819.4 L314.2,819.8 L314.7,820.3 L315.2,820.8 L315.7,821.3 L316.2,821.7 L316.7,822.2 L317.2,822.6 L317.7,823 L318.3,823.5 L318.8,823.9 L319.3,824.3 L319.9,824.7 L320.4,825.1 L321,825.5 L321.5,825.9 L322.1,826.3 L322.7,826.7 L323.3,827.1 L323.8,827.5 L324.4,827.9 L325,828.2 L325.6,828.6 L326.2,829 L326.8,829.3 L327.4,829.7 L328,830 L328.6,830.4 L329.2,830.7 L329.8,831.1 L330.4,831.4 L331,831.8 L331.6,832.1 L332.2,832.5 L332.8,832.8 L333.4,833.1 L334.1,833.5 L334.7,833.8 L335.3,834.2 L335.9,834.5 L336.5,834.8 L337.1,835.2 L337.8,835.5 L338.4,835.8 L339,836.1 L339.6,836.5 L340.3,836.8 L340.9,837.1 L341.5,837.4 L342.1,837.8 L342.7,838.2 L343.4,838.6 L344,838.8 L344.6,839 L345.3,839.2 L345.9,839.5 L346.5,839.8 L347.1,840.3 L347.8,840.8 L348.4,841.2 L349,841.5 L349.7,841.6 L350.3,842.3 L350.9,842.3 L351.6,842.5 L352.2,842.8 L352.8,843.1 L353.5,843.3 L354.1,843.5 L354.7,843.7 L355.4,844 L356,844.3 L356.6,844.7 L357.3,845.2 L357.9,845.8 L358.5,846.3 L359.2,846.5 L359.8,846.5 L360.5,846.6 L361.1,846.8 L361.8,847 L362.4,847.2 L363,847.5 L363.7,847.9 L364.3,848.2 L365,848.5 L365.6,848.8 L366.3,849.3 L366.9,849.8 L367.5,850.1 L368.2,850.3 L368.8,850.3 L369.5,850.3 L370.1,850.2 L370.8,850.2 L371.4,850.4 L372.1,851.1 L372.7,851.7 L373.4,852.3 L374,852.7 L374.7,853.1 L375.3,853.3 L376,853.3 L376.6,853.2 L377.3,853.2 L378,853.3 L378.6,853.3 L379.3,853.4 L379.9,853.5 L380.6,854.1 L381.2,854.7 L381.9,855.3 L382.5,855.9 L383.2,856.3 L383.9,856.6 L384.5,856.5 L385.2,856.3 L385.8,856.1 L386.5,856.1 L387.2,856.2 L387.8,856.3 L388.5,856.5 L389.1,857 L389.8,857.4 L390.5,857.8 L391.1,858.3 L391.8,858.8 L392.5,859.5 L393.1,859.6 L393.8,859.5 L394.4,859.3 L395.1,859.1 L395.8,858.9 L396.4,858.7 L397.1,858.9 L397.8,859.4 L398.4,859.9 L399.1,860.4 L399.8,860.9 L400.4,861.5 L401.1,862 L401.8,862.1 L402.5,862.1 L403.1,862 L403.8,861.8 L404.5,861.5 L405.1,861.2 L405.8,861.4 L406.5,861.9 L407.1,862.5 L407.8,863.1 L408.5,863.7 L409.2,864.1 L409.8,864.3 L410.5,864.1 L411.2,864 L411.9,864 L412.5,864 L413.2,863.9 L413.9,863.9 L414.6,864.3 L415.2,864.7 L415.9,865.1 L416.6,865.5 L417.3,866 L417.9,866.4 L418.6,866.4 L419.3,866.2 L420,866.2 L420.6,866.1 L421.3,866.1 L422,866 L422.7,866.3 L423.4,866.7 L424,867.1 L424.7,867.4 L425.4,867.8 L426.1,868.3 L426.8,868.6 L427.4,868.6 L428.1,868.5 L428.8,868.4 L429.5,868.1 L430.2,867.9 L430.8,867.7 L431.5,868.2 L432.2,868.7 L432.9,869.2 L433.6,869.8 L434.3,870.3 L434.9,870.9 L435.6,870.7 L436.3,870.5 L437,870.3 L437.7,870.1 L438.4,869.8 L439,869.5 L439.7,869.8 L440.4,870.3 L441.1,870.8 L441.8,871.4 L442.5,871.9 L443.2,872.4 L443.8,872.5 L444.5,872.3 L445.2,872.1 L445.9,871.9 L446.6,871.7 L447.3,871.5 L448,871.6 L448.6,872 L449.3,872.4 L450,872.8 L450.7,873.1 L451.4,873.6 L452.1,873.9 L452.8,873.8 L453.5,873.7 L454.1,873.6 L454.8,873.5 L455.5,873.3 L456.2,873.1 L456.9,873.5 L457.6,873.8 L458.3,874.2 L459,874.5 L459.7,874.9 L460.3,875.4 L461,875.3 L461.7,875.1 L462.4,874.9 L463.1,874.7 L463.8,874.5 L464.5,874.2 L465.2,874.5 L465.9,875 L466.6,875.5 L467.2,876 L467.9,876.5 L468.6,876.9 L469.3,876.9 L470,876.5 L470.7,876.1 L471.4,875.7 L472.1,875.3 L472.8,875.1 L473.5,875.2 L474.2,875.9 L474.9,876.6 L475.5,877.2 L476.2,877.7 L476.9,878.1 L477.6,878.3 L478.3,877.8 L479,877.3 L479.7,876.9 L480.4,876.5 L481.1,876.2 L481.8,875.9 L482.5,876.5 L483.2,877.1 L483.8,877.6 L484.5,878.2 L485.2,878.7 L485.9,879.2 L486.6,879 L487.3,878.5 L487.3,878.5" stroke="#5c5cff"/>
<path d="M292.5,755.7 L292.5,756.4 L292.5,757.2 L292.5,757.9 L292.6,758.7 L292.6,759.5 L292.6,760.2 L292.7,761 L292.7,761.7 L292.7,762.5 L292.8,763.2 L292.8,763.9 L292.9,764.7 L293,765.4 L293,766.2 L293.1,766.9 L293.2,767.6 L293.3,768.4 L293.4,769.1 L293.4,769.8 L293.5,770.6 L293.6,771.3 L293.7,772 L293.8,772.7 L294,773.4 L294.1,774.2 L294.2,774.9 L294.3,775.6 L294.4,776.3 L294.6,777 L294.7,777.7 L294.9,778.4 L295,779.1 L295.2,779.8 L295.3,780.5 L295.5,781.2 L295.6,781.9 L295.8,782.6 L296,783.3 L296.1,784 L296.3,784.7 L296.5,785.4 L296.7,786 L296.9,786.7 L297.1,787.4 L297.3,788.1 L297.5,788.8 L297.7,789.4 L297.9,790.1 L298.1,790.8 L298.3,791.4 L298.6,792.1 L298.8,792.8 L299,793.4 L299.3,794.1 L299.5,794.7 L299.8,795.4 L300,796 L300.3,796.7 L300.5,797.3 L300.8,798 L301.1,798.6 L301.3,799.3 L301.6,799.9 L301.9,800.5 L302.2,801.2 L302.4,801.8 L302.7,802.4 L303,803.1 L303.3,803.7 L303.6,804.3 L303.9,804.9 L304.2,805.5 L304.6,806.1 L304.9,806.8 L305.2,807.4 L305.5,808 L305.8,808.6 L306.2,809.2 L306.5,809.8 L306.8,810.4 L307.2,811 L307.5,811.6 L307.9,812.2 L308.2,812.8 L308.6,813.3 L309,813.9 L309.3,814.5 L309.7,815.1 L310.1,815.7 L310.4,816.2 L310.8,816.8 L311.2,817.4 L311.6,817.9 L312,818.5 L312.4,819.1 L312.8,819.6 L313.2,820.2 L313.6,820.7 L314,821.3 L314.4,821.8 L314.8,822.4 L315.2,822.9 L315.6,823.5 L316.1,824 L316.5,824.5 L316.9,825.1 L317.4,825.6 L317.8,826.1 L318.2,826.7 L318.7,827.2 L319.1,827.7 L319.6,828.2 L320,828.6 L320.5,829.4 L320.9,830 L321.4,830.6 L321.9,831.1 L322.3,831.5 L322.8,831.8 L323.3,832.1 L323.8,832.4 L324.2,832.7 L324.7,833.2 L325.2,833.8 L325.7,834.6 L326.2,835.3 L326.7,836.1 L327.2,836.8 L327.7,837.3 L328.2,837.7 L328.7,838 L329.2,838.1 L329.7,838.3 L330.2,838.4 L330.8,838.7 L331.3,839.2 L331.8,839.7 L332.3,840.4 L332.9,841 L333.4,841.6 L333.9,842.2 L334.5,842.7 L335,843.1 L335.5,843.5 L336.1,843.9 L336.6,844.3 L337.2,844.8 L337.7,845.3 L338.3,845.7 L338.9,846.1 L339.4,846.4 L340,846.6 L340.5,846.8 L341.1,846.9 L341.7,847.2 L342.2,847.6 L342.8,848.2 L343.4,848.9 L344,849.7 L344.6,850.3 L345.1,850.9 L345.7,851.2 L346.3,851.4 L346.9,851.4 L347.5,851.4 L348.1,851.6 L348.7,851.9 L349.3,852.4 L349.9,853.1 L350.5,853.8 L351.1,854.4 L351.7,854.8 L352.3,855.1 L352.9,855.2 L353.5,855.2 L354.1,855.3 L354.7,855.5 L355.3,855.8 L355.9,856.3 L356.6,856.9 L357.2,857.5 L357.8,858.1 L358.4,858.5 L359,858.8 L359.7,859 L360.3,859.3 L360.9,859.5 L361.5,859.7 L362.2,860 L362.8,860.2 L363.4,860.4 L364.1,860.6 L364.7,860.8 L365.3,861.1 L366,861.6 L366.6,862.1 L367.2,862.7 L367.9,863.3 L368.5,863.8 L369.2,864.1 L369.8,864.2 L370.5,864.1 L371.1,864.1 L371.7,864.1 L372.4,864.2 L373,864.6 L373.7,865.1 L374.3,865.7 L375,866.3 L375.6,866.7 L376.3,866.9 L376.9,867 L377.6,867.1 L378.2,867.2 L378.9,867.4 L379.6,867.7 L380.2,868.1 L380.9,868.6 L381.5,869 L382.2,869.3 L382.8,869.5 L383.5,869.6 L384.2,869.7 L384.8,869.8 L385.5,870 L386.1,870.2 L386.8,870.5 L387.5,870.8 L388.1,871.2 L388.8,871.5 L389.4,871.8 L390.1,872.1 L390.8,872.4 L391.4,872.8 L392.1,873 L392.7,873.2 L393.4,873.4 L394.1,873.4 L394.7,873.4 L395.4,873.5 L396.1,873.6 L396.7,873.9 L397.4,874.2 L398.1,874.7 L398.7,875.1 L399.4,875.5 L400.1,876.1 L400.7,876.2 L401.4,876.2 L402.1,876.2 L402.7,876.1 L403.4,876.2 L404.1,876.3 L404.7,876.6 L405.4,877 L406.1,877.3 L406.7,877.6 L407.4,877.9 L408.1,878.1 L408.7,878.2 L409.4,878.4 L410.1,878.6 L410.8,878.8 L411.4,879.1 L412.1,879.3 L412.8,879.4 L413.4,879.6 L414.1,879.7 L414.8,879.8 L415.5,879.9 L416.1,880.2 L416.8,880.6 L417.5,880.9 L418.1,881.1 L418.8,881.3 L419.5,881.3 L420.2,881.3 L420.8,881.3 L421.5,881.4 L422.2,881.7 L422.9,882.1 L423.5,882.6 L424.2,883 L424.9,883.3 L425.6,883.5 L426.2,883.4 L426.9,883.2 L427.6,883.2 L428.3,883.2 L428.9,883.3 L429.6,883.5 L430.3,883.8 L431,884.1 L431.6,884.4 L432.3,884.7 L433,884.9 L433.7,885.3 L434.4,885.7 L435,885.9 L435.7,886 L436.4,886 L437.1,885.8 L437.7,885.5 L438.4,885.2 L439.1,885.2 L439.8,885.5 L440.5,886.1 L441.1,886.9 L441.8,887.7 L442.5,888.3 L443.2,888.3 L443.9,888.1 L444.5,887.7 L445.2,887.3 L445.9,887.1 L446.6,887.1 L447.2,887.6 L447.9,888.1 L448.6,888.6 L449.3,889 L450,889.2 L450.6,889.3 L451.3,889.3 L452,889.3 L452.7,889.4 L453.4,889.5 L454,889.7 L454.7,889.7 L455.4,889.7 L456.1,889.9 L456.8,890.1 L457.4,890.4 L458.1,890.8 L458.8,891.3 L459.5,891.8 L460.2,891.8 L460.8,891.6 L461.5,891.2 L462.2,890.8 L462.9,890.5 L463.6,890.6 L464.3,891.2 L464.9,892.1 L465.6,893 L466.3,893.6 L467,893.8 L467.7,893.7 L468.3,893.2 L469,892.7 L469.7,892.3 L470.4,892.4 L471.1,892.7 L471.7,893.1 L472.4,893.6 L473.1,894 L473.8,894.3 L474.5,894.4 L475.1,894.5 L475.8,894.7 L476.5,895.1 L477.2,895.3 L477.9,895.4 L478.5,895.4 L479.2,895.2 L479.9,894.9 L480.6,894.6 L481.3,894.8 L481.9,895.2 L482.6,895.9 L483.3,896.5 L484,897 L484.7,897.3 L485.3,897.2" stroke="#2a2a2a"/>
<path d="M292.4,755.7 L292.4,756.5 L292.4,757.2 L292.5,758 L292.5,758.7 L292.6,759.5 L292.6,760.3 L292.6,761 L292.7,761.7 L292.8,762.5 L292.8,763.2 L292.9,764 L292.9,764.7 L293,765.5 L293.1,766.2 L293.2,766.9 L293.2,767.7 L293.3,768.4 L293.4,769.1 L293.5,769.9 L293.6,770.6 L293.7,771.3 L293.8,772 L293.9,772.8 L294,773.5 L294.1,774.2 L294.2,774.9 L294.3,775.6 L294.4,776.3 L294.5,777.1 L294.7,777.8 L294.8,778.5 L294.9,779.2 L295.1,779.9 L295.2,780.6 L295.3,781.3 L295.5,782 L295.6,782.7 L295.8,783.4 L296,784.1 L296.1,784.8 L296.3,785.4 L296.4,786.1 L296.6,786.8 L296.8,787.5 L297,788.2 L297.2,788.8 L297.3,789.5 L297.5,790.2 L297.7,790.9 L297.9,791.5 L298.1,792.2 L298.3,792.9 L298.5,793.5 L298.8,794.2 L299,794.9 L299.2,795.5 L299.4,796.2 L299.7,796.8 L299.9,797.5 L300.1,798.1 L300.4,798.8 L300.6,799.4 L300.9,800.1 L301.1,800.7 L301.4,801.3 L301.7,802 L301.9,802.6 L302.2,803.2 L302.5,803.9 L302.8,804.5 L303,805.1 L303.3,805.7 L303.6,806.4 L303.9,807 L304.2,807.6 L304.5,808.2 L304.8,808.8 L305.1,809.4 L305.5,810 L305.8,810.6 L306.1,811.2 L306.4,811.8 L306.8,812.4 L307.1,813 L307.5,813.6 L307.8,814.2 L308.1,814.8 L308.5,815.4 L308.9,815.9 L309.2,816.5 L309.6,817.1 L309.9,817.7 L310.3,818.2 L310.7,818.8 L311.1,819.4 L311.5,819.9 L311.8,820.5 L312.2,821.1 L312.6,821.6 L313,822.2 L313.4,822.7 L313.8,823.3 L314.3,823.8 L314.7,824.4 L315.1,824.9 L315.5,825.4 L315.9,826 L316.4,826.5 L316.8,827 L317.2,827.6 L317.7,828.1 L318.1,828.6 L318.6,829.1 L319,829.6 L319.5,830.2 L319.9,830.7 L320.4,830.9 L320.9,831.4 L321.3,831.9 L321.8,832.5 L322.3,833.1 L322.8,833.8 L323.3,834.4 L323.7,835 L324.2,835.5 L324.7,836 L325.2,836.4 L325.7,836.7 L326.2,837 L326.8,837.3 L327.3,837.7 L327.8,838.1 L328.3,838.6 L328.8,839.1 L329.4,839.6 L329.9,840.2 L330.4,840.8 L331,841.3 L331.5,841.8 L332,842.3 L332.6,842.7 L333.1,843.1 L333.7,843.5 L334.2,843.9 L334.8,844.2 L335.4,844.6 L335.9,845 L336.5,845.4 L337,845.8 L337.6,846.3 L338.2,846.7 L338.8,847.1 L339.3,847.6 L339.9,848 L340.5,848.5 L341.1,848.9 L341.6,849.3 L342.2,849.7 L342.8,850.1 L343.4,850.4 L344,850.7 L344.6,851 L345.2,851.4 L345.8,851.9 L346.4,852.4 L347,852.9 L347.6,853.3 L348.2,853.6 L348.8,853.8 L349.4,854 L350,854.2 L350.6,854.6 L351.2,855.1 L351.8,855.6 L352.4,856.2 L353,856.7 L353.6,857 L354.3,857.2 L354.9,857.3 L355.5,857.5 L356.1,857.8 L356.7,858.2 L357.3,858.7 L358,859.3 L358.6,859.7 L359.2,860 L359.8,860.1 L360.4,860.2 L361.1,860.3 L361.7,860.7 L362.3,861.1 L362.9,861.7 L363.6,862.3 L364.2,862.8 L364.8,863.1 L365.5,863.3 L366.1,863.3 L366.7,863.4 L367.4,863.5 L368,863.8 L368.6,864.2 L369.3,864.6 L369.9,865 L370.5,865.4 L371.2,865.7 L371.8,866.1 L372.5,866.4 L373.1,866.8 L373.7,867.1 L374.4,867.4 L375,867.5 L375.7,867.6 L376.3,867.6 L377,867.8 L377.6,868.1 L378.3,868.6 L378.9,869 L379.6,869.5 L380.2,869.8 L380.8,870 L381.5,870.2 L382.1,870.4 L382.8,870.6 L383.5,871 L384.1,871.3 L384.8,871.6 L385.4,871.8 L386.1,871.8 L386.7,871.9 L387.4,872 L388,872.3 L388.7,872.7 L389.3,873.2 L390,873.7 L390.7,874 L391.3,874.2 L392,874.3 L392.6,874.3 L393.3,874.5 L394,874.7 L394.6,874.9 L395.3,875.2 L395.9,875.4 L396.6,875.6 L397.3,875.8 L397.9,876.1 L398.6,876.4 L399.2,876.7 L399.9,877.1 L400.6,877.3 L401.2,877.4 L401.9,877.4 L402.6,877.5 L403.2,877.6 L403.9,877.9 L404.6,878.3 L405.2,878.8 L405.9,879.1 L406.6,879.2 L407.2,879.2 L407.9,879.2 L408.6,879.2 L409.2,879.4 L409.9,879.8 L410.6,880.2 L411.2,880.6 L411.9,880.9 L412.6,881.1 L413.2,881.1 L413.9,881.1 L414.6,881.1 L415.2,881.3 L415.9,881.6 L416.6,881.9 L417.3,882.2 L417.9,882.4 L418.6,882.5 L419.3,882.6 L419.9,882.7 L420.6,882.9 L421.3,883.1 L422,883.4 L422.6,883.7 L423.3,884 L424,884.2 L424.6,884.3 L425.3,884.3 L426,884.3 L426.7,884.3 L427.3,884.4 L428,884.6 L428.7,884.9 L429.4,885.3 L430,885.7 L430.7,886 L431.4,886.2 L432.1,886.2 L432.7,886.2 L433.4,886.2 L434.1,886.3 L434.8,886.4 L435.5,886.6 L436.1,886.8 L436.8,887 L437.5,887.1 L438.2,887.3 L438.8,887.5 L439.5,887.9 L440.2,888.2 L440.9,888.5 L441.6,888.6 L442.2,888.5 L442.9,888.4 L443.6,888.3 L444.3,888.4 L445,888.7 L445.6,889.1 L446.3,889.4 L447,889.7 L447.7,889.7 L448.4,889.7 L449,889.7 L449.7,889.8 L450.4,890.2 L451.1,890.6 L451.8,890.9 L452.5,891 L453.1,890.9 L453.8,890.6 L454.5,890.5 L455.2,890.6 L455.9,891 L456.6,891.6 L457.2,892.1 L457.9,892.4 L458.6,892.4 L459.3,892.1 L460,891.9 L460.7,891.8 L461.4,892.1 L462,892.5 L462.7,893 L463.4,893.3 L464.1,893.4 L464.8,893.3 L465.5,893.1 L466.2,893.1 L466.8,893.3 L467.5,893.6 L468.2,894 L468.9,894.2 L469.6,894.4 L470.3,894.4 L471,894.4 L471.7,894.5 L472.3,894.7 L473,894.9 L473.7,895.1 L474.4,895.2 L475.1,895.2 L475.8,895.2 L476.5,895.3 L477.2,895.4 L477.9,895.7 L478.6,896 L479.2,896.3 L479.9,896.5 L480.6,896.5 L481.3,896.6 L482,896.7 L482.7,896.8 L483.4,896.9 L484.1,897 L484.8,897.1 L485,897.2" stroke="#26cc26"/>
</g>
<path d="M292,725.7 V904.2 H487.5" fill="none" stroke="#2a2a2a" stroke-width="1.35"/>
<path d="M292,756.9h2.6 M292,749h2.6 M292,743.4h2.6 M292,739.1h2.6 M292,735.6h2.6 M292,732.6h2.6 M292,730h2.6 M292,727.7h2.6 M292,801.5h2.6 M292,793.6h2.6 M292,788h2.6 M292,783.7h2.6 M292,780.2h2.6 M292,777.2h2.6 M292,774.6h2.6 M292,772.3h2.6 M292,846.1h2.6 M292,838.2h2.6 M292,832.6h2.6 M292,828.3h2.6 M292,824.8h2.6 M292,821.8h2.6 M292,819.2h2.6 M292,816.9h2.6 M292,890.7h2.6 M292,882.8h2.6 M292,877.2h2.6 M292,872.9h2.6 M292,869.4h2.6 M292,866.4h2.6 M292,863.8h2.6 M292,861.5h2.6 M299.9,904.2v-2.6 M308,904.2v-2.6 M316.2,904.2v-2.6 M332.5,904.2v-2.6 M340.6,904.2v-2.6 M348.8,904.2v-2.6 M357,904.2v-2.6 M373.3,904.2v-2.6 M381.4,904.2v-2.6 M389.6,904.2v-2.6 M397.8,904.2v-2.6 M414.1,904.2v-2.6 M422.2,904.2v-2.6 M430.4,904.2v-2.6 M438.5,904.2v-2.6 M454.9,904.2v-2.6 M463,904.2v-2.6 M471.2,904.2v-2.6 M479.3,904.2v-2.6" fill="none" stroke="#aaa" stroke-width="0.9"/>
<path d="M292,725.7h4.7 M292,770.3h4.7 M292,814.9h4.7 M292,859.5h4.7 M292,904.1h4.7 M324.3,904.2v-4.6 M365.1,904.2v-4.6 M405.9,904.2v-4.6 M446.7,904.2v-4.6 M487.5,904.2v-4.6" fill="none" stroke="#444" stroke-width="1.3"/>
<path d="M347,0L259,0L259,560C238,540 210,520 175,499C140,478 109,463 82,453L82,538C131,561 174,589 211,621C248,653 274,685 289,716L347,716Z" transform="translate(274.95,728.40) scale(0.00940,-0.00940)" style="fill:#111;stroke:#111;stroke-width:23.4"/>
<text x="280.17" y="728.40" font-size="9.4" class="tl">0</text>
<text x="285.4" y="725.2" font-size="6.2" class="tl">7</text>
<path d="M347,0L259,0L259,560C238,540 210,520 175,499C140,478 109,463 82,453L82,538C131,561 174,589 211,621C248,653 274,685 289,716L347,716Z" transform="translate(274.95,773.00) scale(0.00940,-0.00940)" style="fill:#111;stroke:#111;stroke-width:23.4"/>
<text x="280.17" y="773.00" font-size="9.4" class="tl">0</text>
<text x="285.4" y="769.8" font-size="6.2" class="tl">6</text>
<path d="M347,0L259,0L259,560C238,540 210,520 175,499C140,478 109,463 82,453L82,538C131,561 174,589 211,621C248,653 274,685 289,716L347,716Z" transform="translate(274.95,817.60) scale(0.00940,-0.00940)" style="fill:#111;stroke:#111;stroke-width:23.4"/>
<text x="280.17" y="817.60" font-size="9.4" class="tl">0</text>
<text x="285.4" y="814.4" font-size="6.2" class="tl">5</text>
<path d="M347,0L259,0L259,560C238,540 210,520 175,499C140,478 109,463 82,453L82,538C131,561 174,589 211,621C248,653 274,685 289,716L347,716Z" transform="translate(274.95,862.20) scale(0.00940,-0.00940)" style="fill:#111;stroke:#111;stroke-width:23.4"/>
<text x="280.17" y="862.20" font-size="9.4" class="tl">0</text>
<text x="285.4" y="859" font-size="6.2" class="tl">4</text>
<path d="M347,0L259,0L259,560C238,540 210,520 175,499C140,478 109,463 82,453L82,538C131,561 174,589 211,621C248,653 274,685 289,716L347,716Z" transform="translate(274.95,906.80) scale(0.00940,-0.00940)" style="fill:#111;stroke:#111;stroke-width:23.4"/>
<text x="280.17" y="906.80" font-size="9.4" class="tl">0</text>
<text x="285.4" y="903.6" font-size="6.2" class="tl">3</text>
<path d="M347,0L259,0L259,560C238,540 210,520 175,499C140,478 109,463 82,453L82,538C131,561 174,589 211,621C248,653 274,685 289,716L347,716Z" transform="translate(318.83,913.30) scale(0.00990,-0.00990)" style="fill:#111;stroke:#111;stroke-width:22.2"/>
<text x="324.33" y="913.30" font-size="9.9" class="tl">0</text>
<text x="359.62" y="913.30" font-size="9.9" class="tl">20</text>
<text x="400.41" y="913.30" font-size="9.9" class="tl">30</text>
<text x="441.20" y="913.30" font-size="9.9" class="tl">40</text>
<text x="482.00" y="913.30" font-size="9.9" class="tl">50</text>
<text x="389.8" y="922.7" font-size="8.3" font-weight="bold" text-anchor="middle" class="bl">R [km]</text>
<text transform="translate(274.2,815) rotate(-90)" font-size="8.3" font-weight="bold" text-anchor="middle" class="bl">Dust number density [m<tspan font-size="5.15" dy="-3.98">-3</tspan><tspan dy="3.98">]</tspan></text>
<path d="M415,767.3H445.9" stroke="#d42a2a" stroke-width="1.35"/>
<text x="451.90" y="769.90" font-size="7.4" class="lg" font-weight="bold">5°</text>
<path d="M415,775.6H445.9" stroke="#ff901e" stroke-width="1.35"/>
<text x="451.90" y="778.25" font-size="7.4" class="lg" font-weight="bold">45°</text>
<path d="M415,784H445.9" stroke="#5c5cff" stroke-width="1.35"/>
<text x="451.90" y="786.60" font-size="7.4" class="lg" font-weight="bold">90°</text>
<path d="M415,792.3H445.9" stroke="#2a2a2a" stroke-width="1.35"/>
<path d="M387,0L250,0L250,516C200,469 141,434 73,411L73,535C109,547 148,569 190,601C232,634 261,672 276,716L387,716Z" transform="translate(451.90,794.95) scale(0.00740,-0.00740)" style="fill:#111;stroke:#111;stroke-width:54.1"/>
<text x="456.01" y="794.95" font-size="7.4" class="lg" font-weight="bold">35°</text>
<path d="M415,800.7H445.9" stroke="#26cc26" stroke-width="1.35"/>
<path d="M387,0L250,0L250,516C200,469 141,434 73,411L73,535C109,547 148,569 190,601C232,634 261,672 276,716L387,716Z" transform="translate(451.90,803.30) scale(0.00740,-0.00740)" style="fill:#111;stroke:#111;stroke-width:54.1"/>
<text x="456.01" y="803.30" font-size="7.4" class="lg" font-weight="bold">75°</text>
<text x="388.6" y="943.2" font-size="13.0" font-family="Liberation Serif, serif" text-anchor="middle" class="cp">(h)</text>
</svg>
</body></html>
